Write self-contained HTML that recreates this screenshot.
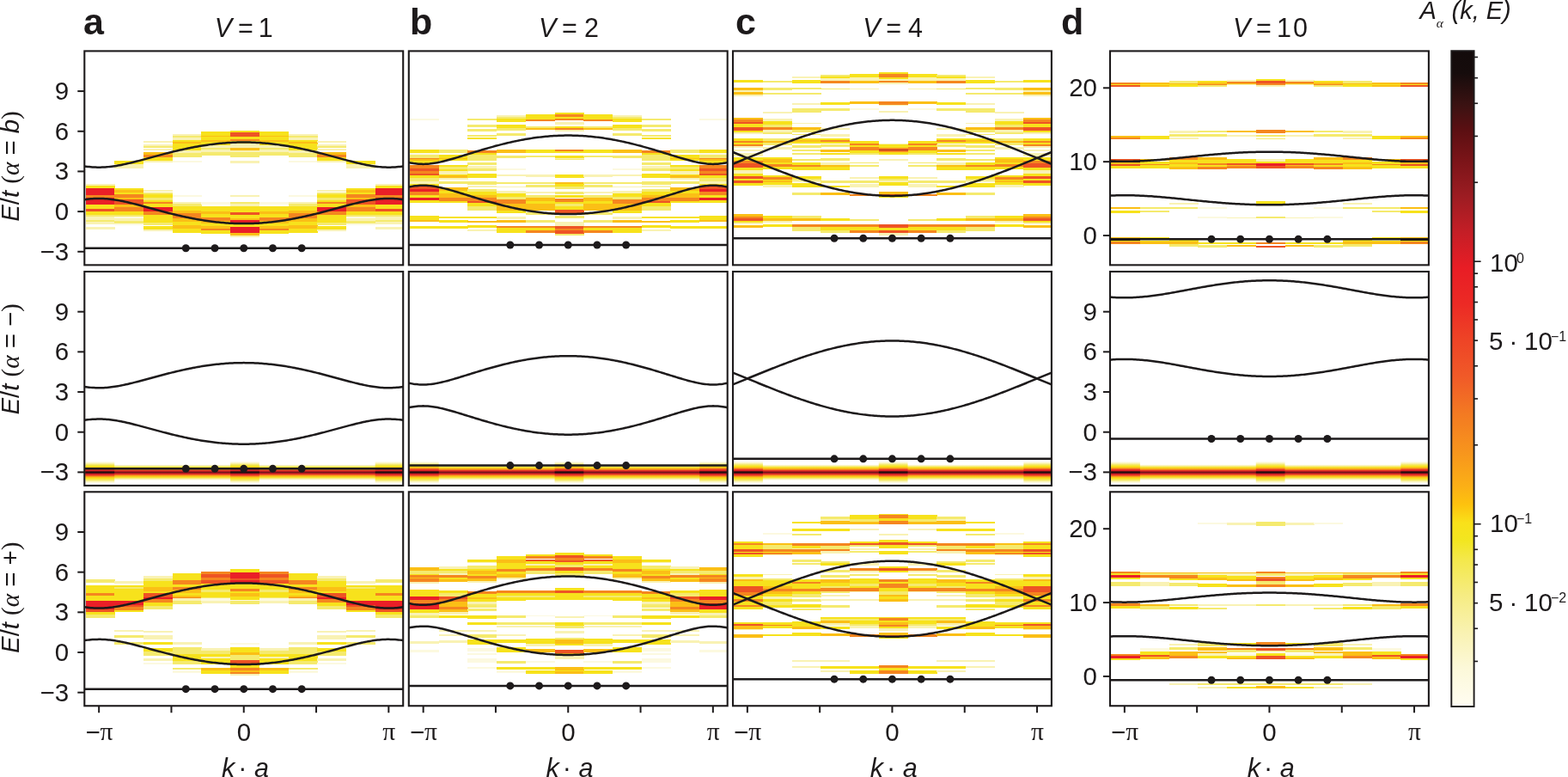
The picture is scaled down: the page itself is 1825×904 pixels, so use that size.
<!DOCTYPE html>
<html><head><meta charset="utf-8"><style>
html,body{margin:0;padding:0;background:#fff;overflow:hidden;}
svg{display:block;}
.tl{font-family:"Liberation Sans", Arial, Helvetica, sans-serif;font-size:30.5px;fill:#1d1a1b;}
.lt{font-family:"Liberation Sans", Arial, Helvetica, sans-serif;font-size:43px;font-weight:bold;fill:#1d1a1b;}
.al{font-family:"Liberation Serif","DejaVu Serif",serif;font-style:italic;}
.sf{font-family:"Liberation Serif","DejaVu Serif",serif;}
.sup{font-size:16px;}
.tk{font-family:"Liberation Sans", Arial, Helvetica, sans-serif;font-size:29.5px;fill:#1d1a1b;}
.pi{font-family:"Liberation Serif","DejaVu Serif",serif;}
</style></head><body>
<svg width="1825" height="904" viewBox="0 0 1825 904">
<defs><clipPath id="clip00"><rect x="98.3" y="59.4" width="370.9" height="248.95"/></clipPath>
<clipPath id="clip01"><rect x="98.3" y="316" width="370.9" height="248.95"/></clipPath>
<clipPath id="clip02"><rect x="98.3" y="572.3" width="370.9" height="248.95"/></clipPath>
<clipPath id="clip10"><rect x="475.8" y="59.4" width="370.9" height="248.95"/></clipPath>
<clipPath id="clip11"><rect x="475.8" y="316" width="370.9" height="248.95"/></clipPath>
<clipPath id="clip12"><rect x="475.8" y="572.3" width="370.9" height="248.95"/></clipPath>
<clipPath id="clip20"><rect x="853" y="59.4" width="370.9" height="248.95"/></clipPath>
<clipPath id="clip21"><rect x="853" y="316" width="370.9" height="248.95"/></clipPath>
<clipPath id="clip22"><rect x="853" y="572.3" width="370.9" height="248.95"/></clipPath>
<clipPath id="clip30"><rect x="1292" y="59.4" width="370.9" height="248.95"/></clipPath>
<clipPath id="clip31"><rect x="1292" y="316" width="370.9" height="248.95"/></clipPath>
<clipPath id="clip32"><rect x="1292" y="572.3" width="370.9" height="248.95"/></clipPath>
<linearGradient id="cbg" x1="0" y1="0" x2="0" y2="1"><stop offset="0.0" stop-color="#130b0b"/><stop offset="0.034" stop-color="#160c0c"/><stop offset="0.084" stop-color="#3c1212"/><stop offset="0.122" stop-color="#5c0f12"/><stop offset="0.166" stop-color="#7a1418"/><stop offset="0.221" stop-color="#9c1c22"/><stop offset="0.276" stop-color="#c41e26"/><stop offset="0.331" stop-color="#e81d25"/><stop offset="0.386" stop-color="#ec2a25"/><stop offset="0.441" stop-color="#ee4426"/><stop offset="0.497" stop-color="#f05a28"/><stop offset="0.554" stop-color="#f37a22"/><stop offset="0.61" stop-color="#f7941d"/><stop offset="0.665" stop-color="#fbb016"/><stop offset="0.692" stop-color="#fdc20e"/><stop offset="0.72" stop-color="#f9e11a"/><stop offset="0.747" stop-color="#f2e620"/><stop offset="0.775" stop-color="#f4e84a"/><stop offset="0.83" stop-color="#f6ec82"/><stop offset="0.885" stop-color="#f9f2b0"/><stop offset="0.94" stop-color="#fcf8d8"/><stop offset="1.0" stop-color="#fffdf2"/></linearGradient>
<linearGradient id="gw" x1="0" y1="0" x2="0" y2="1"><stop offset="0.0" stop-color="#ffffff"/><stop offset="0.0769" stop-color="#fbf6c8"/><stop offset="0.1538" stop-color="#f5ea6a"/><stop offset="0.2308" stop-color="#f6e31d"/><stop offset="0.2885" stop-color="#fbc015"/><stop offset="0.3346" stop-color="#f47a22"/><stop offset="0.3731" stop-color="#eb3b25"/><stop offset="0.4231" stop-color="#d81f26"/><stop offset="0.4538" stop-color="#6a1216"/><stop offset="0.5" stop-color="#1c0d0d"/><stop offset="0.5462" stop-color="#6a1216"/><stop offset="0.5769" stop-color="#d81f26"/><stop offset="0.6269" stop-color="#eb3b25"/><stop offset="0.6654" stop-color="#f47a22"/><stop offset="0.7115" stop-color="#fbc015"/><stop offset="0.7692" stop-color="#f6e31d"/><stop offset="0.8462" stop-color="#f5ea6a"/><stop offset="0.9231" stop-color="#fbf6c8"/><stop offset="1.0" stop-color="#ffffff"/></linearGradient>
<linearGradient id="gn" x1="0" y1="0" x2="0" y2="1"><stop offset="0.0" stop-color="#ffffff"/><stop offset="0.0968" stop-color="#f8f0a4"/><stop offset="0.1774" stop-color="#f5e535"/><stop offset="0.2581" stop-color="#fbc015"/><stop offset="0.3226" stop-color="#f58a20"/><stop offset="0.3763" stop-color="#ec3b25"/><stop offset="0.4301" stop-color="#c81e25"/><stop offset="0.5" stop-color="#6e1418"/><stop offset="0.5699" stop-color="#c81e25"/><stop offset="0.6237" stop-color="#ec3b25"/><stop offset="0.6774" stop-color="#f58a20"/><stop offset="0.7419" stop-color="#fbc015"/><stop offset="0.8226" stop-color="#f5e535"/><stop offset="0.9032" stop-color="#f8f0a4"/><stop offset="1.0" stop-color="#ffffff"/></linearGradient></defs>
<rect width="100%" height="100%" fill="#fff"/>
<g clip-path="url(#clip00)">
<rect x="99.5" y="214.09" width="34.02" height="2.21" fill="#f9f2b4" shape-rendering="crispEdges"/>
<rect x="99.5" y="216.3" width="34.02" height="2.21" fill="#f7e21c" shape-rendering="crispEdges"/>
<rect x="99.5" y="218.51" width="34.02" height="8.3" fill="#ea1f27" shape-rendering="crispEdges"/>
<rect x="99.5" y="226.82" width="34.02" height="2.77" fill="#f5861f" shape-rendering="crispEdges"/>
<rect x="99.5" y="229.58" width="34.02" height="8.3" fill="#ea1f27" shape-rendering="crispEdges"/>
<rect x="99.5" y="237.88" width="34.02" height="5.53" fill="#f7e21c" shape-rendering="crispEdges"/>
<rect x="99.5" y="243.42" width="34.02" height="2.77" fill="#ee5424" shape-rendering="crispEdges"/>
<rect x="99.5" y="246.18" width="34.02" height="3.32" fill="#f7e21c" shape-rendering="crispEdges"/>
<rect x="99.5" y="249.51" width="34.02" height="2.77" fill="#f5ea6e" shape-rendering="crispEdges"/>
<rect x="99.5" y="252.27" width="34.02" height="3.32" fill="#f9f2b4" shape-rendering="crispEdges"/>
<rect x="99.5" y="255.59" width="34.02" height="2.77" fill="#f5ea6e" shape-rendering="crispEdges"/>
<rect x="99.5" y="258.36" width="34.02" height="2.21" fill="#f9f2b4" shape-rendering="crispEdges"/>
<rect x="99.5" y="264.45" width="34.02" height="2.21" fill="#f9f2b4" shape-rendering="crispEdges"/>
<rect x="133.22" y="186.84" width="34.02" height="4.65" fill="#f7e21c" shape-rendering="crispEdges"/>
<rect x="133.22" y="191.49" width="34.02" height="4.98" fill="#f9f2b4" shape-rendering="crispEdges"/>
<rect x="133.22" y="218.51" width="34.02" height="2.21" fill="#f7e21c" shape-rendering="crispEdges"/>
<rect x="133.22" y="220.73" width="34.02" height="2.77" fill="#fbbf16" shape-rendering="crispEdges"/>
<rect x="133.22" y="223.5" width="34.02" height="2.77" fill="#f7e21c" shape-rendering="crispEdges"/>
<rect x="133.22" y="226.26" width="34.02" height="3.87" fill="#f5861f" shape-rendering="crispEdges"/>
<rect x="133.22" y="230.14" width="34.02" height="2.21" fill="#fbbf16" shape-rendering="crispEdges"/>
<rect x="133.22" y="232.35" width="34.02" height="5.53" fill="#ee5424" shape-rendering="crispEdges"/>
<rect x="133.22" y="237.88" width="34.02" height="3.32" fill="#fbbf16" shape-rendering="crispEdges"/>
<rect x="133.22" y="241.2" width="34.02" height="4.98" fill="#f5861f" shape-rendering="crispEdges"/>
<rect x="133.22" y="246.18" width="34.02" height="3.32" fill="#f7e21c" shape-rendering="crispEdges"/>
<rect x="133.22" y="249.51" width="34.02" height="2.21" fill="#f5ea6e" shape-rendering="crispEdges"/>
<rect x="133.22" y="251.72" width="34.02" height="2.77" fill="#fcf9e0" shape-rendering="crispEdges"/>
<rect x="133.22" y="254.49" width="34.02" height="2.77" fill="#f9f2b4" shape-rendering="crispEdges"/>
<rect x="133.22" y="257.25" width="34.02" height="2.77" fill="#f5ea6e" shape-rendering="crispEdges"/>
<rect x="133.22" y="260.02" width="34.02" height="2.21" fill="#fcf9e0" shape-rendering="crispEdges"/>
<rect x="166.94" y="164.37" width="34.02" height="1.66" fill="#f9f2b4" shape-rendering="crispEdges"/>
<rect x="166.94" y="167.69" width="34.02" height="1.88" fill="#f9f2b4" shape-rendering="crispEdges"/>
<rect x="166.94" y="170.46" width="34.02" height="1.99" fill="#f5ea6e" shape-rendering="crispEdges"/>
<rect x="166.94" y="173.22" width="34.02" height="1.88" fill="#f9f2b4" shape-rendering="crispEdges"/>
<rect x="166.94" y="177.1" width="34.02" height="3.32" fill="#fbbf16" shape-rendering="crispEdges"/>
<rect x="166.94" y="180.42" width="34.02" height="2.77" fill="#f5861f" shape-rendering="crispEdges"/>
<rect x="166.94" y="183.18" width="34.02" height="3.65" fill="#f7e21c" shape-rendering="crispEdges"/>
<rect x="166.94" y="186.84" width="34.02" height="2.21" fill="#f9f2b4" shape-rendering="crispEdges"/>
<rect x="166.94" y="221.28" width="34.02" height="2.21" fill="#f9f2b4" shape-rendering="crispEdges"/>
<rect x="166.94" y="223.5" width="34.02" height="2.21" fill="#f5ea6e" shape-rendering="crispEdges"/>
<rect x="166.94" y="225.71" width="34.02" height="4.43" fill="#f7e21c" shape-rendering="crispEdges"/>
<rect x="166.94" y="230.14" width="34.02" height="2.77" fill="#f5ea6e" shape-rendering="crispEdges"/>
<rect x="166.94" y="232.9" width="34.02" height="2.21" fill="#f7e21c" shape-rendering="crispEdges"/>
<rect x="166.94" y="235.12" width="34.02" height="2.21" fill="#f5861f" shape-rendering="crispEdges"/>
<rect x="166.94" y="237.33" width="34.02" height="3.87" fill="#f7e21c" shape-rendering="crispEdges"/>
<rect x="166.94" y="241.2" width="34.02" height="4.43" fill="#ea1f27" shape-rendering="crispEdges"/>
<rect x="166.94" y="245.63" width="34.02" height="4.43" fill="#f5861f" shape-rendering="crispEdges"/>
<rect x="166.94" y="250.06" width="34.02" height="8.85" fill="#f7e21c" shape-rendering="crispEdges"/>
<rect x="166.94" y="258.91" width="34.02" height="3.32" fill="#f5ea6e" shape-rendering="crispEdges"/>
<rect x="166.94" y="263.34" width="34.02" height="3.32" fill="#f7e21c" shape-rendering="crispEdges"/>
<rect x="166.94" y="266.66" width="34.02" height="2.77" fill="#f9f2b4" shape-rendering="crispEdges"/>
<rect x="200.65" y="155.51" width="34.02" height="2.21" fill="#f9f2b4" shape-rendering="crispEdges"/>
<rect x="200.65" y="157.73" width="34.02" height="2.21" fill="#f5ea6e" shape-rendering="crispEdges"/>
<rect x="200.65" y="159.94" width="34.02" height="2.77" fill="#f9f2b4" shape-rendering="crispEdges"/>
<rect x="200.65" y="162.71" width="34.02" height="2.21" fill="#f7e21c" shape-rendering="crispEdges"/>
<rect x="200.65" y="164.92" width="34.02" height="1.66" fill="#fbbf16" shape-rendering="crispEdges"/>
<rect x="200.65" y="166.58" width="34.02" height="8.3" fill="#f7e21c" shape-rendering="crispEdges"/>
<rect x="200.65" y="174.88" width="34.02" height="3.32" fill="#f9f2b4" shape-rendering="crispEdges"/>
<rect x="200.65" y="178.2" width="34.02" height="4.43" fill="#f5ea6e" shape-rendering="crispEdges"/>
<rect x="200.65" y="186.51" width="34.02" height="2.21" fill="#fcf9e0" shape-rendering="crispEdges"/>
<rect x="200.65" y="226.82" width="34.02" height="2.21" fill="#fcf9e0" shape-rendering="crispEdges"/>
<rect x="200.65" y="234.56" width="34.02" height="2.21" fill="#f9f2b4" shape-rendering="crispEdges"/>
<rect x="200.65" y="236.78" width="34.02" height="3.32" fill="#f5ea6e" shape-rendering="crispEdges"/>
<rect x="200.65" y="240.1" width="34.02" height="4.43" fill="#f7e21c" shape-rendering="crispEdges"/>
<rect x="200.65" y="244.52" width="34.02" height="3.32" fill="#fbbf16" shape-rendering="crispEdges"/>
<rect x="200.65" y="247.85" width="34.02" height="6.64" fill="#f5861f" shape-rendering="crispEdges"/>
<rect x="200.65" y="254.49" width="34.02" height="3.32" fill="#fbbf16" shape-rendering="crispEdges"/>
<rect x="200.65" y="257.81" width="34.02" height="4.43" fill="#f7e21c" shape-rendering="crispEdges"/>
<rect x="200.65" y="262.23" width="34.02" height="3.32" fill="#fbbf16" shape-rendering="crispEdges"/>
<rect x="200.65" y="265.55" width="34.02" height="5.53" fill="#f7e21c" shape-rendering="crispEdges"/>
<rect x="234.37" y="153.3" width="34.02" height="4.43" fill="#f7e21c" shape-rendering="crispEdges"/>
<rect x="234.37" y="157.73" width="34.02" height="1.66" fill="#fbbf16" shape-rendering="crispEdges"/>
<rect x="234.37" y="159.39" width="34.02" height="3.32" fill="#f7e21c" shape-rendering="crispEdges"/>
<rect x="234.37" y="162.71" width="34.02" height="2.77" fill="#fbbf16" shape-rendering="crispEdges"/>
<rect x="234.37" y="165.48" width="34.02" height="3.32" fill="#f7e21c" shape-rendering="crispEdges"/>
<rect x="234.37" y="168.8" width="34.02" height="3.32" fill="#f9f2b4" shape-rendering="crispEdges"/>
<rect x="234.37" y="172.12" width="34.02" height="2.21" fill="#f5ea6e" shape-rendering="crispEdges"/>
<rect x="234.37" y="174.33" width="34.02" height="2.77" fill="#f9f2b4" shape-rendering="crispEdges"/>
<rect x="234.37" y="177.1" width="34.02" height="3.87" fill="#f5ea6e" shape-rendering="crispEdges"/>
<rect x="234.37" y="234.56" width="34.02" height="3.32" fill="#fcf9e0" shape-rendering="crispEdges"/>
<rect x="234.37" y="240.1" width="34.02" height="6.09" fill="#f7e21c" shape-rendering="crispEdges"/>
<rect x="234.37" y="246.18" width="34.02" height="2.77" fill="#fbbf16" shape-rendering="crispEdges"/>
<rect x="234.37" y="248.95" width="34.02" height="4.43" fill="#f7e21c" shape-rendering="crispEdges"/>
<rect x="234.37" y="253.38" width="34.02" height="3.87" fill="#f5861f" shape-rendering="crispEdges"/>
<rect x="234.37" y="257.25" width="34.02" height="2.77" fill="#fbbf16" shape-rendering="crispEdges"/>
<rect x="234.37" y="260.02" width="34.02" height="3.32" fill="#f7e21c" shape-rendering="crispEdges"/>
<rect x="234.37" y="263.34" width="34.02" height="2.21" fill="#fbbf16" shape-rendering="crispEdges"/>
<rect x="234.37" y="265.55" width="34.02" height="2.77" fill="#f5861f" shape-rendering="crispEdges"/>
<rect x="234.37" y="268.32" width="34.02" height="3.32" fill="#f7e21c" shape-rendering="crispEdges"/>
<rect x="268.09" y="151.64" width="34.02" height="2.77" fill="#f7e21c" shape-rendering="crispEdges"/>
<rect x="268.09" y="154.41" width="34.02" height="4.98" fill="#ee5424" shape-rendering="crispEdges"/>
<rect x="268.09" y="159.39" width="34.02" height="2.21" fill="#f7e21c" shape-rendering="crispEdges"/>
<rect x="268.09" y="161.6" width="34.02" height="2.77" fill="#f5861f" shape-rendering="crispEdges"/>
<rect x="268.09" y="164.37" width="34.02" height="2.21" fill="#f7e21c" shape-rendering="crispEdges"/>
<rect x="268.09" y="166.58" width="34.02" height="4.98" fill="#f9f2b4" shape-rendering="crispEdges"/>
<rect x="268.09" y="171.56" width="34.02" height="3.87" fill="#fbbf16" shape-rendering="crispEdges"/>
<rect x="268.09" y="175.44" width="34.02" height="1.66" fill="#f9f2b4" shape-rendering="crispEdges"/>
<rect x="268.09" y="177.1" width="34.02" height="5.53" fill="#f5ea6e" shape-rendering="crispEdges"/>
<rect x="268.09" y="186.51" width="34.02" height="3.87" fill="#f9f2b4" shape-rendering="crispEdges"/>
<rect x="268.09" y="226.82" width="34.02" height="2.21" fill="#f9f2b4" shape-rendering="crispEdges"/>
<rect x="268.09" y="234.56" width="34.02" height="2.21" fill="#f5ea6e" shape-rendering="crispEdges"/>
<rect x="268.09" y="236.78" width="34.02" height="3.32" fill="#f9f2b4" shape-rendering="crispEdges"/>
<rect x="268.09" y="240.1" width="34.02" height="7.19" fill="#f7e21c" shape-rendering="crispEdges"/>
<rect x="268.09" y="247.29" width="34.02" height="2.21" fill="#ee5424" shape-rendering="crispEdges"/>
<rect x="268.09" y="249.51" width="34.02" height="4.98" fill="#f7e21c" shape-rendering="crispEdges"/>
<rect x="268.09" y="254.49" width="34.02" height="1.11" fill="#fbbf16" shape-rendering="crispEdges"/>
<rect x="268.09" y="255.59" width="34.02" height="5.53" fill="#ea1f27" shape-rendering="crispEdges"/>
<rect x="268.09" y="261.13" width="34.02" height="3.32" fill="#f7e21c" shape-rendering="crispEdges"/>
<rect x="268.09" y="264.45" width="34.02" height="6.64" fill="#ea1f27" shape-rendering="crispEdges"/>
<rect x="268.09" y="271.09" width="34.02" height="3.32" fill="#fbbf16" shape-rendering="crispEdges"/>
<rect x="268.09" y="274.41" width="34.02" height="1.66" fill="#f9f2b4" shape-rendering="crispEdges"/>
<rect x="301.81" y="153.3" width="34.02" height="4.43" fill="#f7e21c" shape-rendering="crispEdges"/>
<rect x="301.81" y="157.73" width="34.02" height="1.66" fill="#fbbf16" shape-rendering="crispEdges"/>
<rect x="301.81" y="159.39" width="34.02" height="3.32" fill="#f7e21c" shape-rendering="crispEdges"/>
<rect x="301.81" y="162.71" width="34.02" height="2.77" fill="#fbbf16" shape-rendering="crispEdges"/>
<rect x="301.81" y="165.48" width="34.02" height="3.32" fill="#f7e21c" shape-rendering="crispEdges"/>
<rect x="301.81" y="168.8" width="34.02" height="3.32" fill="#f9f2b4" shape-rendering="crispEdges"/>
<rect x="301.81" y="172.12" width="34.02" height="2.21" fill="#f5ea6e" shape-rendering="crispEdges"/>
<rect x="301.81" y="174.33" width="34.02" height="2.77" fill="#f9f2b4" shape-rendering="crispEdges"/>
<rect x="301.81" y="177.1" width="34.02" height="3.87" fill="#f5ea6e" shape-rendering="crispEdges"/>
<rect x="301.81" y="234.56" width="34.02" height="3.32" fill="#fcf9e0" shape-rendering="crispEdges"/>
<rect x="301.81" y="240.1" width="34.02" height="6.09" fill="#f7e21c" shape-rendering="crispEdges"/>
<rect x="301.81" y="246.18" width="34.02" height="2.77" fill="#fbbf16" shape-rendering="crispEdges"/>
<rect x="301.81" y="248.95" width="34.02" height="4.43" fill="#f7e21c" shape-rendering="crispEdges"/>
<rect x="301.81" y="253.38" width="34.02" height="3.87" fill="#f5861f" shape-rendering="crispEdges"/>
<rect x="301.81" y="257.25" width="34.02" height="2.77" fill="#fbbf16" shape-rendering="crispEdges"/>
<rect x="301.81" y="260.02" width="34.02" height="3.32" fill="#f7e21c" shape-rendering="crispEdges"/>
<rect x="301.81" y="263.34" width="34.02" height="2.21" fill="#fbbf16" shape-rendering="crispEdges"/>
<rect x="301.81" y="265.55" width="34.02" height="2.77" fill="#f5861f" shape-rendering="crispEdges"/>
<rect x="301.81" y="268.32" width="34.02" height="3.32" fill="#f7e21c" shape-rendering="crispEdges"/>
<rect x="335.53" y="155.51" width="34.02" height="2.21" fill="#f9f2b4" shape-rendering="crispEdges"/>
<rect x="335.53" y="157.73" width="34.02" height="2.21" fill="#f5ea6e" shape-rendering="crispEdges"/>
<rect x="335.53" y="159.94" width="34.02" height="2.77" fill="#f9f2b4" shape-rendering="crispEdges"/>
<rect x="335.53" y="162.71" width="34.02" height="2.21" fill="#f7e21c" shape-rendering="crispEdges"/>
<rect x="335.53" y="164.92" width="34.02" height="1.66" fill="#fbbf16" shape-rendering="crispEdges"/>
<rect x="335.53" y="166.58" width="34.02" height="8.3" fill="#f7e21c" shape-rendering="crispEdges"/>
<rect x="335.53" y="174.88" width="34.02" height="3.32" fill="#f9f2b4" shape-rendering="crispEdges"/>
<rect x="335.53" y="178.2" width="34.02" height="4.43" fill="#f5ea6e" shape-rendering="crispEdges"/>
<rect x="335.53" y="186.51" width="34.02" height="2.21" fill="#fcf9e0" shape-rendering="crispEdges"/>
<rect x="335.53" y="226.82" width="34.02" height="2.21" fill="#fcf9e0" shape-rendering="crispEdges"/>
<rect x="335.53" y="234.56" width="34.02" height="2.21" fill="#f9f2b4" shape-rendering="crispEdges"/>
<rect x="335.53" y="236.78" width="34.02" height="3.32" fill="#f5ea6e" shape-rendering="crispEdges"/>
<rect x="335.53" y="240.1" width="34.02" height="4.43" fill="#f7e21c" shape-rendering="crispEdges"/>
<rect x="335.53" y="244.52" width="34.02" height="3.32" fill="#fbbf16" shape-rendering="crispEdges"/>
<rect x="335.53" y="247.85" width="34.02" height="6.64" fill="#f5861f" shape-rendering="crispEdges"/>
<rect x="335.53" y="254.49" width="34.02" height="3.32" fill="#fbbf16" shape-rendering="crispEdges"/>
<rect x="335.53" y="257.81" width="34.02" height="4.43" fill="#f7e21c" shape-rendering="crispEdges"/>
<rect x="335.53" y="262.23" width="34.02" height="3.32" fill="#fbbf16" shape-rendering="crispEdges"/>
<rect x="335.53" y="265.55" width="34.02" height="5.53" fill="#f7e21c" shape-rendering="crispEdges"/>
<rect x="369.25" y="164.37" width="34.02" height="1.66" fill="#f9f2b4" shape-rendering="crispEdges"/>
<rect x="369.25" y="167.69" width="34.02" height="1.88" fill="#f9f2b4" shape-rendering="crispEdges"/>
<rect x="369.25" y="170.46" width="34.02" height="1.99" fill="#f5ea6e" shape-rendering="crispEdges"/>
<rect x="369.25" y="173.22" width="34.02" height="1.88" fill="#f9f2b4" shape-rendering="crispEdges"/>
<rect x="369.25" y="177.1" width="34.02" height="3.32" fill="#fbbf16" shape-rendering="crispEdges"/>
<rect x="369.25" y="180.42" width="34.02" height="2.77" fill="#f5861f" shape-rendering="crispEdges"/>
<rect x="369.25" y="183.18" width="34.02" height="3.65" fill="#f7e21c" shape-rendering="crispEdges"/>
<rect x="369.25" y="186.84" width="34.02" height="2.21" fill="#f9f2b4" shape-rendering="crispEdges"/>
<rect x="369.25" y="221.28" width="34.02" height="2.21" fill="#f9f2b4" shape-rendering="crispEdges"/>
<rect x="369.25" y="223.5" width="34.02" height="2.21" fill="#f5ea6e" shape-rendering="crispEdges"/>
<rect x="369.25" y="225.71" width="34.02" height="4.43" fill="#f7e21c" shape-rendering="crispEdges"/>
<rect x="369.25" y="230.14" width="34.02" height="2.77" fill="#f5ea6e" shape-rendering="crispEdges"/>
<rect x="369.25" y="232.9" width="34.02" height="2.21" fill="#f7e21c" shape-rendering="crispEdges"/>
<rect x="369.25" y="235.12" width="34.02" height="2.21" fill="#f5861f" shape-rendering="crispEdges"/>
<rect x="369.25" y="237.33" width="34.02" height="3.87" fill="#f7e21c" shape-rendering="crispEdges"/>
<rect x="369.25" y="241.2" width="34.02" height="4.43" fill="#ea1f27" shape-rendering="crispEdges"/>
<rect x="369.25" y="245.63" width="34.02" height="4.43" fill="#f5861f" shape-rendering="crispEdges"/>
<rect x="369.25" y="250.06" width="34.02" height="8.85" fill="#f7e21c" shape-rendering="crispEdges"/>
<rect x="369.25" y="258.91" width="34.02" height="3.32" fill="#f5ea6e" shape-rendering="crispEdges"/>
<rect x="369.25" y="263.34" width="34.02" height="3.32" fill="#f7e21c" shape-rendering="crispEdges"/>
<rect x="369.25" y="266.66" width="34.02" height="2.77" fill="#f9f2b4" shape-rendering="crispEdges"/>
<rect x="402.96" y="186.84" width="34.02" height="4.65" fill="#f7e21c" shape-rendering="crispEdges"/>
<rect x="402.96" y="191.49" width="34.02" height="4.98" fill="#f9f2b4" shape-rendering="crispEdges"/>
<rect x="402.96" y="218.51" width="34.02" height="2.21" fill="#f7e21c" shape-rendering="crispEdges"/>
<rect x="402.96" y="220.73" width="34.02" height="2.77" fill="#fbbf16" shape-rendering="crispEdges"/>
<rect x="402.96" y="223.5" width="34.02" height="2.77" fill="#f7e21c" shape-rendering="crispEdges"/>
<rect x="402.96" y="226.26" width="34.02" height="3.87" fill="#f5861f" shape-rendering="crispEdges"/>
<rect x="402.96" y="230.14" width="34.02" height="2.21" fill="#fbbf16" shape-rendering="crispEdges"/>
<rect x="402.96" y="232.35" width="34.02" height="5.53" fill="#ee5424" shape-rendering="crispEdges"/>
<rect x="402.96" y="237.88" width="34.02" height="3.32" fill="#fbbf16" shape-rendering="crispEdges"/>
<rect x="402.96" y="241.2" width="34.02" height="4.98" fill="#f5861f" shape-rendering="crispEdges"/>
<rect x="402.96" y="246.18" width="34.02" height="3.32" fill="#f7e21c" shape-rendering="crispEdges"/>
<rect x="402.96" y="249.51" width="34.02" height="2.21" fill="#f5ea6e" shape-rendering="crispEdges"/>
<rect x="402.96" y="251.72" width="34.02" height="2.77" fill="#fcf9e0" shape-rendering="crispEdges"/>
<rect x="402.96" y="254.49" width="34.02" height="2.77" fill="#f9f2b4" shape-rendering="crispEdges"/>
<rect x="402.96" y="257.25" width="34.02" height="2.77" fill="#f5ea6e" shape-rendering="crispEdges"/>
<rect x="402.96" y="260.02" width="34.02" height="2.21" fill="#fcf9e0" shape-rendering="crispEdges"/>
<rect x="436.68" y="214.09" width="34.02" height="2.21" fill="#f9f2b4" shape-rendering="crispEdges"/>
<rect x="436.68" y="216.3" width="34.02" height="2.21" fill="#f7e21c" shape-rendering="crispEdges"/>
<rect x="436.68" y="218.51" width="34.02" height="8.3" fill="#ea1f27" shape-rendering="crispEdges"/>
<rect x="436.68" y="226.82" width="34.02" height="2.77" fill="#f5861f" shape-rendering="crispEdges"/>
<rect x="436.68" y="229.58" width="34.02" height="8.3" fill="#ea1f27" shape-rendering="crispEdges"/>
<rect x="436.68" y="237.88" width="34.02" height="5.53" fill="#f7e21c" shape-rendering="crispEdges"/>
<rect x="436.68" y="243.42" width="34.02" height="2.77" fill="#ee5424" shape-rendering="crispEdges"/>
<rect x="436.68" y="246.18" width="34.02" height="3.32" fill="#f7e21c" shape-rendering="crispEdges"/>
<rect x="436.68" y="249.51" width="34.02" height="2.77" fill="#f5ea6e" shape-rendering="crispEdges"/>
<rect x="436.68" y="252.27" width="34.02" height="3.32" fill="#f9f2b4" shape-rendering="crispEdges"/>
<rect x="436.68" y="255.59" width="34.02" height="2.77" fill="#f5ea6e" shape-rendering="crispEdges"/>
<rect x="436.68" y="258.36" width="34.02" height="2.21" fill="#f9f2b4" shape-rendering="crispEdges"/>
<rect x="436.68" y="264.45" width="34.02" height="2.21" fill="#f9f2b4" shape-rendering="crispEdges"/>
<polyline points="98.3,193.43 100.15,193.68 102.01,193.9 103.86,194.1 105.72,194.27 107.57,194.41 109.43,194.52 111.28,194.6 113.14,194.65 114.99,194.67 116.84,194.66 118.7,194.61 120.55,194.54 122.41,194.43 124.26,194.3 126.12,194.13 127.97,193.94 129.83,193.72 131.68,193.47 133.54,193.2 135.39,192.91 137.24,192.59 139.1,192.26 140.95,191.9 142.81,191.53 144.66,191.14 146.52,190.74 148.37,190.32 150.23,189.89 152.08,189.44 153.94,188.99 155.79,188.53 157.64,188.06 159.5,187.58 161.35,187.1 163.21,186.61 165.06,186.12 166.92,185.62 168.77,185.12 170.63,184.62 172.48,184.12 174.33,183.61 176.19,183.11 178.04,182.61 179.9,182.1 181.75,181.6 183.61,181.11 185.46,180.61 187.32,180.12 189.17,179.63 191.02,179.14 192.88,178.66 194.73,178.18 196.59,177.71 198.44,177.25 200.3,176.79 202.15,176.33 204.01,175.88 205.86,175.44 207.72,175.01 209.57,174.58 211.42,174.16 213.28,173.75 215.13,173.35 216.99,172.95 218.84,172.56 220.7,172.18 222.55,171.81 224.41,171.45 226.26,171.1 228.12,170.76 229.97,170.43 231.82,170.1 233.68,169.79 235.53,169.49 237.39,169.2 239.24,168.91 241.1,168.64 242.95,168.38 244.81,168.13 246.66,167.89 248.51,167.66 250.37,167.45 252.22,167.24 254.08,167.05 255.93,166.86 257.79,166.69 259.64,166.53 261.5,166.38 263.35,166.24 265.2,166.12 267.06,166.01 268.91,165.9 270.77,165.81 272.62,165.74 274.48,165.67 276.33,165.62 278.19,165.57 280.04,165.54 281.9,165.53 283.75,165.52 285.6,165.53 287.46,165.54 289.31,165.57 291.17,165.62 293.02,165.67 294.88,165.74 296.73,165.81 298.59,165.9 300.44,166.01 302.3,166.12 304.15,166.24 306,166.38 307.86,166.53 309.71,166.69 311.57,166.86 313.42,167.05 315.28,167.24 317.13,167.45 318.99,167.66 320.84,167.89 322.69,168.13 324.55,168.38 326.4,168.64 328.26,168.91 330.11,169.2 331.97,169.49 333.82,169.79 335.68,170.1 337.53,170.43 339.38,170.76 341.24,171.1 343.09,171.45 344.95,171.81 346.8,172.18 348.66,172.56 350.51,172.95 352.37,173.35 354.22,173.75 356.08,174.16 357.93,174.58 359.78,175.01 361.64,175.44 363.49,175.88 365.35,176.33 367.2,176.79 369.06,177.25 370.91,177.71 372.77,178.18 374.62,178.66 376.47,179.14 378.33,179.63 380.18,180.12 382.04,180.61 383.89,181.11 385.75,181.6 387.6,182.1 389.46,182.61 391.31,183.11 393.17,183.61 395.02,184.12 396.87,184.62 398.73,185.12 400.58,185.62 402.44,186.12 404.29,186.61 406.15,187.1 408,187.58 409.86,188.06 411.71,188.53 413.56,188.99 415.42,189.44 417.27,189.89 419.13,190.32 420.98,190.74 422.84,191.14 424.69,191.53 426.55,191.9 428.4,192.26 430.26,192.59 432.11,192.91 433.96,193.2 435.82,193.47 437.67,193.72 439.53,193.94 441.38,194.13 443.24,194.3 445.09,194.43 446.95,194.54 448.8,194.61 450.66,194.66 452.51,194.67 454.36,194.65 456.22,194.6 458.07,194.52 459.93,194.41 461.78,194.27 463.64,194.1 465.49,193.9 467.35,193.68 469.2,193.43" fill="none" stroke="#1d1a1b" stroke-width="2.5"/>
<polyline points="98.3,232.2 100.15,231.95 102.01,231.73 103.86,231.53 105.72,231.36 107.57,231.22 109.43,231.11 111.28,231.03 113.14,230.98 114.99,230.96 116.84,230.97 118.7,231.02 120.55,231.09 122.41,231.2 124.26,231.33 126.12,231.5 127.97,231.69 129.83,231.91 131.68,232.16 133.54,232.43 135.39,232.72 137.24,233.04 139.1,233.37 140.95,233.73 142.81,234.1 144.66,234.49 146.52,234.9 148.37,235.31 150.23,235.74 152.08,236.19 153.94,236.64 155.79,237.1 157.64,237.57 159.5,238.05 161.35,238.53 163.21,239.02 165.06,239.51 166.92,240.01 168.77,240.51 170.63,241.01 172.48,241.51 174.33,242.02 176.19,242.52 178.04,243.02 179.9,243.53 181.75,244.03 183.61,244.52 185.46,245.02 187.32,245.51 189.17,246 191.02,246.49 192.88,246.97 194.73,247.45 196.59,247.92 198.44,248.38 200.3,248.84 202.15,249.3 204.01,249.75 205.86,250.19 207.72,250.62 209.57,251.05 211.42,251.47 213.28,251.88 215.13,252.28 216.99,252.68 218.84,253.07 220.7,253.45 222.55,253.82 224.41,254.18 226.26,254.53 228.12,254.87 229.97,255.2 231.82,255.53 233.68,255.84 235.53,256.14 237.39,256.43 239.24,256.72 241.1,256.99 242.95,257.25 244.81,257.5 246.66,257.74 248.51,257.97 250.37,258.18 252.22,258.39 254.08,258.58 255.93,258.77 257.79,258.94 259.64,259.1 261.5,259.25 263.35,259.39 265.2,259.51 267.06,259.63 268.91,259.73 270.77,259.82 272.62,259.9 274.48,259.96 276.33,260.02 278.19,260.06 280.04,260.09 281.9,260.11 283.75,260.11 285.6,260.11 287.46,260.09 289.31,260.06 291.17,260.02 293.02,259.96 294.88,259.9 296.73,259.82 298.59,259.73 300.44,259.63 302.3,259.51 304.15,259.39 306,259.25 307.86,259.1 309.71,258.94 311.57,258.77 313.42,258.58 315.28,258.39 317.13,258.18 318.99,257.97 320.84,257.74 322.69,257.5 324.55,257.25 326.4,256.99 328.26,256.72 330.11,256.43 331.97,256.14 333.82,255.84 335.68,255.53 337.53,255.2 339.38,254.87 341.24,254.53 343.09,254.18 344.95,253.82 346.8,253.45 348.66,253.07 350.51,252.68 352.37,252.28 354.22,251.88 356.08,251.47 357.93,251.05 359.78,250.62 361.64,250.19 363.49,249.75 365.35,249.3 367.2,248.84 369.06,248.38 370.91,247.92 372.77,247.45 374.62,246.97 376.47,246.49 378.33,246 380.18,245.51 382.04,245.02 383.89,244.52 385.75,244.03 387.6,243.53 389.46,243.02 391.31,242.52 393.17,242.02 395.02,241.51 396.87,241.01 398.73,240.51 400.58,240.01 402.44,239.51 404.29,239.02 406.15,238.53 408,238.05 409.86,237.57 411.71,237.1 413.56,236.64 415.42,236.19 417.27,235.74 419.13,235.31 420.98,234.9 422.84,234.49 424.69,234.1 426.55,233.73 428.4,233.37 430.26,233.04 432.11,232.72 433.96,232.43 435.82,232.16 437.67,231.91 439.53,231.69 441.38,231.5 443.24,231.33 445.09,231.2 446.95,231.09 448.8,231.02 450.66,230.97 452.51,230.96 454.36,230.98 456.22,231.03 458.07,231.11 459.93,231.22 461.78,231.36 463.64,231.53 465.49,231.73 467.35,231.95 469.2,232.2" fill="none" stroke="#1d1a1b" stroke-width="2.5"/>
<line x1="98.3" y1="288.75" x2="469.2" y2="288.75" stroke="#1d1a1b" stroke-width="2.5"/>
<circle cx="216.31" cy="288.75" r="4.5" fill="#1d1a1b"/>
<circle cx="250.03" cy="288.75" r="4.5" fill="#1d1a1b"/>
<circle cx="283.75" cy="288.75" r="4.5" fill="#1d1a1b"/>
<circle cx="317.47" cy="288.75" r="4.5" fill="#1d1a1b"/>
<circle cx="351.19" cy="288.75" r="4.5" fill="#1d1a1b"/>
</g>
<rect x="98.3" y="59.4" width="370.9" height="248.95" fill="none" stroke="#1d1a1b" stroke-width="2.1"/>
<line x1="90.3" y1="292.79" x2="98.3" y2="292.79" stroke="#1d1a1b" stroke-width="2.0"/>
<text x="80.2" y="302.79" text-anchor="end" class="tk">−3</text>
<line x1="90.3" y1="246.11" x2="98.3" y2="246.11" stroke="#1d1a1b" stroke-width="2.0"/>
<text x="80.2" y="256.11" text-anchor="end" class="tk">0</text>
<line x1="90.3" y1="199.43" x2="98.3" y2="199.43" stroke="#1d1a1b" stroke-width="2.0"/>
<text x="80.2" y="209.43" text-anchor="end" class="tk">3</text>
<line x1="90.3" y1="152.76" x2="98.3" y2="152.76" stroke="#1d1a1b" stroke-width="2.0"/>
<text x="80.2" y="162.76" text-anchor="end" class="tk">6</text>
<line x1="90.3" y1="106.08" x2="98.3" y2="106.08" stroke="#1d1a1b" stroke-width="2.0"/>
<text x="80.2" y="116.08" text-anchor="end" class="tk">9</text>
<g clip-path="url(#clip01)">
<rect x="98.3" y="540.3" width="370.9" height="18.6" fill="url(#gn)"/>
<rect x="99.5" y="536.6" width="33.72" height="26" fill="url(#gw)"/>
<rect x="268.09" y="536.6" width="33.72" height="26" fill="url(#gw)"/>
<rect x="436.68" y="536.6" width="33.72" height="26" fill="url(#gw)"/>
<polyline points="98.3,450.03 100.15,450.28 102.01,450.5 103.86,450.7 105.72,450.87 107.57,451.01 109.43,451.12 111.28,451.2 113.14,451.25 114.99,451.27 116.84,451.26 118.7,451.21 120.55,451.14 122.41,451.03 124.26,450.9 126.12,450.73 127.97,450.54 129.83,450.32 131.68,450.07 133.54,449.8 135.39,449.51 137.24,449.19 139.1,448.86 140.95,448.5 142.81,448.13 144.66,447.74 146.52,447.34 148.37,446.92 150.23,446.49 152.08,446.04 153.94,445.59 155.79,445.13 157.64,444.66 159.5,444.18 161.35,443.7 163.21,443.21 165.06,442.72 166.92,442.22 168.77,441.72 170.63,441.22 172.48,440.72 174.33,440.21 176.19,439.71 178.04,439.21 179.9,438.7 181.75,438.2 183.61,437.71 185.46,437.21 187.32,436.72 189.17,436.23 191.02,435.74 192.88,435.26 194.73,434.78 196.59,434.31 198.44,433.85 200.3,433.39 202.15,432.93 204.01,432.48 205.86,432.04 207.72,431.61 209.57,431.18 211.42,430.76 213.28,430.35 215.13,429.95 216.99,429.55 218.84,429.16 220.7,428.78 222.55,428.41 224.41,428.05 226.26,427.7 228.12,427.36 229.97,427.03 231.82,426.7 233.68,426.39 235.53,426.09 237.39,425.8 239.24,425.51 241.1,425.24 242.95,424.98 244.81,424.73 246.66,424.49 248.51,424.26 250.37,424.05 252.22,423.84 254.08,423.65 255.93,423.46 257.79,423.29 259.64,423.13 261.5,422.98 263.35,422.84 265.2,422.72 267.06,422.61 268.91,422.5 270.77,422.41 272.62,422.34 274.48,422.27 276.33,422.22 278.19,422.17 280.04,422.14 281.9,422.13 283.75,422.12 285.6,422.13 287.46,422.14 289.31,422.17 291.17,422.22 293.02,422.27 294.88,422.34 296.73,422.41 298.59,422.5 300.44,422.61 302.3,422.72 304.15,422.84 306,422.98 307.86,423.13 309.71,423.29 311.57,423.46 313.42,423.65 315.28,423.84 317.13,424.05 318.99,424.26 320.84,424.49 322.69,424.73 324.55,424.98 326.4,425.24 328.26,425.51 330.11,425.8 331.97,426.09 333.82,426.39 335.68,426.7 337.53,427.03 339.38,427.36 341.24,427.7 343.09,428.05 344.95,428.41 346.8,428.78 348.66,429.16 350.51,429.55 352.37,429.95 354.22,430.35 356.08,430.76 357.93,431.18 359.78,431.61 361.64,432.04 363.49,432.48 365.35,432.93 367.2,433.39 369.06,433.85 370.91,434.31 372.77,434.78 374.62,435.26 376.47,435.74 378.33,436.23 380.18,436.72 382.04,437.21 383.89,437.71 385.75,438.2 387.6,438.7 389.46,439.21 391.31,439.71 393.17,440.21 395.02,440.72 396.87,441.22 398.73,441.72 400.58,442.22 402.44,442.72 404.29,443.21 406.15,443.7 408,444.18 409.86,444.66 411.71,445.13 413.56,445.59 415.42,446.04 417.27,446.49 419.13,446.92 420.98,447.34 422.84,447.74 424.69,448.13 426.55,448.5 428.4,448.86 430.26,449.19 432.11,449.51 433.96,449.8 435.82,450.07 437.67,450.32 439.53,450.54 441.38,450.73 443.24,450.9 445.09,451.03 446.95,451.14 448.8,451.21 450.66,451.26 452.51,451.27 454.36,451.25 456.22,451.2 458.07,451.12 459.93,451.01 461.78,450.87 463.64,450.7 465.49,450.5 467.35,450.28 469.2,450.03" fill="none" stroke="#1d1a1b" stroke-width="2.5"/>
<polyline points="98.3,488.8 100.15,488.55 102.01,488.33 103.86,488.13 105.72,487.96 107.57,487.82 109.43,487.71 111.28,487.63 113.14,487.58 114.99,487.56 116.84,487.57 118.7,487.62 120.55,487.69 122.41,487.8 124.26,487.93 126.12,488.1 127.97,488.29 129.83,488.51 131.68,488.76 133.54,489.03 135.39,489.32 137.24,489.64 139.1,489.97 140.95,490.33 142.81,490.7 144.66,491.09 146.52,491.5 148.37,491.91 150.23,492.34 152.08,492.79 153.94,493.24 155.79,493.7 157.64,494.17 159.5,494.65 161.35,495.13 163.21,495.62 165.06,496.11 166.92,496.61 168.77,497.11 170.63,497.61 172.48,498.11 174.33,498.62 176.19,499.12 178.04,499.62 179.9,500.13 181.75,500.63 183.61,501.12 185.46,501.62 187.32,502.11 189.17,502.6 191.02,503.09 192.88,503.57 194.73,504.05 196.59,504.52 198.44,504.98 200.3,505.44 202.15,505.9 204.01,506.35 205.86,506.79 207.72,507.22 209.57,507.65 211.42,508.07 213.28,508.48 215.13,508.88 216.99,509.28 218.84,509.67 220.7,510.05 222.55,510.42 224.41,510.78 226.26,511.13 228.12,511.47 229.97,511.8 231.82,512.13 233.68,512.44 235.53,512.74 237.39,513.03 239.24,513.32 241.1,513.59 242.95,513.85 244.81,514.1 246.66,514.34 248.51,514.57 250.37,514.78 252.22,514.99 254.08,515.18 255.93,515.37 257.79,515.54 259.64,515.7 261.5,515.85 263.35,515.99 265.2,516.11 267.06,516.23 268.91,516.33 270.77,516.42 272.62,516.5 274.48,516.56 276.33,516.62 278.19,516.66 280.04,516.69 281.9,516.71 283.75,516.71 285.6,516.71 287.46,516.69 289.31,516.66 291.17,516.62 293.02,516.56 294.88,516.5 296.73,516.42 298.59,516.33 300.44,516.23 302.3,516.11 304.15,515.99 306,515.85 307.86,515.7 309.71,515.54 311.57,515.37 313.42,515.18 315.28,514.99 317.13,514.78 318.99,514.57 320.84,514.34 322.69,514.1 324.55,513.85 326.4,513.59 328.26,513.32 330.11,513.03 331.97,512.74 333.82,512.44 335.68,512.13 337.53,511.8 339.38,511.47 341.24,511.13 343.09,510.78 344.95,510.42 346.8,510.05 348.66,509.67 350.51,509.28 352.37,508.88 354.22,508.48 356.08,508.07 357.93,507.65 359.78,507.22 361.64,506.79 363.49,506.35 365.35,505.9 367.2,505.44 369.06,504.98 370.91,504.52 372.77,504.05 374.62,503.57 376.47,503.09 378.33,502.6 380.18,502.11 382.04,501.62 383.89,501.12 385.75,500.63 387.6,500.13 389.46,499.62 391.31,499.12 393.17,498.62 395.02,498.11 396.87,497.61 398.73,497.11 400.58,496.61 402.44,496.11 404.29,495.62 406.15,495.13 408,494.65 409.86,494.17 411.71,493.7 413.56,493.24 415.42,492.79 417.27,492.34 419.13,491.91 420.98,491.5 422.84,491.09 424.69,490.7 426.55,490.33 428.4,489.97 430.26,489.64 432.11,489.32 433.96,489.03 435.82,488.76 437.67,488.51 439.53,488.29 441.38,488.1 443.24,487.93 445.09,487.8 446.95,487.69 448.8,487.62 450.66,487.57 452.51,487.56 454.36,487.58 456.22,487.63 458.07,487.71 459.93,487.82 461.78,487.96 463.64,488.13 465.49,488.33 467.35,488.55 469.2,488.8" fill="none" stroke="#1d1a1b" stroke-width="2.5"/>
<line x1="98.3" y1="545.35" x2="469.2" y2="545.35" stroke="#1d1a1b" stroke-width="2.5"/>
<circle cx="216.31" cy="545.35" r="4.5" fill="#1d1a1b"/>
<circle cx="250.03" cy="545.35" r="4.5" fill="#1d1a1b"/>
<circle cx="283.75" cy="545.35" r="4.5" fill="#1d1a1b"/>
<circle cx="317.47" cy="545.35" r="4.5" fill="#1d1a1b"/>
<circle cx="351.19" cy="545.35" r="4.5" fill="#1d1a1b"/>
</g>
<rect x="98.3" y="316" width="370.9" height="248.95" fill="none" stroke="#1d1a1b" stroke-width="2.1"/>
<line x1="90.3" y1="549.39" x2="98.3" y2="549.39" stroke="#1d1a1b" stroke-width="2.0"/>
<text x="80.2" y="559.39" text-anchor="end" class="tk">−3</text>
<line x1="90.3" y1="502.71" x2="98.3" y2="502.71" stroke="#1d1a1b" stroke-width="2.0"/>
<text x="80.2" y="512.71" text-anchor="end" class="tk">0</text>
<line x1="90.3" y1="456.03" x2="98.3" y2="456.03" stroke="#1d1a1b" stroke-width="2.0"/>
<text x="80.2" y="466.03" text-anchor="end" class="tk">3</text>
<line x1="90.3" y1="409.36" x2="98.3" y2="409.36" stroke="#1d1a1b" stroke-width="2.0"/>
<text x="80.2" y="419.36" text-anchor="end" class="tk">6</text>
<line x1="90.3" y1="362.68" x2="98.3" y2="362.68" stroke="#1d1a1b" stroke-width="2.0"/>
<text x="80.2" y="372.68" text-anchor="end" class="tk">9</text>
<g clip-path="url(#clip02)">
<rect x="99.5" y="674.27" width="34.02" height="3.87" fill="#f5ea6e" shape-rendering="crispEdges"/>
<rect x="99.5" y="681.47" width="34.02" height="8.85" fill="#f7e21c" shape-rendering="crispEdges"/>
<rect x="99.5" y="690.32" width="34.02" height="2.21" fill="#f5861f" shape-rendering="crispEdges"/>
<rect x="99.5" y="692.53" width="34.02" height="5.53" fill="#f7e21c" shape-rendering="crispEdges"/>
<rect x="99.5" y="698.07" width="34.02" height="1.88" fill="#ee5424" shape-rendering="crispEdges"/>
<rect x="99.5" y="695" width="34.02" height="3.87" fill="#f7e21c" shape-rendering="crispEdges"/>
<rect x="99.5" y="698.87" width="34.02" height="8.3" fill="#ea1f27" shape-rendering="crispEdges"/>
<rect x="99.5" y="707.17" width="34.02" height="2.21" fill="#ea1f27" shape-rendering="crispEdges"/>
<rect x="99.5" y="709.39" width="34.02" height="2.77" fill="#ee5424" shape-rendering="crispEdges"/>
<rect x="99.5" y="712.16" width="34.02" height="3.32" fill="#f7e21c" shape-rendering="crispEdges"/>
<rect x="99.5" y="715.48" width="34.02" height="3.32" fill="#f5ea6e" shape-rendering="crispEdges"/>
<rect x="133.22" y="675.93" width="34.02" height="2.77" fill="#f9f2b4" shape-rendering="crispEdges"/>
<rect x="133.22" y="681.47" width="34.02" height="1.66" fill="#f7e21c" shape-rendering="crispEdges"/>
<rect x="133.22" y="683.13" width="34.02" height="2.21" fill="#f5ea6e" shape-rendering="crispEdges"/>
<rect x="133.22" y="685.34" width="34.02" height="11.07" fill="#f7e21c" shape-rendering="crispEdges"/>
<rect x="133.22" y="696.41" width="34.02" height="3.54" fill="#f5861f" shape-rendering="crispEdges"/>
<rect x="133.22" y="695" width="34.02" height="3.87" fill="#f7e21c" shape-rendering="crispEdges"/>
<rect x="133.22" y="698.87" width="34.02" height="4.98" fill="#ea1f27" shape-rendering="crispEdges"/>
<rect x="133.22" y="703.85" width="34.02" height="2.21" fill="#ee5424" shape-rendering="crispEdges"/>
<rect x="133.22" y="706.07" width="34.02" height="3.87" fill="#f5861f" shape-rendering="crispEdges"/>
<rect x="133.22" y="709.94" width="34.02" height="1.66" fill="#f7e21c" shape-rendering="crispEdges"/>
<rect x="133.22" y="733.18" width="34.02" height="2.21" fill="#f9f2b4" shape-rendering="crispEdges"/>
<rect x="133.22" y="739.27" width="34.02" height="2.77" fill="#f5ea6e" shape-rendering="crispEdges"/>
<rect x="133.22" y="747.02" width="34.02" height="3.32" fill="#f5ea6e" shape-rendering="crispEdges"/>
<rect x="166.94" y="670.4" width="34.02" height="2.21" fill="#f9f2b4" shape-rendering="crispEdges"/>
<rect x="166.94" y="672.61" width="34.02" height="3.87" fill="#f5ea6e" shape-rendering="crispEdges"/>
<rect x="166.94" y="676.49" width="34.02" height="6.64" fill="#f7e21c" shape-rendering="crispEdges"/>
<rect x="166.94" y="683.13" width="34.02" height="4.43" fill="#fbbf16" shape-rendering="crispEdges"/>
<rect x="166.94" y="687.55" width="34.02" height="2.77" fill="#f7e21c" shape-rendering="crispEdges"/>
<rect x="166.94" y="690.32" width="34.02" height="6.09" fill="#ee5424" shape-rendering="crispEdges"/>
<rect x="166.94" y="696.41" width="34.02" height="3.54" fill="#f5861f" shape-rendering="crispEdges"/>
<rect x="166.94" y="695" width="34.02" height="1.66" fill="#ea1f27" shape-rendering="crispEdges"/>
<rect x="166.94" y="696.66" width="34.02" height="3.87" fill="#f5861f" shape-rendering="crispEdges"/>
<rect x="166.94" y="700.53" width="34.02" height="4.43" fill="#f7e21c" shape-rendering="crispEdges"/>
<rect x="166.94" y="704.96" width="34.02" height="4.43" fill="#f5ea6e" shape-rendering="crispEdges"/>
<rect x="166.94" y="734.29" width="34.02" height="1.66" fill="#f9f2b4" shape-rendering="crispEdges"/>
<rect x="166.94" y="738.72" width="34.02" height="4.98" fill="#f9f2b4" shape-rendering="crispEdges"/>
<rect x="166.94" y="747.02" width="34.02" height="3.32" fill="#f7e21c" shape-rendering="crispEdges"/>
<rect x="166.94" y="753.66" width="34.02" height="4.43" fill="#f7e21c" shape-rendering="crispEdges"/>
<rect x="166.94" y="758.09" width="34.02" height="4.43" fill="#f5ea6e" shape-rendering="crispEdges"/>
<rect x="166.94" y="755" width="34.02" height="2.21" fill="#f7e21c" shape-rendering="crispEdges"/>
<rect x="166.94" y="758.32" width="34.02" height="4.43" fill="#f5ea6e" shape-rendering="crispEdges"/>
<rect x="166.94" y="766.07" width="34.02" height="2.77" fill="#f9f2b4" shape-rendering="crispEdges"/>
<rect x="166.94" y="771.05" width="34.02" height="2.21" fill="#fcf9e0" shape-rendering="crispEdges"/>
<rect x="200.65" y="667.08" width="34.02" height="8.3" fill="#f7e21c" shape-rendering="crispEdges"/>
<rect x="200.65" y="675.38" width="34.02" height="4.43" fill="#f5861f" shape-rendering="crispEdges"/>
<rect x="200.65" y="679.81" width="34.02" height="2.77" fill="#f7e21c" shape-rendering="crispEdges"/>
<rect x="200.65" y="682.57" width="34.02" height="3.32" fill="#f5861f" shape-rendering="crispEdges"/>
<rect x="200.65" y="685.89" width="34.02" height="4.43" fill="#fbbf16" shape-rendering="crispEdges"/>
<rect x="200.65" y="690.32" width="34.02" height="2.77" fill="#f7e21c" shape-rendering="crispEdges"/>
<rect x="200.65" y="693.09" width="34.02" height="2.77" fill="#fbbf16" shape-rendering="crispEdges"/>
<rect x="200.65" y="695.86" width="34.02" height="4.1" fill="#f9f2b4" shape-rendering="crispEdges"/>
<rect x="200.65" y="695" width="34.02" height="1.11" fill="#f5861f" shape-rendering="crispEdges"/>
<rect x="200.65" y="696.66" width="34.02" height="2.77" fill="#f9f2b4" shape-rendering="crispEdges"/>
<rect x="200.65" y="699.43" width="34.02" height="3.32" fill="#f5ea6e" shape-rendering="crispEdges"/>
<rect x="200.65" y="747.02" width="34.02" height="3.32" fill="#f9f2b4" shape-rendering="crispEdges"/>
<rect x="200.65" y="753.11" width="34.02" height="3.87" fill="#f5ea6e" shape-rendering="crispEdges"/>
<rect x="200.65" y="756.98" width="34.02" height="7.97" fill="#f7e21c" shape-rendering="crispEdges"/>
<rect x="200.65" y="755" width="34.02" height="5.53" fill="#f5ea6e" shape-rendering="crispEdges"/>
<rect x="200.65" y="760.53" width="34.02" height="8.85" fill="#f7e21c" shape-rendering="crispEdges"/>
<rect x="200.65" y="769.39" width="34.02" height="3.87" fill="#f5ea6e" shape-rendering="crispEdges"/>
<rect x="200.65" y="776.58" width="34.02" height="2.77" fill="#f5ea6e" shape-rendering="crispEdges"/>
<rect x="200.65" y="780.46" width="34.02" height="2.21" fill="#fcf9e0" shape-rendering="crispEdges"/>
<rect x="234.37" y="664.86" width="34.02" height="2.77" fill="#f5861f" shape-rendering="crispEdges"/>
<rect x="234.37" y="667.63" width="34.02" height="4.43" fill="#ee5424" shape-rendering="crispEdges"/>
<rect x="234.37" y="672.06" width="34.02" height="3.32" fill="#f5861f" shape-rendering="crispEdges"/>
<rect x="234.37" y="675.38" width="34.02" height="3.32" fill="#ee5424" shape-rendering="crispEdges"/>
<rect x="234.37" y="678.7" width="34.02" height="7.75" fill="#f7e21c" shape-rendering="crispEdges"/>
<rect x="234.37" y="686.45" width="34.02" height="2.21" fill="#f5ea6e" shape-rendering="crispEdges"/>
<rect x="234.37" y="688.66" width="34.02" height="6.64" fill="#f7e21c" shape-rendering="crispEdges"/>
<rect x="234.37" y="695.3" width="34.02" height="4.65" fill="#fcf9e0" shape-rendering="crispEdges"/>
<rect x="234.37" y="695" width="34.02" height="1.11" fill="#f5ea6e" shape-rendering="crispEdges"/>
<rect x="234.37" y="699.43" width="34.02" height="2.21" fill="#f9f2b4" shape-rendering="crispEdges"/>
<rect x="234.37" y="753.66" width="34.02" height="3.32" fill="#f9f2b4" shape-rendering="crispEdges"/>
<rect x="234.37" y="756.98" width="34.02" height="7.97" fill="#f5ea6e" shape-rendering="crispEdges"/>
<rect x="234.37" y="755" width="34.02" height="2.21" fill="#f9f2b4" shape-rendering="crispEdges"/>
<rect x="234.37" y="757.21" width="34.02" height="3.32" fill="#f5ea6e" shape-rendering="crispEdges"/>
<rect x="234.37" y="760.53" width="34.02" height="3.32" fill="#f7e21c" shape-rendering="crispEdges"/>
<rect x="234.37" y="763.85" width="34.02" height="2.21" fill="#f9f2b4" shape-rendering="crispEdges"/>
<rect x="234.37" y="766.07" width="34.02" height="7.19" fill="#f7e21c" shape-rendering="crispEdges"/>
<rect x="234.37" y="776.58" width="34.02" height="3.87" fill="#fbbf16" shape-rendering="crispEdges"/>
<rect x="234.37" y="780.46" width="34.02" height="3.32" fill="#f7e21c" shape-rendering="crispEdges"/>
<rect x="268.09" y="661.54" width="34.02" height="4.43" fill="#f7e21c" shape-rendering="crispEdges"/>
<rect x="268.09" y="665.97" width="34.02" height="7.19" fill="#ea1f27" shape-rendering="crispEdges"/>
<rect x="268.09" y="673.17" width="34.02" height="2.21" fill="#ee5424" shape-rendering="crispEdges"/>
<rect x="268.09" y="675.38" width="34.02" height="3.32" fill="#ea1f27" shape-rendering="crispEdges"/>
<rect x="268.09" y="678.7" width="34.02" height="6.64" fill="#f7e21c" shape-rendering="crispEdges"/>
<rect x="268.09" y="685.34" width="34.02" height="2.77" fill="#f5861f" shape-rendering="crispEdges"/>
<rect x="268.09" y="688.11" width="34.02" height="1.66" fill="#f7e21c" shape-rendering="crispEdges"/>
<rect x="268.09" y="689.77" width="34.02" height="4.43" fill="#fbbf16" shape-rendering="crispEdges"/>
<rect x="268.09" y="694.19" width="34.02" height="3.32" fill="#f7e21c" shape-rendering="crispEdges"/>
<rect x="268.09" y="697.52" width="34.02" height="2.43" fill="#fcf9e0" shape-rendering="crispEdges"/>
<rect x="268.09" y="695" width="34.02" height="1.66" fill="#f7e21c" shape-rendering="crispEdges"/>
<rect x="268.09" y="699.43" width="34.02" height="3.87" fill="#f5ea6e" shape-rendering="crispEdges"/>
<rect x="268.09" y="747.57" width="34.02" height="2.21" fill="#fcf9e0" shape-rendering="crispEdges"/>
<rect x="268.09" y="753.11" width="34.02" height="6.09" fill="#f7e21c" shape-rendering="crispEdges"/>
<rect x="268.09" y="759.19" width="34.02" height="3.32" fill="#fbbf16" shape-rendering="crispEdges"/>
<rect x="268.09" y="762.52" width="34.02" height="2.43" fill="#f7e21c" shape-rendering="crispEdges"/>
<rect x="268.09" y="755" width="34.02" height="4.43" fill="#f7e21c" shape-rendering="crispEdges"/>
<rect x="268.09" y="759.43" width="34.02" height="2.77" fill="#fbbf16" shape-rendering="crispEdges"/>
<rect x="268.09" y="762.19" width="34.02" height="6.09" fill="#f5ea6e" shape-rendering="crispEdges"/>
<rect x="268.09" y="768.28" width="34.02" height="3.32" fill="#ee5424" shape-rendering="crispEdges"/>
<rect x="268.09" y="771.6" width="34.02" height="2.77" fill="#f5861f" shape-rendering="crispEdges"/>
<rect x="268.09" y="774.37" width="34.02" height="2.77" fill="#f7e21c" shape-rendering="crispEdges"/>
<rect x="268.09" y="777.14" width="34.02" height="2.77" fill="#f5861f" shape-rendering="crispEdges"/>
<rect x="268.09" y="779.9" width="34.02" height="1.66" fill="#fbbf16" shape-rendering="crispEdges"/>
<rect x="268.09" y="781.56" width="34.02" height="2.77" fill="#f5861f" shape-rendering="crispEdges"/>
<rect x="268.09" y="784.33" width="34.02" height="1.66" fill="#f9f2b4" shape-rendering="crispEdges"/>
<rect x="301.81" y="664.86" width="34.02" height="2.77" fill="#f5861f" shape-rendering="crispEdges"/>
<rect x="301.81" y="667.63" width="34.02" height="4.43" fill="#ee5424" shape-rendering="crispEdges"/>
<rect x="301.81" y="672.06" width="34.02" height="3.32" fill="#f5861f" shape-rendering="crispEdges"/>
<rect x="301.81" y="675.38" width="34.02" height="3.32" fill="#ee5424" shape-rendering="crispEdges"/>
<rect x="301.81" y="678.7" width="34.02" height="7.75" fill="#f7e21c" shape-rendering="crispEdges"/>
<rect x="301.81" y="686.45" width="34.02" height="2.21" fill="#f5ea6e" shape-rendering="crispEdges"/>
<rect x="301.81" y="688.66" width="34.02" height="6.64" fill="#f7e21c" shape-rendering="crispEdges"/>
<rect x="301.81" y="695.3" width="34.02" height="4.65" fill="#fcf9e0" shape-rendering="crispEdges"/>
<rect x="301.81" y="695" width="34.02" height="1.11" fill="#f5ea6e" shape-rendering="crispEdges"/>
<rect x="301.81" y="699.43" width="34.02" height="2.21" fill="#f9f2b4" shape-rendering="crispEdges"/>
<rect x="301.81" y="753.66" width="34.02" height="3.32" fill="#f9f2b4" shape-rendering="crispEdges"/>
<rect x="301.81" y="756.98" width="34.02" height="7.97" fill="#f5ea6e" shape-rendering="crispEdges"/>
<rect x="301.81" y="755" width="34.02" height="2.21" fill="#f9f2b4" shape-rendering="crispEdges"/>
<rect x="301.81" y="757.21" width="34.02" height="3.32" fill="#f5ea6e" shape-rendering="crispEdges"/>
<rect x="301.81" y="760.53" width="34.02" height="3.32" fill="#f7e21c" shape-rendering="crispEdges"/>
<rect x="301.81" y="763.85" width="34.02" height="2.21" fill="#f9f2b4" shape-rendering="crispEdges"/>
<rect x="301.81" y="766.07" width="34.02" height="7.19" fill="#f7e21c" shape-rendering="crispEdges"/>
<rect x="301.81" y="776.58" width="34.02" height="3.87" fill="#fbbf16" shape-rendering="crispEdges"/>
<rect x="301.81" y="780.46" width="34.02" height="3.32" fill="#f7e21c" shape-rendering="crispEdges"/>
<rect x="335.53" y="667.08" width="34.02" height="8.3" fill="#f7e21c" shape-rendering="crispEdges"/>
<rect x="335.53" y="675.38" width="34.02" height="4.43" fill="#f5861f" shape-rendering="crispEdges"/>
<rect x="335.53" y="679.81" width="34.02" height="2.77" fill="#f7e21c" shape-rendering="crispEdges"/>
<rect x="335.53" y="682.57" width="34.02" height="3.32" fill="#f5861f" shape-rendering="crispEdges"/>
<rect x="335.53" y="685.89" width="34.02" height="4.43" fill="#fbbf16" shape-rendering="crispEdges"/>
<rect x="335.53" y="690.32" width="34.02" height="2.77" fill="#f7e21c" shape-rendering="crispEdges"/>
<rect x="335.53" y="693.09" width="34.02" height="2.77" fill="#fbbf16" shape-rendering="crispEdges"/>
<rect x="335.53" y="695.86" width="34.02" height="4.1" fill="#f9f2b4" shape-rendering="crispEdges"/>
<rect x="335.53" y="695" width="34.02" height="1.11" fill="#f5861f" shape-rendering="crispEdges"/>
<rect x="335.53" y="696.66" width="34.02" height="2.77" fill="#f9f2b4" shape-rendering="crispEdges"/>
<rect x="335.53" y="699.43" width="34.02" height="3.32" fill="#f5ea6e" shape-rendering="crispEdges"/>
<rect x="335.53" y="747.02" width="34.02" height="3.32" fill="#f9f2b4" shape-rendering="crispEdges"/>
<rect x="335.53" y="753.11" width="34.02" height="3.87" fill="#f5ea6e" shape-rendering="crispEdges"/>
<rect x="335.53" y="756.98" width="34.02" height="7.97" fill="#f7e21c" shape-rendering="crispEdges"/>
<rect x="335.53" y="755" width="34.02" height="5.53" fill="#f5ea6e" shape-rendering="crispEdges"/>
<rect x="335.53" y="760.53" width="34.02" height="8.85" fill="#f7e21c" shape-rendering="crispEdges"/>
<rect x="335.53" y="769.39" width="34.02" height="3.87" fill="#f5ea6e" shape-rendering="crispEdges"/>
<rect x="335.53" y="776.58" width="34.02" height="2.77" fill="#f5ea6e" shape-rendering="crispEdges"/>
<rect x="335.53" y="780.46" width="34.02" height="2.21" fill="#fcf9e0" shape-rendering="crispEdges"/>
<rect x="369.25" y="670.4" width="34.02" height="2.21" fill="#f9f2b4" shape-rendering="crispEdges"/>
<rect x="369.25" y="672.61" width="34.02" height="3.87" fill="#f5ea6e" shape-rendering="crispEdges"/>
<rect x="369.25" y="676.49" width="34.02" height="6.64" fill="#f7e21c" shape-rendering="crispEdges"/>
<rect x="369.25" y="683.13" width="34.02" height="4.43" fill="#fbbf16" shape-rendering="crispEdges"/>
<rect x="369.25" y="687.55" width="34.02" height="2.77" fill="#f7e21c" shape-rendering="crispEdges"/>
<rect x="369.25" y="690.32" width="34.02" height="6.09" fill="#ee5424" shape-rendering="crispEdges"/>
<rect x="369.25" y="696.41" width="34.02" height="3.54" fill="#f5861f" shape-rendering="crispEdges"/>
<rect x="369.25" y="695" width="34.02" height="1.66" fill="#ea1f27" shape-rendering="crispEdges"/>
<rect x="369.25" y="696.66" width="34.02" height="3.87" fill="#f5861f" shape-rendering="crispEdges"/>
<rect x="369.25" y="700.53" width="34.02" height="4.43" fill="#f7e21c" shape-rendering="crispEdges"/>
<rect x="369.25" y="704.96" width="34.02" height="4.43" fill="#f5ea6e" shape-rendering="crispEdges"/>
<rect x="369.25" y="734.29" width="34.02" height="1.66" fill="#f9f2b4" shape-rendering="crispEdges"/>
<rect x="369.25" y="738.72" width="34.02" height="4.98" fill="#f9f2b4" shape-rendering="crispEdges"/>
<rect x="369.25" y="747.02" width="34.02" height="3.32" fill="#f7e21c" shape-rendering="crispEdges"/>
<rect x="369.25" y="753.66" width="34.02" height="4.43" fill="#f7e21c" shape-rendering="crispEdges"/>
<rect x="369.25" y="758.09" width="34.02" height="4.43" fill="#f5ea6e" shape-rendering="crispEdges"/>
<rect x="369.25" y="755" width="34.02" height="2.21" fill="#f7e21c" shape-rendering="crispEdges"/>
<rect x="369.25" y="758.32" width="34.02" height="4.43" fill="#f5ea6e" shape-rendering="crispEdges"/>
<rect x="369.25" y="766.07" width="34.02" height="2.77" fill="#f9f2b4" shape-rendering="crispEdges"/>
<rect x="369.25" y="771.05" width="34.02" height="2.21" fill="#fcf9e0" shape-rendering="crispEdges"/>
<rect x="402.96" y="675.93" width="34.02" height="2.77" fill="#f9f2b4" shape-rendering="crispEdges"/>
<rect x="402.96" y="681.47" width="34.02" height="1.66" fill="#f7e21c" shape-rendering="crispEdges"/>
<rect x="402.96" y="683.13" width="34.02" height="2.21" fill="#f5ea6e" shape-rendering="crispEdges"/>
<rect x="402.96" y="685.34" width="34.02" height="11.07" fill="#f7e21c" shape-rendering="crispEdges"/>
<rect x="402.96" y="696.41" width="34.02" height="3.54" fill="#f5861f" shape-rendering="crispEdges"/>
<rect x="402.96" y="695" width="34.02" height="3.87" fill="#f7e21c" shape-rendering="crispEdges"/>
<rect x="402.96" y="698.87" width="34.02" height="4.98" fill="#ea1f27" shape-rendering="crispEdges"/>
<rect x="402.96" y="703.85" width="34.02" height="2.21" fill="#ee5424" shape-rendering="crispEdges"/>
<rect x="402.96" y="706.07" width="34.02" height="3.87" fill="#f5861f" shape-rendering="crispEdges"/>
<rect x="402.96" y="709.94" width="34.02" height="1.66" fill="#f7e21c" shape-rendering="crispEdges"/>
<rect x="402.96" y="733.18" width="34.02" height="2.21" fill="#f9f2b4" shape-rendering="crispEdges"/>
<rect x="402.96" y="739.27" width="34.02" height="2.77" fill="#f5ea6e" shape-rendering="crispEdges"/>
<rect x="402.96" y="747.02" width="34.02" height="3.32" fill="#f5ea6e" shape-rendering="crispEdges"/>
<rect x="436.68" y="674.27" width="34.02" height="3.87" fill="#f5ea6e" shape-rendering="crispEdges"/>
<rect x="436.68" y="681.47" width="34.02" height="8.85" fill="#f7e21c" shape-rendering="crispEdges"/>
<rect x="436.68" y="690.32" width="34.02" height="2.21" fill="#f5861f" shape-rendering="crispEdges"/>
<rect x="436.68" y="692.53" width="34.02" height="5.53" fill="#f7e21c" shape-rendering="crispEdges"/>
<rect x="436.68" y="698.07" width="34.02" height="1.88" fill="#ee5424" shape-rendering="crispEdges"/>
<rect x="436.68" y="695" width="34.02" height="3.87" fill="#f7e21c" shape-rendering="crispEdges"/>
<rect x="436.68" y="698.87" width="34.02" height="8.3" fill="#ea1f27" shape-rendering="crispEdges"/>
<rect x="436.68" y="707.17" width="34.02" height="2.21" fill="#ea1f27" shape-rendering="crispEdges"/>
<rect x="436.68" y="709.39" width="34.02" height="2.77" fill="#ee5424" shape-rendering="crispEdges"/>
<rect x="436.68" y="712.16" width="34.02" height="3.32" fill="#f7e21c" shape-rendering="crispEdges"/>
<rect x="436.68" y="715.48" width="34.02" height="3.32" fill="#f5ea6e" shape-rendering="crispEdges"/>
<polyline points="98.3,706.33 100.15,706.58 102.01,706.8 103.86,707 105.72,707.17 107.57,707.31 109.43,707.42 111.28,707.5 113.14,707.55 114.99,707.57 116.84,707.56 118.7,707.51 120.55,707.44 122.41,707.33 124.26,707.2 126.12,707.03 127.97,706.84 129.83,706.62 131.68,706.37 133.54,706.1 135.39,705.81 137.24,705.49 139.1,705.16 140.95,704.8 142.81,704.43 144.66,704.04 146.52,703.64 148.37,703.22 150.23,702.79 152.08,702.34 153.94,701.89 155.79,701.43 157.64,700.96 159.5,700.48 161.35,700 163.21,699.51 165.06,699.02 166.92,698.52 168.77,698.02 170.63,697.52 172.48,697.02 174.33,696.51 176.19,696.01 178.04,695.51 179.9,695 181.75,694.5 183.61,694.01 185.46,693.51 187.32,693.02 189.17,692.53 191.02,692.04 192.88,691.56 194.73,691.08 196.59,690.61 198.44,690.15 200.3,689.69 202.15,689.23 204.01,688.78 205.86,688.34 207.72,687.91 209.57,687.48 211.42,687.06 213.28,686.65 215.13,686.25 216.99,685.85 218.84,685.46 220.7,685.08 222.55,684.71 224.41,684.35 226.26,684 228.12,683.66 229.97,683.33 231.82,683 233.68,682.69 235.53,682.39 237.39,682.1 239.24,681.81 241.1,681.54 242.95,681.28 244.81,681.03 246.66,680.79 248.51,680.56 250.37,680.35 252.22,680.14 254.08,679.95 255.93,679.76 257.79,679.59 259.64,679.43 261.5,679.28 263.35,679.14 265.2,679.02 267.06,678.91 268.91,678.8 270.77,678.71 272.62,678.64 274.48,678.57 276.33,678.52 278.19,678.47 280.04,678.44 281.9,678.43 283.75,678.42 285.6,678.43 287.46,678.44 289.31,678.47 291.17,678.52 293.02,678.57 294.88,678.64 296.73,678.71 298.59,678.8 300.44,678.91 302.3,679.02 304.15,679.14 306,679.28 307.86,679.43 309.71,679.59 311.57,679.76 313.42,679.95 315.28,680.14 317.13,680.35 318.99,680.56 320.84,680.79 322.69,681.03 324.55,681.28 326.4,681.54 328.26,681.81 330.11,682.1 331.97,682.39 333.82,682.69 335.68,683 337.53,683.33 339.38,683.66 341.24,684 343.09,684.35 344.95,684.71 346.8,685.08 348.66,685.46 350.51,685.85 352.37,686.25 354.22,686.65 356.08,687.06 357.93,687.48 359.78,687.91 361.64,688.34 363.49,688.78 365.35,689.23 367.2,689.69 369.06,690.15 370.91,690.61 372.77,691.08 374.62,691.56 376.47,692.04 378.33,692.53 380.18,693.02 382.04,693.51 383.89,694.01 385.75,694.5 387.6,695 389.46,695.51 391.31,696.01 393.17,696.51 395.02,697.02 396.87,697.52 398.73,698.02 400.58,698.52 402.44,699.02 404.29,699.51 406.15,700 408,700.48 409.86,700.96 411.71,701.43 413.56,701.89 415.42,702.34 417.27,702.79 419.13,703.22 420.98,703.64 422.84,704.04 424.69,704.43 426.55,704.8 428.4,705.16 430.26,705.49 432.11,705.81 433.96,706.1 435.82,706.37 437.67,706.62 439.53,706.84 441.38,707.03 443.24,707.2 445.09,707.33 446.95,707.44 448.8,707.51 450.66,707.56 452.51,707.57 454.36,707.55 456.22,707.5 458.07,707.42 459.93,707.31 461.78,707.17 463.64,707 465.49,706.8 467.35,706.58 469.2,706.33" fill="none" stroke="#1d1a1b" stroke-width="2.5"/>
<polyline points="98.3,745.1 100.15,744.85 102.01,744.63 103.86,744.43 105.72,744.26 107.57,744.12 109.43,744.01 111.28,743.93 113.14,743.88 114.99,743.86 116.84,743.87 118.7,743.92 120.55,743.99 122.41,744.1 124.26,744.23 126.12,744.4 127.97,744.59 129.83,744.81 131.68,745.06 133.54,745.33 135.39,745.62 137.24,745.94 139.1,746.27 140.95,746.63 142.81,747 144.66,747.39 146.52,747.8 148.37,748.21 150.23,748.64 152.08,749.09 153.94,749.54 155.79,750 157.64,750.47 159.5,750.95 161.35,751.43 163.21,751.92 165.06,752.41 166.92,752.91 168.77,753.41 170.63,753.91 172.48,754.41 174.33,754.92 176.19,755.42 178.04,755.92 179.9,756.43 181.75,756.93 183.61,757.42 185.46,757.92 187.32,758.41 189.17,758.9 191.02,759.39 192.88,759.87 194.73,760.35 196.59,760.82 198.44,761.28 200.3,761.74 202.15,762.2 204.01,762.65 205.86,763.09 207.72,763.52 209.57,763.95 211.42,764.37 213.28,764.78 215.13,765.18 216.99,765.58 218.84,765.97 220.7,766.35 222.55,766.72 224.41,767.08 226.26,767.43 228.12,767.77 229.97,768.1 231.82,768.43 233.68,768.74 235.53,769.04 237.39,769.33 239.24,769.62 241.1,769.89 242.95,770.15 244.81,770.4 246.66,770.64 248.51,770.87 250.37,771.08 252.22,771.29 254.08,771.48 255.93,771.67 257.79,771.84 259.64,772 261.5,772.15 263.35,772.29 265.2,772.41 267.06,772.53 268.91,772.63 270.77,772.72 272.62,772.8 274.48,772.86 276.33,772.92 278.19,772.96 280.04,772.99 281.9,773.01 283.75,773.01 285.6,773.01 287.46,772.99 289.31,772.96 291.17,772.92 293.02,772.86 294.88,772.8 296.73,772.72 298.59,772.63 300.44,772.53 302.3,772.41 304.15,772.29 306,772.15 307.86,772 309.71,771.84 311.57,771.67 313.42,771.48 315.28,771.29 317.13,771.08 318.99,770.87 320.84,770.64 322.69,770.4 324.55,770.15 326.4,769.89 328.26,769.62 330.11,769.33 331.97,769.04 333.82,768.74 335.68,768.43 337.53,768.1 339.38,767.77 341.24,767.43 343.09,767.08 344.95,766.72 346.8,766.35 348.66,765.97 350.51,765.58 352.37,765.18 354.22,764.78 356.08,764.37 357.93,763.95 359.78,763.52 361.64,763.09 363.49,762.65 365.35,762.2 367.2,761.74 369.06,761.28 370.91,760.82 372.77,760.35 374.62,759.87 376.47,759.39 378.33,758.9 380.18,758.41 382.04,757.92 383.89,757.42 385.75,756.93 387.6,756.43 389.46,755.92 391.31,755.42 393.17,754.92 395.02,754.41 396.87,753.91 398.73,753.41 400.58,752.91 402.44,752.41 404.29,751.92 406.15,751.43 408,750.95 409.86,750.47 411.71,750 413.56,749.54 415.42,749.09 417.27,748.64 419.13,748.21 420.98,747.8 422.84,747.39 424.69,747 426.55,746.63 428.4,746.27 430.26,745.94 432.11,745.62 433.96,745.33 435.82,745.06 437.67,744.81 439.53,744.59 441.38,744.4 443.24,744.23 445.09,744.1 446.95,743.99 448.8,743.92 450.66,743.87 452.51,743.86 454.36,743.88 456.22,743.93 458.07,744.01 459.93,744.12 461.78,744.26 463.64,744.43 465.49,744.63 467.35,744.85 469.2,745.1" fill="none" stroke="#1d1a1b" stroke-width="2.5"/>
<line x1="98.3" y1="801.65" x2="469.2" y2="801.65" stroke="#1d1a1b" stroke-width="2.5"/>
<circle cx="216.31" cy="801.65" r="4.5" fill="#1d1a1b"/>
<circle cx="250.03" cy="801.65" r="4.5" fill="#1d1a1b"/>
<circle cx="283.75" cy="801.65" r="4.5" fill="#1d1a1b"/>
<circle cx="317.47" cy="801.65" r="4.5" fill="#1d1a1b"/>
<circle cx="351.19" cy="801.65" r="4.5" fill="#1d1a1b"/>
</g>
<rect x="98.3" y="572.3" width="370.9" height="248.95" fill="none" stroke="#1d1a1b" stroke-width="2.1"/>
<line x1="90.3" y1="805.69" x2="98.3" y2="805.69" stroke="#1d1a1b" stroke-width="2.0"/>
<text x="80.2" y="815.69" text-anchor="end" class="tk">−3</text>
<line x1="90.3" y1="759.01" x2="98.3" y2="759.01" stroke="#1d1a1b" stroke-width="2.0"/>
<text x="80.2" y="769.01" text-anchor="end" class="tk">0</text>
<line x1="90.3" y1="712.33" x2="98.3" y2="712.33" stroke="#1d1a1b" stroke-width="2.0"/>
<text x="80.2" y="722.33" text-anchor="end" class="tk">3</text>
<line x1="90.3" y1="665.66" x2="98.3" y2="665.66" stroke="#1d1a1b" stroke-width="2.0"/>
<text x="80.2" y="675.66" text-anchor="end" class="tk">6</text>
<line x1="90.3" y1="618.98" x2="98.3" y2="618.98" stroke="#1d1a1b" stroke-width="2.0"/>
<text x="80.2" y="628.98" text-anchor="end" class="tk">9</text>
<line x1="115.16" y1="821.25" x2="115.16" y2="829.25" stroke="#1d1a1b" stroke-width="2.0"/>
<line x1="199.45" y1="821.25" x2="199.45" y2="829.25" stroke="#1d1a1b" stroke-width="2.0"/>
<line x1="283.75" y1="821.25" x2="283.75" y2="829.25" stroke="#1d1a1b" stroke-width="2.0"/>
<line x1="368.05" y1="821.25" x2="368.05" y2="829.25" stroke="#1d1a1b" stroke-width="2.0"/>
<line x1="452.34" y1="821.25" x2="452.34" y2="829.25" stroke="#1d1a1b" stroke-width="2.0"/>
<text x="115.46" y="862.3" text-anchor="middle" class="tk">−<tspan class="pi" dy="-1.5">π</tspan></text>
<text x="283.85" y="862.3" text-anchor="middle" class="tk">0</text>
<text x="452.64" y="862.3" text-anchor="middle" class="tk"><tspan class="pi" dy="-1.5">π</tspan></text>
<text y="904" class="tl"><tspan x="258" font-style="italic">k</tspan><tspan x="277.2">·</tspan><tspan x="296.1" font-style="italic">a</tspan></text>
<g clip-path="url(#clip10)">
<rect x="477" y="138.26" width="34.02" height="2.21" fill="#fcf9e0" shape-rendering="crispEdges"/>
<rect x="477" y="174.23" width="34.02" height="3.32" fill="#f7e21c" shape-rendering="crispEdges"/>
<rect x="477" y="177.55" width="34.02" height="2.77" fill="#fcf9e0" shape-rendering="crispEdges"/>
<rect x="477" y="180.32" width="34.02" height="3.32" fill="#f5ea6e" shape-rendering="crispEdges"/>
<rect x="477" y="183.64" width="34.02" height="2.77" fill="#f5861f" shape-rendering="crispEdges"/>
<rect x="477" y="186.41" width="34.02" height="3.54" fill="#f7e21c" shape-rendering="crispEdges"/>
<rect x="477" y="185" width="34.02" height="2.21" fill="#fbbf16" shape-rendering="crispEdges"/>
<rect x="477" y="187.21" width="34.02" height="2.77" fill="#f7e21c" shape-rendering="crispEdges"/>
<rect x="477" y="192.19" width="34.02" height="3.32" fill="#f5861f" shape-rendering="crispEdges"/>
<rect x="477" y="195.51" width="34.02" height="3.87" fill="#ee5424" shape-rendering="crispEdges"/>
<rect x="477" y="199.39" width="34.02" height="2.21" fill="#f5861f" shape-rendering="crispEdges"/>
<rect x="477" y="201.6" width="34.02" height="2.77" fill="#ee5424" shape-rendering="crispEdges"/>
<rect x="477" y="204.37" width="34.02" height="2.77" fill="#f7e21c" shape-rendering="crispEdges"/>
<rect x="477" y="207.14" width="34.02" height="3.87" fill="#f5ea6e" shape-rendering="crispEdges"/>
<rect x="477" y="211.01" width="34.02" height="3.32" fill="#f9f2b4" shape-rendering="crispEdges"/>
<rect x="477" y="214.33" width="34.02" height="2.77" fill="#f7e21c" shape-rendering="crispEdges"/>
<rect x="477" y="217.1" width="34.02" height="3.32" fill="#ee5424" shape-rendering="crispEdges"/>
<rect x="477" y="220.42" width="34.02" height="2.77" fill="#ea1f27" shape-rendering="crispEdges"/>
<rect x="477" y="223.18" width="34.02" height="3.32" fill="#f5861f" shape-rendering="crispEdges"/>
<rect x="477" y="226.51" width="34.02" height="3.87" fill="#f7e21c" shape-rendering="crispEdges"/>
<rect x="477" y="230.38" width="34.02" height="2.77" fill="#ea1f27" shape-rendering="crispEdges"/>
<rect x="477" y="233.15" width="34.02" height="3.32" fill="#f7e21c" shape-rendering="crispEdges"/>
<rect x="477" y="250.53" width="34.02" height="4.98" fill="#f7e21c" shape-rendering="crispEdges"/>
<rect x="477" y="255.51" width="34.02" height="2.77" fill="#fbbf16" shape-rendering="crispEdges"/>
<rect x="477" y="263.26" width="34.02" height="2.77" fill="#f7e21c" shape-rendering="crispEdges"/>
<rect x="510.72" y="174.23" width="34.02" height="3.32" fill="#f5ea6e" shape-rendering="crispEdges"/>
<rect x="510.72" y="180.32" width="34.02" height="3.87" fill="#f7e21c" shape-rendering="crispEdges"/>
<rect x="510.72" y="184.19" width="34.02" height="2.21" fill="#fbbf16" shape-rendering="crispEdges"/>
<rect x="510.72" y="185" width="34.02" height="2.21" fill="#f7e21c" shape-rendering="crispEdges"/>
<rect x="510.72" y="192.19" width="34.02" height="2.21" fill="#f7e21c" shape-rendering="crispEdges"/>
<rect x="510.72" y="194.41" width="34.02" height="2.77" fill="#f5ea6e" shape-rendering="crispEdges"/>
<rect x="510.72" y="197.17" width="34.02" height="2.21" fill="#f7e21c" shape-rendering="crispEdges"/>
<rect x="510.72" y="199.39" width="34.02" height="3.32" fill="#f9f2b4" shape-rendering="crispEdges"/>
<rect x="510.72" y="202.71" width="34.02" height="1.66" fill="#f7e21c" shape-rendering="crispEdges"/>
<rect x="510.72" y="204.37" width="34.02" height="2.21" fill="#fbbf16" shape-rendering="crispEdges"/>
<rect x="510.72" y="206.58" width="34.02" height="2.21" fill="#f9f2b4" shape-rendering="crispEdges"/>
<rect x="510.72" y="211.01" width="34.02" height="3.32" fill="#f5ea6e" shape-rendering="crispEdges"/>
<rect x="510.72" y="218.2" width="34.02" height="3.32" fill="#fbbf16" shape-rendering="crispEdges"/>
<rect x="510.72" y="221.52" width="34.02" height="3.32" fill="#f7e21c" shape-rendering="crispEdges"/>
<rect x="510.72" y="224.85" width="34.02" height="5.53" fill="#fbbf16" shape-rendering="crispEdges"/>
<rect x="510.72" y="230.38" width="34.02" height="3.87" fill="#f5861f" shape-rendering="crispEdges"/>
<rect x="510.72" y="234.25" width="34.02" height="2.21" fill="#f7e21c" shape-rendering="crispEdges"/>
<rect x="510.72" y="251.64" width="34.02" height="2.77" fill="#f7e21c" shape-rendering="crispEdges"/>
<rect x="510.72" y="256.07" width="34.02" height="2.77" fill="#f7e21c" shape-rendering="crispEdges"/>
<rect x="510.72" y="263.26" width="34.02" height="2.77" fill="#f7e21c" shape-rendering="crispEdges"/>
<rect x="544.44" y="138.26" width="34.02" height="2.21" fill="#f5ea6e" shape-rendering="crispEdges"/>
<rect x="544.44" y="145.46" width="34.02" height="2.21" fill="#f5ea6e" shape-rendering="crispEdges"/>
<rect x="544.44" y="149.88" width="34.02" height="2.77" fill="#f5ea6e" shape-rendering="crispEdges"/>
<rect x="544.44" y="156.52" width="34.02" height="2.21" fill="#f5ea6e" shape-rendering="crispEdges"/>
<rect x="544.44" y="159.85" width="34.02" height="2.21" fill="#f7e21c" shape-rendering="crispEdges"/>
<rect x="544.44" y="174.79" width="34.02" height="2.77" fill="#f5861f" shape-rendering="crispEdges"/>
<rect x="544.44" y="177.55" width="34.02" height="2.77" fill="#f7e21c" shape-rendering="crispEdges"/>
<rect x="544.44" y="180.32" width="34.02" height="6.64" fill="#f5ea6e" shape-rendering="crispEdges"/>
<rect x="544.44" y="185" width="34.02" height="2.21" fill="#f5ea6e" shape-rendering="crispEdges"/>
<rect x="544.44" y="189.43" width="34.02" height="2.21" fill="#f5ea6e" shape-rendering="crispEdges"/>
<rect x="544.44" y="192.75" width="34.02" height="2.77" fill="#f9f2b4" shape-rendering="crispEdges"/>
<rect x="544.44" y="196.07" width="34.02" height="3.32" fill="#f5ea6e" shape-rendering="crispEdges"/>
<rect x="544.44" y="202.16" width="34.02" height="4.43" fill="#f7e21c" shape-rendering="crispEdges"/>
<rect x="544.44" y="211.01" width="34.02" height="3.87" fill="#f5ea6e" shape-rendering="crispEdges"/>
<rect x="544.44" y="215.99" width="34.02" height="2.21" fill="#f9f2b4" shape-rendering="crispEdges"/>
<rect x="544.44" y="220.42" width="34.02" height="2.77" fill="#f5ea6e" shape-rendering="crispEdges"/>
<rect x="544.44" y="223.18" width="34.02" height="3.32" fill="#f7e21c" shape-rendering="crispEdges"/>
<rect x="544.44" y="226.51" width="34.02" height="3.87" fill="#fbbf16" shape-rendering="crispEdges"/>
<rect x="544.44" y="230.38" width="34.02" height="3.32" fill="#f5861f" shape-rendering="crispEdges"/>
<rect x="544.44" y="233.7" width="34.02" height="2.77" fill="#ee5424" shape-rendering="crispEdges"/>
<rect x="544.44" y="236.47" width="34.02" height="3.87" fill="#f7e21c" shape-rendering="crispEdges"/>
<rect x="544.44" y="240.34" width="34.02" height="4.98" fill="#f5ea6e" shape-rendering="crispEdges"/>
<rect x="544.44" y="251.64" width="34.02" height="2.77" fill="#f7e21c" shape-rendering="crispEdges"/>
<rect x="544.44" y="256.62" width="34.02" height="2.77" fill="#fbbf16" shape-rendering="crispEdges"/>
<rect x="544.44" y="262.16" width="34.02" height="3.32" fill="#f7e21c" shape-rendering="crispEdges"/>
<rect x="544.44" y="266.58" width="34.02" height="2.77" fill="#f9f2b4" shape-rendering="crispEdges"/>
<rect x="578.15" y="133.84" width="34.02" height="1.66" fill="#f9f2b4" shape-rendering="crispEdges"/>
<rect x="578.15" y="135.5" width="34.02" height="2.21" fill="#f5ea6e" shape-rendering="crispEdges"/>
<rect x="578.15" y="137.71" width="34.02" height="3.87" fill="#f7e21c" shape-rendering="crispEdges"/>
<rect x="578.15" y="145.46" width="34.02" height="3.32" fill="#f7e21c" shape-rendering="crispEdges"/>
<rect x="578.15" y="148.78" width="34.02" height="3.32" fill="#f5ea6e" shape-rendering="crispEdges"/>
<rect x="578.15" y="155.42" width="34.02" height="2.77" fill="#f5ea6e" shape-rendering="crispEdges"/>
<rect x="578.15" y="174.23" width="34.02" height="3.32" fill="#fbbf16" shape-rendering="crispEdges"/>
<rect x="578.15" y="180.87" width="34.02" height="3.32" fill="#f5ea6e" shape-rendering="crispEdges"/>
<rect x="578.15" y="196.07" width="34.02" height="2.21" fill="#fcf9e0" shape-rendering="crispEdges"/>
<rect x="578.15" y="202.71" width="34.02" height="2.21" fill="#f9f2b4" shape-rendering="crispEdges"/>
<rect x="578.15" y="211.56" width="34.02" height="2.21" fill="#f5ea6e" shape-rendering="crispEdges"/>
<rect x="578.15" y="216.54" width="34.02" height="1.66" fill="#f9f2b4" shape-rendering="crispEdges"/>
<rect x="578.15" y="221.52" width="34.02" height="3.32" fill="#f9f2b4" shape-rendering="crispEdges"/>
<rect x="578.15" y="224.85" width="34.02" height="4.43" fill="#f7e21c" shape-rendering="crispEdges"/>
<rect x="578.15" y="229.27" width="34.02" height="2.77" fill="#f5ea6e" shape-rendering="crispEdges"/>
<rect x="578.15" y="232.04" width="34.02" height="4.98" fill="#f5861f" shape-rendering="crispEdges"/>
<rect x="578.15" y="237.02" width="34.02" height="2.21" fill="#fbbf16" shape-rendering="crispEdges"/>
<rect x="578.15" y="239.23" width="34.02" height="6.09" fill="#fbbf16" shape-rendering="crispEdges"/>
<rect x="578.15" y="245.32" width="34.02" height="2.21" fill="#f7e21c" shape-rendering="crispEdges"/>
<rect x="578.15" y="252.19" width="34.02" height="2.77" fill="#f9f2b4" shape-rendering="crispEdges"/>
<rect x="578.15" y="256.07" width="34.02" height="2.77" fill="#fbbf16" shape-rendering="crispEdges"/>
<rect x="578.15" y="262.71" width="34.02" height="2.77" fill="#f5861f" shape-rendering="crispEdges"/>
<rect x="578.15" y="265.48" width="34.02" height="5.53" fill="#f7e21c" shape-rendering="crispEdges"/>
<rect x="611.87" y="132.73" width="34.02" height="6.09" fill="#f7e21c" shape-rendering="crispEdges"/>
<rect x="611.87" y="138.82" width="34.02" height="2.21" fill="#f5861f" shape-rendering="crispEdges"/>
<rect x="611.87" y="146.56" width="34.02" height="2.21" fill="#f5ea6e" shape-rendering="crispEdges"/>
<rect x="611.87" y="148.78" width="34.02" height="2.21" fill="#fbbf16" shape-rendering="crispEdges"/>
<rect x="611.87" y="174.23" width="34.02" height="3.32" fill="#f7e21c" shape-rendering="crispEdges"/>
<rect x="611.87" y="180.87" width="34.02" height="2.21" fill="#f5ea6e" shape-rendering="crispEdges"/>
<rect x="611.87" y="203.26" width="34.02" height="2.77" fill="#f9f2b4" shape-rendering="crispEdges"/>
<rect x="611.87" y="211.56" width="34.02" height="2.21" fill="#f5ea6e" shape-rendering="crispEdges"/>
<rect x="611.87" y="215.44" width="34.02" height="2.77" fill="#f5ea6e" shape-rendering="crispEdges"/>
<rect x="611.87" y="222.63" width="34.02" height="2.21" fill="#f9f2b4" shape-rendering="crispEdges"/>
<rect x="611.87" y="227.06" width="34.02" height="3.32" fill="#f5ea6e" shape-rendering="crispEdges"/>
<rect x="611.87" y="230.38" width="34.02" height="3.32" fill="#fbbf16" shape-rendering="crispEdges"/>
<rect x="611.87" y="233.7" width="34.02" height="3.32" fill="#f7e21c" shape-rendering="crispEdges"/>
<rect x="611.87" y="237.02" width="34.02" height="7.75" fill="#fbbf16" shape-rendering="crispEdges"/>
<rect x="611.87" y="246.98" width="34.02" height="2.77" fill="#f5ea6e" shape-rendering="crispEdges"/>
<rect x="611.87" y="256.07" width="34.02" height="2.77" fill="#f5ea6e" shape-rendering="crispEdges"/>
<rect x="611.87" y="262.71" width="34.02" height="2.77" fill="#f5861f" shape-rendering="crispEdges"/>
<rect x="611.87" y="265.48" width="34.02" height="2.21" fill="#f7e21c" shape-rendering="crispEdges"/>
<rect x="611.87" y="267.69" width="34.02" height="3.32" fill="#f5861f" shape-rendering="crispEdges"/>
<rect x="645.59" y="131.07" width="34.02" height="1.66" fill="#f7e21c" shape-rendering="crispEdges"/>
<rect x="645.59" y="132.73" width="34.02" height="3.32" fill="#f5861f" shape-rendering="crispEdges"/>
<rect x="645.59" y="136.05" width="34.02" height="1.66" fill="#f7e21c" shape-rendering="crispEdges"/>
<rect x="645.59" y="137.71" width="34.02" height="2.77" fill="#f5861f" shape-rendering="crispEdges"/>
<rect x="645.59" y="142.14" width="34.02" height="3.32" fill="#f9f2b4" shape-rendering="crispEdges"/>
<rect x="645.59" y="147.12" width="34.02" height="1.66" fill="#f7e21c" shape-rendering="crispEdges"/>
<rect x="645.59" y="148.78" width="34.02" height="2.21" fill="#f5861f" shape-rendering="crispEdges"/>
<rect x="645.59" y="150.99" width="34.02" height="1.66" fill="#f9f2b4" shape-rendering="crispEdges"/>
<rect x="645.59" y="174.23" width="34.02" height="2.21" fill="#f5861f" shape-rendering="crispEdges"/>
<rect x="645.59" y="176.45" width="34.02" height="1.66" fill="#f7e21c" shape-rendering="crispEdges"/>
<rect x="645.59" y="180.87" width="34.02" height="2.77" fill="#f7e21c" shape-rendering="crispEdges"/>
<rect x="645.59" y="183.64" width="34.02" height="1.66" fill="#f9f2b4" shape-rendering="crispEdges"/>
<rect x="645.59" y="185" width="34.02" height="1.11" fill="#f5ea6e" shape-rendering="crispEdges"/>
<rect x="645.59" y="203.26" width="34.02" height="3.32" fill="#f7e21c" shape-rendering="crispEdges"/>
<rect x="645.59" y="211.56" width="34.02" height="2.21" fill="#fbbf16" shape-rendering="crispEdges"/>
<rect x="645.59" y="213.78" width="34.02" height="3.32" fill="#f7e21c" shape-rendering="crispEdges"/>
<rect x="645.59" y="217.1" width="34.02" height="3.32" fill="#f5ea6e" shape-rendering="crispEdges"/>
<rect x="645.59" y="222.63" width="34.02" height="3.32" fill="#f5ea6e" shape-rendering="crispEdges"/>
<rect x="645.59" y="227.06" width="34.02" height="3.32" fill="#f7e21c" shape-rendering="crispEdges"/>
<rect x="645.59" y="231.49" width="34.02" height="3.32" fill="#f5861f" shape-rendering="crispEdges"/>
<rect x="645.59" y="234.81" width="34.02" height="2.21" fill="#f7e21c" shape-rendering="crispEdges"/>
<rect x="645.59" y="237.02" width="34.02" height="3.32" fill="#f5ea6e" shape-rendering="crispEdges"/>
<rect x="645.59" y="240.34" width="34.02" height="3.32" fill="#f7e21c" shape-rendering="crispEdges"/>
<rect x="645.59" y="243.66" width="34.02" height="3.87" fill="#ee5424" shape-rendering="crispEdges"/>
<rect x="645.59" y="247.53" width="34.02" height="2.21" fill="#fbbf16" shape-rendering="crispEdges"/>
<rect x="645.59" y="245" width="34.02" height="3.87" fill="#ee5424" shape-rendering="crispEdges"/>
<rect x="645.59" y="250.53" width="34.02" height="3.32" fill="#f5ea6e" shape-rendering="crispEdges"/>
<rect x="645.59" y="258.28" width="34.02" height="4.43" fill="#f9f2b4" shape-rendering="crispEdges"/>
<rect x="645.59" y="262.71" width="34.02" height="3.32" fill="#ee5424" shape-rendering="crispEdges"/>
<rect x="645.59" y="266.03" width="34.02" height="1.66" fill="#f5861f" shape-rendering="crispEdges"/>
<rect x="645.59" y="267.69" width="34.02" height="3.87" fill="#ee5424" shape-rendering="crispEdges"/>
<rect x="645.59" y="271.56" width="34.02" height="2.77" fill="#f5ea6e" shape-rendering="crispEdges"/>
<rect x="679.31" y="132.73" width="34.02" height="6.09" fill="#f7e21c" shape-rendering="crispEdges"/>
<rect x="679.31" y="138.82" width="34.02" height="2.21" fill="#f5861f" shape-rendering="crispEdges"/>
<rect x="679.31" y="146.56" width="34.02" height="2.21" fill="#f5ea6e" shape-rendering="crispEdges"/>
<rect x="679.31" y="148.78" width="34.02" height="2.21" fill="#fbbf16" shape-rendering="crispEdges"/>
<rect x="679.31" y="174.23" width="34.02" height="3.32" fill="#f7e21c" shape-rendering="crispEdges"/>
<rect x="679.31" y="180.87" width="34.02" height="2.21" fill="#f5ea6e" shape-rendering="crispEdges"/>
<rect x="679.31" y="203.26" width="34.02" height="2.77" fill="#f9f2b4" shape-rendering="crispEdges"/>
<rect x="679.31" y="211.56" width="34.02" height="2.21" fill="#f5ea6e" shape-rendering="crispEdges"/>
<rect x="679.31" y="215.44" width="34.02" height="2.77" fill="#f5ea6e" shape-rendering="crispEdges"/>
<rect x="679.31" y="222.63" width="34.02" height="2.21" fill="#f9f2b4" shape-rendering="crispEdges"/>
<rect x="679.31" y="227.06" width="34.02" height="3.32" fill="#f5ea6e" shape-rendering="crispEdges"/>
<rect x="679.31" y="230.38" width="34.02" height="3.32" fill="#fbbf16" shape-rendering="crispEdges"/>
<rect x="679.31" y="233.7" width="34.02" height="3.32" fill="#f7e21c" shape-rendering="crispEdges"/>
<rect x="679.31" y="237.02" width="34.02" height="7.75" fill="#fbbf16" shape-rendering="crispEdges"/>
<rect x="679.31" y="246.98" width="34.02" height="2.77" fill="#f5ea6e" shape-rendering="crispEdges"/>
<rect x="679.31" y="256.07" width="34.02" height="2.77" fill="#f5ea6e" shape-rendering="crispEdges"/>
<rect x="679.31" y="262.71" width="34.02" height="2.77" fill="#f5861f" shape-rendering="crispEdges"/>
<rect x="679.31" y="265.48" width="34.02" height="2.21" fill="#f7e21c" shape-rendering="crispEdges"/>
<rect x="679.31" y="267.69" width="34.02" height="3.32" fill="#f5861f" shape-rendering="crispEdges"/>
<rect x="713.03" y="133.84" width="34.02" height="1.66" fill="#f9f2b4" shape-rendering="crispEdges"/>
<rect x="713.03" y="135.5" width="34.02" height="2.21" fill="#f5ea6e" shape-rendering="crispEdges"/>
<rect x="713.03" y="137.71" width="34.02" height="3.87" fill="#f7e21c" shape-rendering="crispEdges"/>
<rect x="713.03" y="145.46" width="34.02" height="3.32" fill="#f7e21c" shape-rendering="crispEdges"/>
<rect x="713.03" y="148.78" width="34.02" height="3.32" fill="#f5ea6e" shape-rendering="crispEdges"/>
<rect x="713.03" y="155.42" width="34.02" height="2.77" fill="#f5ea6e" shape-rendering="crispEdges"/>
<rect x="713.03" y="174.23" width="34.02" height="3.32" fill="#fbbf16" shape-rendering="crispEdges"/>
<rect x="713.03" y="180.87" width="34.02" height="3.32" fill="#f5ea6e" shape-rendering="crispEdges"/>
<rect x="713.03" y="196.07" width="34.02" height="2.21" fill="#fcf9e0" shape-rendering="crispEdges"/>
<rect x="713.03" y="202.71" width="34.02" height="2.21" fill="#f9f2b4" shape-rendering="crispEdges"/>
<rect x="713.03" y="211.56" width="34.02" height="2.21" fill="#f5ea6e" shape-rendering="crispEdges"/>
<rect x="713.03" y="216.54" width="34.02" height="1.66" fill="#f9f2b4" shape-rendering="crispEdges"/>
<rect x="713.03" y="221.52" width="34.02" height="3.32" fill="#f9f2b4" shape-rendering="crispEdges"/>
<rect x="713.03" y="224.85" width="34.02" height="4.43" fill="#f7e21c" shape-rendering="crispEdges"/>
<rect x="713.03" y="229.27" width="34.02" height="2.77" fill="#f5ea6e" shape-rendering="crispEdges"/>
<rect x="713.03" y="232.04" width="34.02" height="4.98" fill="#f5861f" shape-rendering="crispEdges"/>
<rect x="713.03" y="237.02" width="34.02" height="2.21" fill="#fbbf16" shape-rendering="crispEdges"/>
<rect x="713.03" y="239.23" width="34.02" height="6.09" fill="#fbbf16" shape-rendering="crispEdges"/>
<rect x="713.03" y="245.32" width="34.02" height="2.21" fill="#f7e21c" shape-rendering="crispEdges"/>
<rect x="713.03" y="252.19" width="34.02" height="2.77" fill="#f9f2b4" shape-rendering="crispEdges"/>
<rect x="713.03" y="256.07" width="34.02" height="2.77" fill="#fbbf16" shape-rendering="crispEdges"/>
<rect x="713.03" y="262.71" width="34.02" height="2.77" fill="#f5861f" shape-rendering="crispEdges"/>
<rect x="713.03" y="265.48" width="34.02" height="5.53" fill="#f7e21c" shape-rendering="crispEdges"/>
<rect x="746.75" y="138.26" width="34.02" height="2.21" fill="#f5ea6e" shape-rendering="crispEdges"/>
<rect x="746.75" y="145.46" width="34.02" height="2.21" fill="#f5ea6e" shape-rendering="crispEdges"/>
<rect x="746.75" y="149.88" width="34.02" height="2.77" fill="#f5ea6e" shape-rendering="crispEdges"/>
<rect x="746.75" y="156.52" width="34.02" height="2.21" fill="#f5ea6e" shape-rendering="crispEdges"/>
<rect x="746.75" y="159.85" width="34.02" height="2.21" fill="#f7e21c" shape-rendering="crispEdges"/>
<rect x="746.75" y="174.79" width="34.02" height="2.77" fill="#f5861f" shape-rendering="crispEdges"/>
<rect x="746.75" y="177.55" width="34.02" height="2.77" fill="#f7e21c" shape-rendering="crispEdges"/>
<rect x="746.75" y="180.32" width="34.02" height="6.64" fill="#f5ea6e" shape-rendering="crispEdges"/>
<rect x="746.75" y="185" width="34.02" height="2.21" fill="#f5ea6e" shape-rendering="crispEdges"/>
<rect x="746.75" y="189.43" width="34.02" height="2.21" fill="#f5ea6e" shape-rendering="crispEdges"/>
<rect x="746.75" y="192.75" width="34.02" height="2.77" fill="#f9f2b4" shape-rendering="crispEdges"/>
<rect x="746.75" y="196.07" width="34.02" height="3.32" fill="#f5ea6e" shape-rendering="crispEdges"/>
<rect x="746.75" y="202.16" width="34.02" height="4.43" fill="#f7e21c" shape-rendering="crispEdges"/>
<rect x="746.75" y="211.01" width="34.02" height="3.87" fill="#f5ea6e" shape-rendering="crispEdges"/>
<rect x="746.75" y="215.99" width="34.02" height="2.21" fill="#f9f2b4" shape-rendering="crispEdges"/>
<rect x="746.75" y="220.42" width="34.02" height="2.77" fill="#f5ea6e" shape-rendering="crispEdges"/>
<rect x="746.75" y="223.18" width="34.02" height="3.32" fill="#f7e21c" shape-rendering="crispEdges"/>
<rect x="746.75" y="226.51" width="34.02" height="3.87" fill="#fbbf16" shape-rendering="crispEdges"/>
<rect x="746.75" y="230.38" width="34.02" height="3.32" fill="#f5861f" shape-rendering="crispEdges"/>
<rect x="746.75" y="233.7" width="34.02" height="2.77" fill="#ee5424" shape-rendering="crispEdges"/>
<rect x="746.75" y="236.47" width="34.02" height="3.87" fill="#f7e21c" shape-rendering="crispEdges"/>
<rect x="746.75" y="240.34" width="34.02" height="4.98" fill="#f5ea6e" shape-rendering="crispEdges"/>
<rect x="746.75" y="251.64" width="34.02" height="2.77" fill="#f7e21c" shape-rendering="crispEdges"/>
<rect x="746.75" y="256.62" width="34.02" height="2.77" fill="#fbbf16" shape-rendering="crispEdges"/>
<rect x="746.75" y="262.16" width="34.02" height="3.32" fill="#f7e21c" shape-rendering="crispEdges"/>
<rect x="746.75" y="266.58" width="34.02" height="2.77" fill="#f9f2b4" shape-rendering="crispEdges"/>
<rect x="780.46" y="174.23" width="34.02" height="3.32" fill="#f5ea6e" shape-rendering="crispEdges"/>
<rect x="780.46" y="180.32" width="34.02" height="3.87" fill="#f7e21c" shape-rendering="crispEdges"/>
<rect x="780.46" y="184.19" width="34.02" height="2.21" fill="#fbbf16" shape-rendering="crispEdges"/>
<rect x="780.46" y="185" width="34.02" height="2.21" fill="#f7e21c" shape-rendering="crispEdges"/>
<rect x="780.46" y="192.19" width="34.02" height="2.21" fill="#f7e21c" shape-rendering="crispEdges"/>
<rect x="780.46" y="194.41" width="34.02" height="2.77" fill="#f5ea6e" shape-rendering="crispEdges"/>
<rect x="780.46" y="197.17" width="34.02" height="2.21" fill="#f7e21c" shape-rendering="crispEdges"/>
<rect x="780.46" y="199.39" width="34.02" height="3.32" fill="#f9f2b4" shape-rendering="crispEdges"/>
<rect x="780.46" y="202.71" width="34.02" height="1.66" fill="#f7e21c" shape-rendering="crispEdges"/>
<rect x="780.46" y="204.37" width="34.02" height="2.21" fill="#fbbf16" shape-rendering="crispEdges"/>
<rect x="780.46" y="206.58" width="34.02" height="2.21" fill="#f9f2b4" shape-rendering="crispEdges"/>
<rect x="780.46" y="211.01" width="34.02" height="3.32" fill="#f5ea6e" shape-rendering="crispEdges"/>
<rect x="780.46" y="218.2" width="34.02" height="3.32" fill="#fbbf16" shape-rendering="crispEdges"/>
<rect x="780.46" y="221.52" width="34.02" height="3.32" fill="#f7e21c" shape-rendering="crispEdges"/>
<rect x="780.46" y="224.85" width="34.02" height="5.53" fill="#fbbf16" shape-rendering="crispEdges"/>
<rect x="780.46" y="230.38" width="34.02" height="3.87" fill="#f5861f" shape-rendering="crispEdges"/>
<rect x="780.46" y="234.25" width="34.02" height="2.21" fill="#f7e21c" shape-rendering="crispEdges"/>
<rect x="780.46" y="251.64" width="34.02" height="2.77" fill="#f7e21c" shape-rendering="crispEdges"/>
<rect x="780.46" y="256.07" width="34.02" height="2.77" fill="#f7e21c" shape-rendering="crispEdges"/>
<rect x="780.46" y="263.26" width="34.02" height="2.77" fill="#f7e21c" shape-rendering="crispEdges"/>
<rect x="814.18" y="138.26" width="34.02" height="2.21" fill="#fcf9e0" shape-rendering="crispEdges"/>
<rect x="814.18" y="174.23" width="34.02" height="3.32" fill="#f7e21c" shape-rendering="crispEdges"/>
<rect x="814.18" y="177.55" width="34.02" height="2.77" fill="#fcf9e0" shape-rendering="crispEdges"/>
<rect x="814.18" y="180.32" width="34.02" height="3.32" fill="#f5ea6e" shape-rendering="crispEdges"/>
<rect x="814.18" y="183.64" width="34.02" height="2.77" fill="#f5861f" shape-rendering="crispEdges"/>
<rect x="814.18" y="186.41" width="34.02" height="3.54" fill="#f7e21c" shape-rendering="crispEdges"/>
<rect x="814.18" y="185" width="34.02" height="2.21" fill="#fbbf16" shape-rendering="crispEdges"/>
<rect x="814.18" y="187.21" width="34.02" height="2.77" fill="#f7e21c" shape-rendering="crispEdges"/>
<rect x="814.18" y="192.19" width="34.02" height="3.32" fill="#f5861f" shape-rendering="crispEdges"/>
<rect x="814.18" y="195.51" width="34.02" height="3.87" fill="#ee5424" shape-rendering="crispEdges"/>
<rect x="814.18" y="199.39" width="34.02" height="2.21" fill="#f5861f" shape-rendering="crispEdges"/>
<rect x="814.18" y="201.6" width="34.02" height="2.77" fill="#ee5424" shape-rendering="crispEdges"/>
<rect x="814.18" y="204.37" width="34.02" height="2.77" fill="#f7e21c" shape-rendering="crispEdges"/>
<rect x="814.18" y="207.14" width="34.02" height="3.87" fill="#f5ea6e" shape-rendering="crispEdges"/>
<rect x="814.18" y="211.01" width="34.02" height="3.32" fill="#f9f2b4" shape-rendering="crispEdges"/>
<rect x="814.18" y="214.33" width="34.02" height="2.77" fill="#f7e21c" shape-rendering="crispEdges"/>
<rect x="814.18" y="217.1" width="34.02" height="3.32" fill="#ee5424" shape-rendering="crispEdges"/>
<rect x="814.18" y="220.42" width="34.02" height="2.77" fill="#ea1f27" shape-rendering="crispEdges"/>
<rect x="814.18" y="223.18" width="34.02" height="3.32" fill="#f5861f" shape-rendering="crispEdges"/>
<rect x="814.18" y="226.51" width="34.02" height="3.87" fill="#f7e21c" shape-rendering="crispEdges"/>
<rect x="814.18" y="230.38" width="34.02" height="2.77" fill="#ea1f27" shape-rendering="crispEdges"/>
<rect x="814.18" y="233.15" width="34.02" height="3.32" fill="#f7e21c" shape-rendering="crispEdges"/>
<rect x="814.18" y="250.53" width="34.02" height="4.98" fill="#f7e21c" shape-rendering="crispEdges"/>
<rect x="814.18" y="255.51" width="34.02" height="2.77" fill="#fbbf16" shape-rendering="crispEdges"/>
<rect x="814.18" y="263.26" width="34.02" height="2.77" fill="#f7e21c" shape-rendering="crispEdges"/>
<polyline points="475.8,189.1 477.65,189.45 479.51,189.76 481.36,190.05 483.22,190.29 485.07,190.49 486.93,190.66 488.78,190.78 490.64,190.85 492.49,190.88 494.35,190.86 496.2,190.79 498.05,190.68 499.91,190.53 501.76,190.33 503.62,190.09 505.47,189.82 507.33,189.51 509.18,189.17 511.04,188.79 512.89,188.39 514.74,187.97 516.6,187.52 518.45,187.06 520.31,186.57 522.16,186.07 524.02,185.56 525.87,185.03 527.73,184.5 529.58,183.95 531.44,183.4 533.29,182.84 535.14,182.28 537,181.71 538.85,181.14 540.71,180.57 542.56,179.99 544.42,179.42 546.27,178.84 548.13,178.27 549.98,177.7 551.83,177.13 553.69,176.56 555.54,175.99 557.4,175.43 559.25,174.87 561.11,174.32 562.96,173.77 564.82,173.22 566.67,172.68 568.52,172.15 570.38,171.62 572.23,171.1 574.09,170.59 575.94,170.08 577.8,169.58 579.65,169.09 581.51,168.61 583.36,168.13 585.22,167.66 587.07,167.2 588.92,166.75 590.78,166.31 592.63,165.88 594.49,165.45 596.34,165.04 598.2,164.64 600.05,164.24 601.91,163.86 603.76,163.48 605.62,163.12 607.47,162.77 609.32,162.43 611.18,162.09 613.03,161.77 614.89,161.46 616.74,161.17 618.6,160.88 620.45,160.6 622.31,160.34 624.16,160.09 626.01,159.85 627.87,159.62 629.72,159.4 631.58,159.19 633.43,159 635.29,158.82 637.14,158.65 639,158.5 640.85,158.35 642.71,158.22 644.56,158.1 646.41,157.99 648.27,157.9 650.12,157.82 651.98,157.75 653.83,157.69 655.69,157.65 657.54,157.61 659.4,157.6 661.25,157.59 663.1,157.6 664.96,157.61 666.81,157.65 668.67,157.69 670.52,157.75 672.38,157.82 674.23,157.9 676.09,157.99 677.94,158.1 679.8,158.22 681.65,158.35 683.5,158.5 685.36,158.65 687.21,158.82 689.07,159 690.92,159.19 692.78,159.4 694.63,159.62 696.49,159.85 698.34,160.09 700.19,160.34 702.05,160.6 703.9,160.88 705.76,161.17 707.61,161.46 709.47,161.77 711.32,162.09 713.18,162.43 715.03,162.77 716.88,163.12 718.74,163.48 720.59,163.86 722.45,164.24 724.3,164.64 726.16,165.04 728.01,165.45 729.87,165.88 731.72,166.31 733.58,166.75 735.43,167.2 737.28,167.66 739.14,168.13 740.99,168.61 742.85,169.09 744.7,169.58 746.56,170.08 748.41,170.59 750.27,171.1 752.12,171.62 753.97,172.15 755.83,172.68 757.68,173.22 759.54,173.77 761.39,174.32 763.25,174.87 765.1,175.43 766.96,175.99 768.81,176.56 770.67,177.13 772.52,177.7 774.37,178.27 776.23,178.84 778.08,179.42 779.94,179.99 781.79,180.57 783.65,181.14 785.5,181.71 787.36,182.28 789.21,182.84 791.07,183.4 792.92,183.95 794.77,184.5 796.63,185.03 798.48,185.56 800.34,186.07 802.19,186.57 804.05,187.06 805.9,187.52 807.76,187.97 809.61,188.39 811.46,188.79 813.32,189.17 815.17,189.51 817.03,189.82 818.88,190.09 820.74,190.33 822.59,190.53 824.45,190.68 826.3,190.79 828.15,190.86 830.01,190.88 831.86,190.85 833.72,190.78 835.57,190.66 837.43,190.49 839.28,190.29 841.14,190.05 842.99,189.76 844.85,189.45 846.7,189.1" fill="none" stroke="#1d1a1b" stroke-width="2.5"/>
<polyline points="475.8,217.55 477.65,217.2 479.51,216.88 481.36,216.6 483.22,216.36 485.07,216.15 486.93,215.99 488.78,215.87 490.64,215.8 492.49,215.77 494.35,215.79 496.2,215.86 498.05,215.97 499.91,216.12 501.76,216.32 503.62,216.56 505.47,216.83 507.33,217.14 509.18,217.48 511.04,217.86 512.89,218.26 514.74,218.68 516.6,219.13 518.45,219.59 520.31,220.08 522.16,220.58 524.02,221.09 525.87,221.62 527.73,222.15 529.58,222.7 531.44,223.25 533.29,223.81 535.14,224.37 537,224.94 538.85,225.51 540.71,226.08 542.56,226.65 544.42,227.23 546.27,227.8 548.13,228.38 549.98,228.95 551.83,229.52 553.69,230.09 555.54,230.66 557.4,231.22 559.25,231.78 561.11,232.33 562.96,232.88 564.82,233.43 566.67,233.97 568.52,234.5 570.38,235.03 572.23,235.55 574.09,236.06 575.94,236.57 577.8,237.07 579.65,237.56 581.51,238.04 583.36,238.52 585.22,238.99 587.07,239.45 588.92,239.9 590.78,240.34 592.63,240.77 594.49,241.19 596.34,241.61 598.2,242.01 600.05,242.41 601.91,242.79 603.76,243.16 605.62,243.53 607.47,243.88 609.32,244.22 611.18,244.55 613.03,244.87 614.89,245.18 616.74,245.48 618.6,245.77 620.45,246.04 622.31,246.31 624.16,246.56 626.01,246.8 627.87,247.03 629.72,247.25 631.58,247.45 633.43,247.65 635.29,247.83 637.14,248 639,248.15 640.85,248.3 642.71,248.43 644.56,248.55 646.41,248.66 648.27,248.75 650.12,248.83 651.98,248.9 653.83,248.96 655.69,249 657.54,249.03 659.4,249.05 661.25,249.06 663.1,249.05 664.96,249.03 666.81,249 668.67,248.96 670.52,248.9 672.38,248.83 674.23,248.75 676.09,248.66 677.94,248.55 679.8,248.43 681.65,248.3 683.5,248.15 685.36,248 687.21,247.83 689.07,247.65 690.92,247.45 692.78,247.25 694.63,247.03 696.49,246.8 698.34,246.56 700.19,246.31 702.05,246.04 703.9,245.77 705.76,245.48 707.61,245.18 709.47,244.87 711.32,244.55 713.18,244.22 715.03,243.88 716.88,243.53 718.74,243.16 720.59,242.79 722.45,242.41 724.3,242.01 726.16,241.61 728.01,241.19 729.87,240.77 731.72,240.34 733.58,239.9 735.43,239.45 737.28,238.99 739.14,238.52 740.99,238.04 742.85,237.56 744.7,237.07 746.56,236.57 748.41,236.06 750.27,235.55 752.12,235.03 753.97,234.5 755.83,233.97 757.68,233.43 759.54,232.88 761.39,232.33 763.25,231.78 765.1,231.22 766.96,230.66 768.81,230.09 770.67,229.52 772.52,228.95 774.37,228.38 776.23,227.8 778.08,227.23 779.94,226.65 781.79,226.08 783.65,225.51 785.5,224.94 787.36,224.37 789.21,223.81 791.07,223.25 792.92,222.7 794.77,222.15 796.63,221.62 798.48,221.09 800.34,220.58 802.19,220.08 804.05,219.59 805.9,219.13 807.76,218.68 809.61,218.26 811.46,217.86 813.32,217.48 815.17,217.14 817.03,216.83 818.88,216.56 820.74,216.32 822.59,216.12 824.45,215.97 826.3,215.86 828.15,215.79 830.01,215.77 831.86,215.8 833.72,215.87 835.57,215.99 837.43,216.15 839.28,216.36 841.14,216.6 842.99,216.88 844.85,217.2 846.7,217.55" fill="none" stroke="#1d1a1b" stroke-width="2.5"/>
<line x1="475.8" y1="285.01" x2="846.7" y2="285.01" stroke="#1d1a1b" stroke-width="2.5"/>
<circle cx="593.81" cy="285.01" r="4.5" fill="#1d1a1b"/>
<circle cx="627.53" cy="285.01" r="4.5" fill="#1d1a1b"/>
<circle cx="661.25" cy="285.01" r="4.5" fill="#1d1a1b"/>
<circle cx="694.97" cy="285.01" r="4.5" fill="#1d1a1b"/>
<circle cx="728.69" cy="285.01" r="4.5" fill="#1d1a1b"/>
</g>
<rect x="475.8" y="59.4" width="370.9" height="248.95" fill="none" stroke="#1d1a1b" stroke-width="2.1"/>
<g clip-path="url(#clip11)">
<rect x="475.8" y="540.3" width="370.9" height="18.6" fill="url(#gn)"/>
<rect x="477" y="536.6" width="33.72" height="26" fill="url(#gw)"/>
<rect x="645.59" y="536.6" width="33.72" height="26" fill="url(#gw)"/>
<rect x="814.18" y="536.6" width="33.72" height="26" fill="url(#gw)"/>
<polyline points="475.8,445.7 477.65,446.05 479.51,446.36 481.36,446.65 483.22,446.89 485.07,447.09 486.93,447.26 488.78,447.38 490.64,447.45 492.49,447.48 494.35,447.46 496.2,447.39 498.05,447.28 499.91,447.13 501.76,446.93 503.62,446.69 505.47,446.42 507.33,446.11 509.18,445.77 511.04,445.39 512.89,444.99 514.74,444.57 516.6,444.12 518.45,443.66 520.31,443.17 522.16,442.67 524.02,442.16 525.87,441.63 527.73,441.1 529.58,440.55 531.44,440 533.29,439.44 535.14,438.88 537,438.31 538.85,437.74 540.71,437.17 542.56,436.59 544.42,436.02 546.27,435.44 548.13,434.87 549.98,434.3 551.83,433.73 553.69,433.16 555.54,432.59 557.4,432.03 559.25,431.47 561.11,430.92 562.96,430.37 564.82,429.82 566.67,429.28 568.52,428.75 570.38,428.22 572.23,427.7 574.09,427.19 575.94,426.68 577.8,426.18 579.65,425.69 581.51,425.21 583.36,424.73 585.22,424.26 587.07,423.8 588.92,423.35 590.78,422.91 592.63,422.48 594.49,422.05 596.34,421.64 598.2,421.24 600.05,420.84 601.91,420.46 603.76,420.08 605.62,419.72 607.47,419.37 609.32,419.03 611.18,418.69 613.03,418.37 614.89,418.06 616.74,417.77 618.6,417.48 620.45,417.2 622.31,416.94 624.16,416.69 626.01,416.45 627.87,416.22 629.72,416 631.58,415.79 633.43,415.6 635.29,415.42 637.14,415.25 639,415.1 640.85,414.95 642.71,414.82 644.56,414.7 646.41,414.59 648.27,414.5 650.12,414.42 651.98,414.35 653.83,414.29 655.69,414.25 657.54,414.21 659.4,414.2 661.25,414.19 663.1,414.2 664.96,414.21 666.81,414.25 668.67,414.29 670.52,414.35 672.38,414.42 674.23,414.5 676.09,414.59 677.94,414.7 679.8,414.82 681.65,414.95 683.5,415.1 685.36,415.25 687.21,415.42 689.07,415.6 690.92,415.79 692.78,416 694.63,416.22 696.49,416.45 698.34,416.69 700.19,416.94 702.05,417.2 703.9,417.48 705.76,417.77 707.61,418.06 709.47,418.37 711.32,418.69 713.18,419.03 715.03,419.37 716.88,419.72 718.74,420.08 720.59,420.46 722.45,420.84 724.3,421.24 726.16,421.64 728.01,422.05 729.87,422.48 731.72,422.91 733.58,423.35 735.43,423.8 737.28,424.26 739.14,424.73 740.99,425.21 742.85,425.69 744.7,426.18 746.56,426.68 748.41,427.19 750.27,427.7 752.12,428.22 753.97,428.75 755.83,429.28 757.68,429.82 759.54,430.37 761.39,430.92 763.25,431.47 765.1,432.03 766.96,432.59 768.81,433.16 770.67,433.73 772.52,434.3 774.37,434.87 776.23,435.44 778.08,436.02 779.94,436.59 781.79,437.17 783.65,437.74 785.5,438.31 787.36,438.88 789.21,439.44 791.07,440 792.92,440.55 794.77,441.1 796.63,441.63 798.48,442.16 800.34,442.67 802.19,443.17 804.05,443.66 805.9,444.12 807.76,444.57 809.61,444.99 811.46,445.39 813.32,445.77 815.17,446.11 817.03,446.42 818.88,446.69 820.74,446.93 822.59,447.13 824.45,447.28 826.3,447.39 828.15,447.46 830.01,447.48 831.86,447.45 833.72,447.38 835.57,447.26 837.43,447.09 839.28,446.89 841.14,446.65 842.99,446.36 844.85,446.05 846.7,445.7" fill="none" stroke="#1d1a1b" stroke-width="2.5"/>
<polyline points="475.8,474.15 477.65,473.8 479.51,473.48 481.36,473.2 483.22,472.96 485.07,472.75 486.93,472.59 488.78,472.47 490.64,472.4 492.49,472.37 494.35,472.39 496.2,472.46 498.05,472.57 499.91,472.72 501.76,472.92 503.62,473.16 505.47,473.43 507.33,473.74 509.18,474.08 511.04,474.46 512.89,474.86 514.74,475.28 516.6,475.73 518.45,476.19 520.31,476.68 522.16,477.18 524.02,477.69 525.87,478.22 527.73,478.75 529.58,479.3 531.44,479.85 533.29,480.41 535.14,480.97 537,481.54 538.85,482.11 540.71,482.68 542.56,483.25 544.42,483.83 546.27,484.4 548.13,484.98 549.98,485.55 551.83,486.12 553.69,486.69 555.54,487.26 557.4,487.82 559.25,488.38 561.11,488.93 562.96,489.48 564.82,490.03 566.67,490.57 568.52,491.1 570.38,491.63 572.23,492.15 574.09,492.66 575.94,493.17 577.8,493.67 579.65,494.16 581.51,494.64 583.36,495.12 585.22,495.59 587.07,496.05 588.92,496.5 590.78,496.94 592.63,497.37 594.49,497.79 596.34,498.21 598.2,498.61 600.05,499.01 601.91,499.39 603.76,499.76 605.62,500.13 607.47,500.48 609.32,500.82 611.18,501.15 613.03,501.47 614.89,501.78 616.74,502.08 618.6,502.37 620.45,502.64 622.31,502.91 624.16,503.16 626.01,503.4 627.87,503.63 629.72,503.85 631.58,504.05 633.43,504.25 635.29,504.43 637.14,504.6 639,504.75 640.85,504.9 642.71,505.03 644.56,505.15 646.41,505.26 648.27,505.35 650.12,505.43 651.98,505.5 653.83,505.56 655.69,505.6 657.54,505.63 659.4,505.65 661.25,505.66 663.1,505.65 664.96,505.63 666.81,505.6 668.67,505.56 670.52,505.5 672.38,505.43 674.23,505.35 676.09,505.26 677.94,505.15 679.8,505.03 681.65,504.9 683.5,504.75 685.36,504.6 687.21,504.43 689.07,504.25 690.92,504.05 692.78,503.85 694.63,503.63 696.49,503.4 698.34,503.16 700.19,502.91 702.05,502.64 703.9,502.37 705.76,502.08 707.61,501.78 709.47,501.47 711.32,501.15 713.18,500.82 715.03,500.48 716.88,500.13 718.74,499.76 720.59,499.39 722.45,499.01 724.3,498.61 726.16,498.21 728.01,497.79 729.87,497.37 731.72,496.94 733.58,496.5 735.43,496.05 737.28,495.59 739.14,495.12 740.99,494.64 742.85,494.16 744.7,493.67 746.56,493.17 748.41,492.66 750.27,492.15 752.12,491.63 753.97,491.1 755.83,490.57 757.68,490.03 759.54,489.48 761.39,488.93 763.25,488.38 765.1,487.82 766.96,487.26 768.81,486.69 770.67,486.12 772.52,485.55 774.37,484.98 776.23,484.4 778.08,483.83 779.94,483.25 781.79,482.68 783.65,482.11 785.5,481.54 787.36,480.97 789.21,480.41 791.07,479.85 792.92,479.3 794.77,478.75 796.63,478.22 798.48,477.69 800.34,477.18 802.19,476.68 804.05,476.19 805.9,475.73 807.76,475.28 809.61,474.86 811.46,474.46 813.32,474.08 815.17,473.74 817.03,473.43 818.88,473.16 820.74,472.92 822.59,472.72 824.45,472.57 826.3,472.46 828.15,472.39 830.01,472.37 831.86,472.4 833.72,472.47 835.57,472.59 837.43,472.75 839.28,472.96 841.14,473.2 842.99,473.48 844.85,473.8 846.7,474.15" fill="none" stroke="#1d1a1b" stroke-width="2.5"/>
<line x1="475.8" y1="541.61" x2="846.7" y2="541.61" stroke="#1d1a1b" stroke-width="2.5"/>
<circle cx="593.81" cy="541.61" r="4.5" fill="#1d1a1b"/>
<circle cx="627.53" cy="541.61" r="4.5" fill="#1d1a1b"/>
<circle cx="661.25" cy="541.61" r="4.5" fill="#1d1a1b"/>
<circle cx="694.97" cy="541.61" r="4.5" fill="#1d1a1b"/>
<circle cx="728.69" cy="541.61" r="4.5" fill="#1d1a1b"/>
</g>
<rect x="475.8" y="316" width="370.9" height="248.95" fill="none" stroke="#1d1a1b" stroke-width="2.1"/>
<g clip-path="url(#clip12)">
<rect x="477" y="660.46" width="34.02" height="3.32" fill="#fbbf16" shape-rendering="crispEdges"/>
<rect x="477" y="663.78" width="34.02" height="3.87" fill="#f5ea6e" shape-rendering="crispEdges"/>
<rect x="477" y="667.65" width="34.02" height="1.66" fill="#f7e21c" shape-rendering="crispEdges"/>
<rect x="477" y="669.31" width="34.02" height="2.21" fill="#f5861f" shape-rendering="crispEdges"/>
<rect x="477" y="671.52" width="34.02" height="1.66" fill="#fbbf16" shape-rendering="crispEdges"/>
<rect x="477" y="673.18" width="34.02" height="3.87" fill="#f5861f" shape-rendering="crispEdges"/>
<rect x="477" y="677.06" width="34.02" height="2.21" fill="#f9f2b4" shape-rendering="crispEdges"/>
<rect x="477" y="685.91" width="34.02" height="7.75" fill="#f7e21c" shape-rendering="crispEdges"/>
<rect x="477" y="693.66" width="34.02" height="4.43" fill="#ea1f27" shape-rendering="crispEdges"/>
<rect x="477" y="698.09" width="34.02" height="3.32" fill="#f5861f" shape-rendering="crispEdges"/>
<rect x="477" y="701.41" width="34.02" height="3.54" fill="#ea1f27" shape-rendering="crispEdges"/>
<rect x="477" y="700" width="34.02" height="2.21" fill="#f5861f" shape-rendering="crispEdges"/>
<rect x="477" y="702.21" width="34.02" height="2.77" fill="#ea1f27" shape-rendering="crispEdges"/>
<rect x="477" y="704.98" width="34.02" height="3.87" fill="#ea1f27" shape-rendering="crispEdges"/>
<rect x="477" y="708.85" width="34.02" height="4.43" fill="#f7e21c" shape-rendering="crispEdges"/>
<rect x="477" y="713.28" width="34.02" height="2.77" fill="#f9f2b4" shape-rendering="crispEdges"/>
<rect x="477" y="716.05" width="34.02" height="3.32" fill="#f5ea6e" shape-rendering="crispEdges"/>
<rect x="477" y="745.93" width="34.02" height="2.77" fill="#f9f2b4" shape-rendering="crispEdges"/>
<rect x="477" y="756.45" width="34.02" height="2.21" fill="#fcf9e0" shape-rendering="crispEdges"/>
<rect x="510.72" y="659.35" width="34.02" height="2.77" fill="#f9f2b4" shape-rendering="crispEdges"/>
<rect x="510.72" y="662.12" width="34.02" height="2.21" fill="#f7e21c" shape-rendering="crispEdges"/>
<rect x="510.72" y="664.33" width="34.02" height="2.21" fill="#f5ea6e" shape-rendering="crispEdges"/>
<rect x="510.72" y="666.54" width="34.02" height="2.77" fill="#f9f2b4" shape-rendering="crispEdges"/>
<rect x="510.72" y="669.31" width="34.02" height="2.21" fill="#f5861f" shape-rendering="crispEdges"/>
<rect x="510.72" y="671.52" width="34.02" height="2.21" fill="#f7e21c" shape-rendering="crispEdges"/>
<rect x="510.72" y="673.74" width="34.02" height="3.32" fill="#fbbf16" shape-rendering="crispEdges"/>
<rect x="510.72" y="687.02" width="34.02" height="3.32" fill="#f7e21c" shape-rendering="crispEdges"/>
<rect x="510.72" y="690.34" width="34.02" height="3.32" fill="#f5ea6e" shape-rendering="crispEdges"/>
<rect x="510.72" y="693.66" width="34.02" height="3.32" fill="#ee5424" shape-rendering="crispEdges"/>
<rect x="510.72" y="696.98" width="34.02" height="4.43" fill="#f5861f" shape-rendering="crispEdges"/>
<rect x="510.72" y="701.41" width="34.02" height="3.54" fill="#fbbf16" shape-rendering="crispEdges"/>
<rect x="510.72" y="700" width="34.02" height="1.11" fill="#fbbf16" shape-rendering="crispEdges"/>
<rect x="510.72" y="703.32" width="34.02" height="2.77" fill="#fbbf16" shape-rendering="crispEdges"/>
<rect x="510.72" y="706.09" width="34.02" height="2.77" fill="#f5861f" shape-rendering="crispEdges"/>
<rect x="510.72" y="708.85" width="34.02" height="3.32" fill="#fbbf16" shape-rendering="crispEdges"/>
<rect x="510.72" y="712.17" width="34.02" height="3.32" fill="#f9f2b4" shape-rendering="crispEdges"/>
<rect x="510.72" y="715.5" width="34.02" height="3.87" fill="#f7e21c" shape-rendering="crispEdges"/>
<rect x="510.72" y="733.2" width="34.02" height="2.21" fill="#f9f2b4" shape-rendering="crispEdges"/>
<rect x="510.72" y="738.18" width="34.02" height="1.66" fill="#f9f2b4" shape-rendering="crispEdges"/>
<rect x="510.72" y="745.38" width="34.02" height="2.21" fill="#f9f2b4" shape-rendering="crispEdges"/>
<rect x="544.44" y="651.05" width="34.02" height="2.77" fill="#f7e21c" shape-rendering="crispEdges"/>
<rect x="544.44" y="653.82" width="34.02" height="1.11" fill="#f9f2b4" shape-rendering="crispEdges"/>
<rect x="544.44" y="658.24" width="34.02" height="3.32" fill="#f5ea6e" shape-rendering="crispEdges"/>
<rect x="544.44" y="661.56" width="34.02" height="2.21" fill="#f7e21c" shape-rendering="crispEdges"/>
<rect x="544.44" y="663.78" width="34.02" height="4.43" fill="#fbbf16" shape-rendering="crispEdges"/>
<rect x="544.44" y="668.2" width="34.02" height="2.21" fill="#f7e21c" shape-rendering="crispEdges"/>
<rect x="544.44" y="670.42" width="34.02" height="2.21" fill="#f5861f" shape-rendering="crispEdges"/>
<rect x="544.44" y="672.63" width="34.02" height="3.32" fill="#fbbf16" shape-rendering="crispEdges"/>
<rect x="544.44" y="675.95" width="34.02" height="1.66" fill="#f9f2b4" shape-rendering="crispEdges"/>
<rect x="544.44" y="688.13" width="34.02" height="2.77" fill="#f5861f" shape-rendering="crispEdges"/>
<rect x="544.44" y="690.89" width="34.02" height="3.87" fill="#f7e21c" shape-rendering="crispEdges"/>
<rect x="544.44" y="694.77" width="34.02" height="2.21" fill="#fbbf16" shape-rendering="crispEdges"/>
<rect x="544.44" y="696.98" width="34.02" height="3.32" fill="#f7e21c" shape-rendering="crispEdges"/>
<rect x="544.44" y="700.3" width="34.02" height="4.65" fill="#f9f2b4" shape-rendering="crispEdges"/>
<rect x="544.44" y="700" width="34.02" height="3.32" fill="#f9f2b4" shape-rendering="crispEdges"/>
<rect x="544.44" y="703.32" width="34.02" height="3.32" fill="#f5ea6e" shape-rendering="crispEdges"/>
<rect x="544.44" y="707.75" width="34.02" height="3.32" fill="#f5ea6e" shape-rendering="crispEdges"/>
<rect x="544.44" y="715.5" width="34.02" height="4.43" fill="#f7e21c" shape-rendering="crispEdges"/>
<rect x="544.44" y="723.8" width="34.02" height="2.77" fill="#f7e21c" shape-rendering="crispEdges"/>
<rect x="544.44" y="733.2" width="34.02" height="2.21" fill="#f9f2b4" shape-rendering="crispEdges"/>
<rect x="544.44" y="737.63" width="34.02" height="3.87" fill="#f5ea6e" shape-rendering="crispEdges"/>
<rect x="544.44" y="743.72" width="34.02" height="6.09" fill="#f7e21c" shape-rendering="crispEdges"/>
<rect x="544.44" y="754.23" width="34.02" height="3.32" fill="#fcf9e0" shape-rendering="crispEdges"/>
<rect x="544.44" y="760.32" width="34.02" height="1.66" fill="#fcf9e0" shape-rendering="crispEdges"/>
<rect x="544.44" y="766.41" width="34.02" height="3.54" fill="#fcf9e0" shape-rendering="crispEdges"/>
<rect x="544.44" y="769.41" width="34.02" height="1.66" fill="#fcf9e0" shape-rendering="crispEdges"/>
<rect x="544.44" y="776.05" width="34.02" height="1.66" fill="#fcf9e0" shape-rendering="crispEdges"/>
<rect x="578.15" y="647.17" width="34.02" height="3.87" fill="#f7e21c" shape-rendering="crispEdges"/>
<rect x="578.15" y="651.05" width="34.02" height="4.43" fill="#fbbf16" shape-rendering="crispEdges"/>
<rect x="578.15" y="655.48" width="34.02" height="6.64" fill="#f7e21c" shape-rendering="crispEdges"/>
<rect x="578.15" y="662.12" width="34.02" height="3.32" fill="#f5861f" shape-rendering="crispEdges"/>
<rect x="578.15" y="665.44" width="34.02" height="2.77" fill="#f7e21c" shape-rendering="crispEdges"/>
<rect x="578.15" y="668.2" width="34.02" height="3.32" fill="#fbbf16" shape-rendering="crispEdges"/>
<rect x="578.15" y="671.52" width="34.02" height="2.21" fill="#f9f2b4" shape-rendering="crispEdges"/>
<rect x="578.15" y="687.02" width="34.02" height="3.32" fill="#f5861f" shape-rendering="crispEdges"/>
<rect x="578.15" y="690.34" width="34.02" height="2.21" fill="#f7e21c" shape-rendering="crispEdges"/>
<rect x="578.15" y="692.55" width="34.02" height="2.21" fill="#f5ea6e" shape-rendering="crispEdges"/>
<rect x="578.15" y="694.77" width="34.02" height="4.43" fill="#f7e21c" shape-rendering="crispEdges"/>
<rect x="578.15" y="715.5" width="34.02" height="3.87" fill="#f5ea6e" shape-rendering="crispEdges"/>
<rect x="578.15" y="724.35" width="34.02" height="2.21" fill="#f5ea6e" shape-rendering="crispEdges"/>
<rect x="578.15" y="728.22" width="34.02" height="2.21" fill="#f9f2b4" shape-rendering="crispEdges"/>
<rect x="578.15" y="737.63" width="34.02" height="2.77" fill="#f9f2b4" shape-rendering="crispEdges"/>
<rect x="578.15" y="743.72" width="34.02" height="4.43" fill="#f7e21c" shape-rendering="crispEdges"/>
<rect x="578.15" y="753.13" width="34.02" height="5.53" fill="#f7e21c" shape-rendering="crispEdges"/>
<rect x="578.15" y="769.41" width="34.02" height="2.21" fill="#f5ea6e" shape-rendering="crispEdges"/>
<rect x="578.15" y="776.05" width="34.02" height="2.77" fill="#f7e21c" shape-rendering="crispEdges"/>
<rect x="578.15" y="780.48" width="34.02" height="2.21" fill="#fcf9e0" shape-rendering="crispEdges"/>
<rect x="611.87" y="644.96" width="34.02" height="2.21" fill="#f7e21c" shape-rendering="crispEdges"/>
<rect x="611.87" y="647.17" width="34.02" height="3.32" fill="#f5861f" shape-rendering="crispEdges"/>
<rect x="611.87" y="650.5" width="34.02" height="2.77" fill="#ee5424" shape-rendering="crispEdges"/>
<rect x="611.87" y="653.26" width="34.02" height="2.77" fill="#f7e21c" shape-rendering="crispEdges"/>
<rect x="611.87" y="656.03" width="34.02" height="2.21" fill="#f9f2b4" shape-rendering="crispEdges"/>
<rect x="611.87" y="658.24" width="34.02" height="2.77" fill="#f7e21c" shape-rendering="crispEdges"/>
<rect x="611.87" y="661.01" width="34.02" height="2.77" fill="#f5861f" shape-rendering="crispEdges"/>
<rect x="611.87" y="663.78" width="34.02" height="4.43" fill="#f5ea6e" shape-rendering="crispEdges"/>
<rect x="611.87" y="687.02" width="34.02" height="3.32" fill="#f5861f" shape-rendering="crispEdges"/>
<rect x="611.87" y="690.34" width="34.02" height="2.21" fill="#f7e21c" shape-rendering="crispEdges"/>
<rect x="611.87" y="692.55" width="34.02" height="2.77" fill="#f5ea6e" shape-rendering="crispEdges"/>
<rect x="611.87" y="695.32" width="34.02" height="2.21" fill="#f7e21c" shape-rendering="crispEdges"/>
<rect x="611.87" y="715.5" width="34.02" height="1.66" fill="#fcf9e0" shape-rendering="crispEdges"/>
<rect x="611.87" y="724.35" width="34.02" height="2.21" fill="#f5ea6e" shape-rendering="crispEdges"/>
<rect x="611.87" y="728.22" width="34.02" height="2.21" fill="#f9f2b4" shape-rendering="crispEdges"/>
<rect x="611.87" y="742.61" width="34.02" height="6.64" fill="#f7e21c" shape-rendering="crispEdges"/>
<rect x="611.87" y="749.25" width="34.02" height="2.77" fill="#f9f2b4" shape-rendering="crispEdges"/>
<rect x="611.87" y="755.34" width="34.02" height="3.32" fill="#fbbf16" shape-rendering="crispEdges"/>
<rect x="611.87" y="769.41" width="34.02" height="1.66" fill="#fcf9e0" shape-rendering="crispEdges"/>
<rect x="611.87" y="776.05" width="34.02" height="3.32" fill="#f7e21c" shape-rendering="crispEdges"/>
<rect x="611.87" y="780.48" width="34.02" height="3.32" fill="#f7e21c" shape-rendering="crispEdges"/>
<rect x="645.59" y="643.3" width="34.02" height="2.77" fill="#f7e21c" shape-rendering="crispEdges"/>
<rect x="645.59" y="646.07" width="34.02" height="3.32" fill="#ee5424" shape-rendering="crispEdges"/>
<rect x="645.59" y="649.39" width="34.02" height="2.21" fill="#f5861f" shape-rendering="crispEdges"/>
<rect x="645.59" y="651.6" width="34.02" height="2.21" fill="#ee5424" shape-rendering="crispEdges"/>
<rect x="645.59" y="653.82" width="34.02" height="3.32" fill="#f7e21c" shape-rendering="crispEdges"/>
<rect x="645.59" y="657.14" width="34.02" height="3.32" fill="#f5ea6e" shape-rendering="crispEdges"/>
<rect x="645.59" y="660.46" width="34.02" height="3.87" fill="#ee5424" shape-rendering="crispEdges"/>
<rect x="645.59" y="664.33" width="34.02" height="2.77" fill="#f7e21c" shape-rendering="crispEdges"/>
<rect x="645.59" y="667.1" width="34.02" height="3.32" fill="#f5ea6e" shape-rendering="crispEdges"/>
<rect x="645.59" y="683.7" width="34.02" height="3.32" fill="#f7e21c" shape-rendering="crispEdges"/>
<rect x="645.59" y="687.02" width="34.02" height="3.32" fill="#ee5424" shape-rendering="crispEdges"/>
<rect x="645.59" y="690.34" width="34.02" height="7.19" fill="#f7e21c" shape-rendering="crispEdges"/>
<rect x="645.59" y="716.6" width="34.02" height="2.21" fill="#f9f2b4" shape-rendering="crispEdges"/>
<rect x="645.59" y="723.8" width="34.02" height="3.87" fill="#f7e21c" shape-rendering="crispEdges"/>
<rect x="645.59" y="727.67" width="34.02" height="3.32" fill="#f5ea6e" shape-rendering="crispEdges"/>
<rect x="645.59" y="734.31" width="34.02" height="2.21" fill="#f9f2b4" shape-rendering="crispEdges"/>
<rect x="645.59" y="742.06" width="34.02" height="2.21" fill="#f5ea6e" shape-rendering="crispEdges"/>
<rect x="645.59" y="744.27" width="34.02" height="4.43" fill="#fbbf16" shape-rendering="crispEdges"/>
<rect x="645.59" y="748.7" width="34.02" height="2.21" fill="#f7e21c" shape-rendering="crispEdges"/>
<rect x="645.59" y="756.45" width="34.02" height="3.32" fill="#ee5424" shape-rendering="crispEdges"/>
<rect x="645.59" y="759.77" width="34.02" height="3.32" fill="#fbbf16" shape-rendering="crispEdges"/>
<rect x="645.59" y="763.09" width="34.02" height="3.32" fill="#f9f2b4" shape-rendering="crispEdges"/>
<rect x="645.59" y="764.43" width="34.02" height="2.77" fill="#f9f2b4" shape-rendering="crispEdges"/>
<rect x="645.59" y="775.5" width="34.02" height="4.43" fill="#fbbf16" shape-rendering="crispEdges"/>
<rect x="645.59" y="779.92" width="34.02" height="1.11" fill="#f7e21c" shape-rendering="crispEdges"/>
<rect x="645.59" y="781.03" width="34.02" height="3.32" fill="#fbbf16" shape-rendering="crispEdges"/>
<rect x="679.31" y="644.96" width="34.02" height="2.21" fill="#f7e21c" shape-rendering="crispEdges"/>
<rect x="679.31" y="647.17" width="34.02" height="3.32" fill="#f5861f" shape-rendering="crispEdges"/>
<rect x="679.31" y="650.5" width="34.02" height="2.77" fill="#ee5424" shape-rendering="crispEdges"/>
<rect x="679.31" y="653.26" width="34.02" height="2.77" fill="#f7e21c" shape-rendering="crispEdges"/>
<rect x="679.31" y="656.03" width="34.02" height="2.21" fill="#f9f2b4" shape-rendering="crispEdges"/>
<rect x="679.31" y="658.24" width="34.02" height="2.77" fill="#f7e21c" shape-rendering="crispEdges"/>
<rect x="679.31" y="661.01" width="34.02" height="2.77" fill="#f5861f" shape-rendering="crispEdges"/>
<rect x="679.31" y="663.78" width="34.02" height="4.43" fill="#f5ea6e" shape-rendering="crispEdges"/>
<rect x="679.31" y="687.02" width="34.02" height="3.32" fill="#f5861f" shape-rendering="crispEdges"/>
<rect x="679.31" y="690.34" width="34.02" height="2.21" fill="#f7e21c" shape-rendering="crispEdges"/>
<rect x="679.31" y="692.55" width="34.02" height="2.77" fill="#f5ea6e" shape-rendering="crispEdges"/>
<rect x="679.31" y="695.32" width="34.02" height="2.21" fill="#f7e21c" shape-rendering="crispEdges"/>
<rect x="679.31" y="715.5" width="34.02" height="1.66" fill="#fcf9e0" shape-rendering="crispEdges"/>
<rect x="679.31" y="724.35" width="34.02" height="2.21" fill="#f5ea6e" shape-rendering="crispEdges"/>
<rect x="679.31" y="728.22" width="34.02" height="2.21" fill="#f9f2b4" shape-rendering="crispEdges"/>
<rect x="679.31" y="742.61" width="34.02" height="6.64" fill="#f7e21c" shape-rendering="crispEdges"/>
<rect x="679.31" y="749.25" width="34.02" height="2.77" fill="#f9f2b4" shape-rendering="crispEdges"/>
<rect x="679.31" y="755.34" width="34.02" height="3.32" fill="#fbbf16" shape-rendering="crispEdges"/>
<rect x="679.31" y="769.41" width="34.02" height="1.66" fill="#fcf9e0" shape-rendering="crispEdges"/>
<rect x="679.31" y="776.05" width="34.02" height="3.32" fill="#f7e21c" shape-rendering="crispEdges"/>
<rect x="679.31" y="780.48" width="34.02" height="3.32" fill="#f7e21c" shape-rendering="crispEdges"/>
<rect x="713.03" y="647.17" width="34.02" height="3.87" fill="#f7e21c" shape-rendering="crispEdges"/>
<rect x="713.03" y="651.05" width="34.02" height="4.43" fill="#fbbf16" shape-rendering="crispEdges"/>
<rect x="713.03" y="655.48" width="34.02" height="6.64" fill="#f7e21c" shape-rendering="crispEdges"/>
<rect x="713.03" y="662.12" width="34.02" height="3.32" fill="#f5861f" shape-rendering="crispEdges"/>
<rect x="713.03" y="665.44" width="34.02" height="2.77" fill="#f7e21c" shape-rendering="crispEdges"/>
<rect x="713.03" y="668.2" width="34.02" height="3.32" fill="#fbbf16" shape-rendering="crispEdges"/>
<rect x="713.03" y="671.52" width="34.02" height="2.21" fill="#f9f2b4" shape-rendering="crispEdges"/>
<rect x="713.03" y="687.02" width="34.02" height="3.32" fill="#f5861f" shape-rendering="crispEdges"/>
<rect x="713.03" y="690.34" width="34.02" height="2.21" fill="#f7e21c" shape-rendering="crispEdges"/>
<rect x="713.03" y="692.55" width="34.02" height="2.21" fill="#f5ea6e" shape-rendering="crispEdges"/>
<rect x="713.03" y="694.77" width="34.02" height="4.43" fill="#f7e21c" shape-rendering="crispEdges"/>
<rect x="713.03" y="715.5" width="34.02" height="3.87" fill="#f5ea6e" shape-rendering="crispEdges"/>
<rect x="713.03" y="724.35" width="34.02" height="2.21" fill="#f5ea6e" shape-rendering="crispEdges"/>
<rect x="713.03" y="728.22" width="34.02" height="2.21" fill="#f9f2b4" shape-rendering="crispEdges"/>
<rect x="713.03" y="737.63" width="34.02" height="2.77" fill="#f9f2b4" shape-rendering="crispEdges"/>
<rect x="713.03" y="743.72" width="34.02" height="4.43" fill="#f7e21c" shape-rendering="crispEdges"/>
<rect x="713.03" y="753.13" width="34.02" height="5.53" fill="#f7e21c" shape-rendering="crispEdges"/>
<rect x="713.03" y="769.41" width="34.02" height="2.21" fill="#f5ea6e" shape-rendering="crispEdges"/>
<rect x="713.03" y="776.05" width="34.02" height="2.77" fill="#f7e21c" shape-rendering="crispEdges"/>
<rect x="713.03" y="780.48" width="34.02" height="2.21" fill="#fcf9e0" shape-rendering="crispEdges"/>
<rect x="746.75" y="651.05" width="34.02" height="2.77" fill="#f7e21c" shape-rendering="crispEdges"/>
<rect x="746.75" y="653.82" width="34.02" height="1.11" fill="#f9f2b4" shape-rendering="crispEdges"/>
<rect x="746.75" y="658.24" width="34.02" height="3.32" fill="#f5ea6e" shape-rendering="crispEdges"/>
<rect x="746.75" y="661.56" width="34.02" height="2.21" fill="#f7e21c" shape-rendering="crispEdges"/>
<rect x="746.75" y="663.78" width="34.02" height="4.43" fill="#fbbf16" shape-rendering="crispEdges"/>
<rect x="746.75" y="668.2" width="34.02" height="2.21" fill="#f7e21c" shape-rendering="crispEdges"/>
<rect x="746.75" y="670.42" width="34.02" height="2.21" fill="#f5861f" shape-rendering="crispEdges"/>
<rect x="746.75" y="672.63" width="34.02" height="3.32" fill="#fbbf16" shape-rendering="crispEdges"/>
<rect x="746.75" y="675.95" width="34.02" height="1.66" fill="#f9f2b4" shape-rendering="crispEdges"/>
<rect x="746.75" y="688.13" width="34.02" height="2.77" fill="#f5861f" shape-rendering="crispEdges"/>
<rect x="746.75" y="690.89" width="34.02" height="3.87" fill="#f7e21c" shape-rendering="crispEdges"/>
<rect x="746.75" y="694.77" width="34.02" height="2.21" fill="#fbbf16" shape-rendering="crispEdges"/>
<rect x="746.75" y="696.98" width="34.02" height="3.32" fill="#f7e21c" shape-rendering="crispEdges"/>
<rect x="746.75" y="700.3" width="34.02" height="4.65" fill="#f9f2b4" shape-rendering="crispEdges"/>
<rect x="746.75" y="700" width="34.02" height="3.32" fill="#f9f2b4" shape-rendering="crispEdges"/>
<rect x="746.75" y="703.32" width="34.02" height="3.32" fill="#f5ea6e" shape-rendering="crispEdges"/>
<rect x="746.75" y="707.75" width="34.02" height="3.32" fill="#f5ea6e" shape-rendering="crispEdges"/>
<rect x="746.75" y="715.5" width="34.02" height="4.43" fill="#f7e21c" shape-rendering="crispEdges"/>
<rect x="746.75" y="723.8" width="34.02" height="2.77" fill="#f7e21c" shape-rendering="crispEdges"/>
<rect x="746.75" y="733.2" width="34.02" height="2.21" fill="#f9f2b4" shape-rendering="crispEdges"/>
<rect x="746.75" y="737.63" width="34.02" height="3.87" fill="#f5ea6e" shape-rendering="crispEdges"/>
<rect x="746.75" y="743.72" width="34.02" height="6.09" fill="#f7e21c" shape-rendering="crispEdges"/>
<rect x="746.75" y="754.23" width="34.02" height="3.32" fill="#fcf9e0" shape-rendering="crispEdges"/>
<rect x="746.75" y="760.32" width="34.02" height="1.66" fill="#fcf9e0" shape-rendering="crispEdges"/>
<rect x="746.75" y="766.41" width="34.02" height="3.54" fill="#fcf9e0" shape-rendering="crispEdges"/>
<rect x="746.75" y="769.41" width="34.02" height="1.66" fill="#fcf9e0" shape-rendering="crispEdges"/>
<rect x="746.75" y="776.05" width="34.02" height="1.66" fill="#fcf9e0" shape-rendering="crispEdges"/>
<rect x="780.46" y="659.35" width="34.02" height="2.77" fill="#f9f2b4" shape-rendering="crispEdges"/>
<rect x="780.46" y="662.12" width="34.02" height="2.21" fill="#f7e21c" shape-rendering="crispEdges"/>
<rect x="780.46" y="664.33" width="34.02" height="2.21" fill="#f5ea6e" shape-rendering="crispEdges"/>
<rect x="780.46" y="666.54" width="34.02" height="2.77" fill="#f9f2b4" shape-rendering="crispEdges"/>
<rect x="780.46" y="669.31" width="34.02" height="2.21" fill="#f5861f" shape-rendering="crispEdges"/>
<rect x="780.46" y="671.52" width="34.02" height="2.21" fill="#f7e21c" shape-rendering="crispEdges"/>
<rect x="780.46" y="673.74" width="34.02" height="3.32" fill="#fbbf16" shape-rendering="crispEdges"/>
<rect x="780.46" y="687.02" width="34.02" height="3.32" fill="#f7e21c" shape-rendering="crispEdges"/>
<rect x="780.46" y="690.34" width="34.02" height="3.32" fill="#f5ea6e" shape-rendering="crispEdges"/>
<rect x="780.46" y="693.66" width="34.02" height="3.32" fill="#ee5424" shape-rendering="crispEdges"/>
<rect x="780.46" y="696.98" width="34.02" height="4.43" fill="#f5861f" shape-rendering="crispEdges"/>
<rect x="780.46" y="701.41" width="34.02" height="3.54" fill="#fbbf16" shape-rendering="crispEdges"/>
<rect x="780.46" y="700" width="34.02" height="1.11" fill="#fbbf16" shape-rendering="crispEdges"/>
<rect x="780.46" y="703.32" width="34.02" height="2.77" fill="#fbbf16" shape-rendering="crispEdges"/>
<rect x="780.46" y="706.09" width="34.02" height="2.77" fill="#f5861f" shape-rendering="crispEdges"/>
<rect x="780.46" y="708.85" width="34.02" height="3.32" fill="#fbbf16" shape-rendering="crispEdges"/>
<rect x="780.46" y="712.17" width="34.02" height="3.32" fill="#f9f2b4" shape-rendering="crispEdges"/>
<rect x="780.46" y="715.5" width="34.02" height="3.87" fill="#f7e21c" shape-rendering="crispEdges"/>
<rect x="780.46" y="733.2" width="34.02" height="2.21" fill="#f9f2b4" shape-rendering="crispEdges"/>
<rect x="780.46" y="738.18" width="34.02" height="1.66" fill="#f9f2b4" shape-rendering="crispEdges"/>
<rect x="780.46" y="745.38" width="34.02" height="2.21" fill="#f9f2b4" shape-rendering="crispEdges"/>
<rect x="814.18" y="660.46" width="34.02" height="3.32" fill="#fbbf16" shape-rendering="crispEdges"/>
<rect x="814.18" y="663.78" width="34.02" height="3.87" fill="#f5ea6e" shape-rendering="crispEdges"/>
<rect x="814.18" y="667.65" width="34.02" height="1.66" fill="#f7e21c" shape-rendering="crispEdges"/>
<rect x="814.18" y="669.31" width="34.02" height="2.21" fill="#f5861f" shape-rendering="crispEdges"/>
<rect x="814.18" y="671.52" width="34.02" height="1.66" fill="#fbbf16" shape-rendering="crispEdges"/>
<rect x="814.18" y="673.18" width="34.02" height="3.87" fill="#f5861f" shape-rendering="crispEdges"/>
<rect x="814.18" y="677.06" width="34.02" height="2.21" fill="#f9f2b4" shape-rendering="crispEdges"/>
<rect x="814.18" y="685.91" width="34.02" height="7.75" fill="#f7e21c" shape-rendering="crispEdges"/>
<rect x="814.18" y="693.66" width="34.02" height="4.43" fill="#ea1f27" shape-rendering="crispEdges"/>
<rect x="814.18" y="698.09" width="34.02" height="3.32" fill="#f5861f" shape-rendering="crispEdges"/>
<rect x="814.18" y="701.41" width="34.02" height="3.54" fill="#ea1f27" shape-rendering="crispEdges"/>
<rect x="814.18" y="700" width="34.02" height="2.21" fill="#f5861f" shape-rendering="crispEdges"/>
<rect x="814.18" y="702.21" width="34.02" height="2.77" fill="#ea1f27" shape-rendering="crispEdges"/>
<rect x="814.18" y="704.98" width="34.02" height="3.87" fill="#ea1f27" shape-rendering="crispEdges"/>
<rect x="814.18" y="708.85" width="34.02" height="4.43" fill="#f7e21c" shape-rendering="crispEdges"/>
<rect x="814.18" y="713.28" width="34.02" height="2.77" fill="#f9f2b4" shape-rendering="crispEdges"/>
<rect x="814.18" y="716.05" width="34.02" height="3.32" fill="#f5ea6e" shape-rendering="crispEdges"/>
<rect x="814.18" y="745.93" width="34.02" height="2.77" fill="#f9f2b4" shape-rendering="crispEdges"/>
<rect x="814.18" y="756.45" width="34.02" height="2.21" fill="#fcf9e0" shape-rendering="crispEdges"/>
<polyline points="475.8,702 477.65,702.35 479.51,702.66 481.36,702.95 483.22,703.19 485.07,703.39 486.93,703.56 488.78,703.68 490.64,703.75 492.49,703.78 494.35,703.76 496.2,703.69 498.05,703.58 499.91,703.43 501.76,703.23 503.62,702.99 505.47,702.72 507.33,702.41 509.18,702.07 511.04,701.69 512.89,701.29 514.74,700.87 516.6,700.42 518.45,699.96 520.31,699.47 522.16,698.97 524.02,698.46 525.87,697.93 527.73,697.4 529.58,696.85 531.44,696.3 533.29,695.74 535.14,695.18 537,694.61 538.85,694.04 540.71,693.47 542.56,692.89 544.42,692.32 546.27,691.74 548.13,691.17 549.98,690.6 551.83,690.03 553.69,689.46 555.54,688.89 557.4,688.33 559.25,687.77 561.11,687.22 562.96,686.67 564.82,686.12 566.67,685.58 568.52,685.05 570.38,684.52 572.23,684 574.09,683.49 575.94,682.98 577.8,682.48 579.65,681.99 581.51,681.51 583.36,681.03 585.22,680.56 587.07,680.1 588.92,679.65 590.78,679.21 592.63,678.78 594.49,678.35 596.34,677.94 598.2,677.54 600.05,677.14 601.91,676.76 603.76,676.38 605.62,676.02 607.47,675.67 609.32,675.33 611.18,674.99 613.03,674.67 614.89,674.36 616.74,674.07 618.6,673.78 620.45,673.5 622.31,673.24 624.16,672.99 626.01,672.75 627.87,672.52 629.72,672.3 631.58,672.09 633.43,671.9 635.29,671.72 637.14,671.55 639,671.4 640.85,671.25 642.71,671.12 644.56,671 646.41,670.89 648.27,670.8 650.12,670.72 651.98,670.65 653.83,670.59 655.69,670.55 657.54,670.51 659.4,670.5 661.25,670.49 663.1,670.5 664.96,670.51 666.81,670.55 668.67,670.59 670.52,670.65 672.38,670.72 674.23,670.8 676.09,670.89 677.94,671 679.8,671.12 681.65,671.25 683.5,671.4 685.36,671.55 687.21,671.72 689.07,671.9 690.92,672.09 692.78,672.3 694.63,672.52 696.49,672.75 698.34,672.99 700.19,673.24 702.05,673.5 703.9,673.78 705.76,674.07 707.61,674.36 709.47,674.67 711.32,674.99 713.18,675.33 715.03,675.67 716.88,676.02 718.74,676.38 720.59,676.76 722.45,677.14 724.3,677.54 726.16,677.94 728.01,678.35 729.87,678.78 731.72,679.21 733.58,679.65 735.43,680.1 737.28,680.56 739.14,681.03 740.99,681.51 742.85,681.99 744.7,682.48 746.56,682.98 748.41,683.49 750.27,684 752.12,684.52 753.97,685.05 755.83,685.58 757.68,686.12 759.54,686.67 761.39,687.22 763.25,687.77 765.1,688.33 766.96,688.89 768.81,689.46 770.67,690.03 772.52,690.6 774.37,691.17 776.23,691.74 778.08,692.32 779.94,692.89 781.79,693.47 783.65,694.04 785.5,694.61 787.36,695.18 789.21,695.74 791.07,696.3 792.92,696.85 794.77,697.4 796.63,697.93 798.48,698.46 800.34,698.97 802.19,699.47 804.05,699.96 805.9,700.42 807.76,700.87 809.61,701.29 811.46,701.69 813.32,702.07 815.17,702.41 817.03,702.72 818.88,702.99 820.74,703.23 822.59,703.43 824.45,703.58 826.3,703.69 828.15,703.76 830.01,703.78 831.86,703.75 833.72,703.68 835.57,703.56 837.43,703.39 839.28,703.19 841.14,702.95 842.99,702.66 844.85,702.35 846.7,702" fill="none" stroke="#1d1a1b" stroke-width="2.5"/>
<polyline points="475.8,730.45 477.65,730.1 479.51,729.78 481.36,729.5 483.22,729.26 485.07,729.05 486.93,728.89 488.78,728.77 490.64,728.7 492.49,728.67 494.35,728.69 496.2,728.76 498.05,728.87 499.91,729.02 501.76,729.22 503.62,729.46 505.47,729.73 507.33,730.04 509.18,730.38 511.04,730.76 512.89,731.16 514.74,731.58 516.6,732.03 518.45,732.49 520.31,732.98 522.16,733.48 524.02,733.99 525.87,734.52 527.73,735.05 529.58,735.6 531.44,736.15 533.29,736.71 535.14,737.27 537,737.84 538.85,738.41 540.71,738.98 542.56,739.55 544.42,740.13 546.27,740.7 548.13,741.28 549.98,741.85 551.83,742.42 553.69,742.99 555.54,743.56 557.4,744.12 559.25,744.68 561.11,745.23 562.96,745.78 564.82,746.33 566.67,746.87 568.52,747.4 570.38,747.93 572.23,748.45 574.09,748.96 575.94,749.47 577.8,749.97 579.65,750.46 581.51,750.94 583.36,751.42 585.22,751.89 587.07,752.35 588.92,752.8 590.78,753.24 592.63,753.67 594.49,754.09 596.34,754.51 598.2,754.91 600.05,755.31 601.91,755.69 603.76,756.06 605.62,756.43 607.47,756.78 609.32,757.12 611.18,757.45 613.03,757.77 614.89,758.08 616.74,758.38 618.6,758.67 620.45,758.94 622.31,759.21 624.16,759.46 626.01,759.7 627.87,759.93 629.72,760.15 631.58,760.35 633.43,760.55 635.29,760.73 637.14,760.9 639,761.05 640.85,761.2 642.71,761.33 644.56,761.45 646.41,761.56 648.27,761.65 650.12,761.73 651.98,761.8 653.83,761.86 655.69,761.9 657.54,761.93 659.4,761.95 661.25,761.96 663.1,761.95 664.96,761.93 666.81,761.9 668.67,761.86 670.52,761.8 672.38,761.73 674.23,761.65 676.09,761.56 677.94,761.45 679.8,761.33 681.65,761.2 683.5,761.05 685.36,760.9 687.21,760.73 689.07,760.55 690.92,760.35 692.78,760.15 694.63,759.93 696.49,759.7 698.34,759.46 700.19,759.21 702.05,758.94 703.9,758.67 705.76,758.38 707.61,758.08 709.47,757.77 711.32,757.45 713.18,757.12 715.03,756.78 716.88,756.43 718.74,756.06 720.59,755.69 722.45,755.31 724.3,754.91 726.16,754.51 728.01,754.09 729.87,753.67 731.72,753.24 733.58,752.8 735.43,752.35 737.28,751.89 739.14,751.42 740.99,750.94 742.85,750.46 744.7,749.97 746.56,749.47 748.41,748.96 750.27,748.45 752.12,747.93 753.97,747.4 755.83,746.87 757.68,746.33 759.54,745.78 761.39,745.23 763.25,744.68 765.1,744.12 766.96,743.56 768.81,742.99 770.67,742.42 772.52,741.85 774.37,741.28 776.23,740.7 778.08,740.13 779.94,739.55 781.79,738.98 783.65,738.41 785.5,737.84 787.36,737.27 789.21,736.71 791.07,736.15 792.92,735.6 794.77,735.05 796.63,734.52 798.48,733.99 800.34,733.48 802.19,732.98 804.05,732.49 805.9,732.03 807.76,731.58 809.61,731.16 811.46,730.76 813.32,730.38 815.17,730.04 817.03,729.73 818.88,729.46 820.74,729.22 822.59,729.02 824.45,728.87 826.3,728.76 828.15,728.69 830.01,728.67 831.86,728.7 833.72,728.77 835.57,728.89 837.43,729.05 839.28,729.26 841.14,729.5 842.99,729.78 844.85,730.1 846.7,730.45" fill="none" stroke="#1d1a1b" stroke-width="2.5"/>
<line x1="475.8" y1="797.91" x2="846.7" y2="797.91" stroke="#1d1a1b" stroke-width="2.5"/>
<circle cx="593.81" cy="797.91" r="4.5" fill="#1d1a1b"/>
<circle cx="627.53" cy="797.91" r="4.5" fill="#1d1a1b"/>
<circle cx="661.25" cy="797.91" r="4.5" fill="#1d1a1b"/>
<circle cx="694.97" cy="797.91" r="4.5" fill="#1d1a1b"/>
<circle cx="728.69" cy="797.91" r="4.5" fill="#1d1a1b"/>
</g>
<rect x="475.8" y="572.3" width="370.9" height="248.95" fill="none" stroke="#1d1a1b" stroke-width="2.1"/>
<line x1="492.66" y1="821.25" x2="492.66" y2="829.25" stroke="#1d1a1b" stroke-width="2.0"/>
<line x1="576.95" y1="821.25" x2="576.95" y2="829.25" stroke="#1d1a1b" stroke-width="2.0"/>
<line x1="661.25" y1="821.25" x2="661.25" y2="829.25" stroke="#1d1a1b" stroke-width="2.0"/>
<line x1="745.55" y1="821.25" x2="745.55" y2="829.25" stroke="#1d1a1b" stroke-width="2.0"/>
<line x1="829.84" y1="821.25" x2="829.84" y2="829.25" stroke="#1d1a1b" stroke-width="2.0"/>
<text x="492.96" y="862.3" text-anchor="middle" class="tk">−<tspan class="pi" dy="-1.5">π</tspan></text>
<text x="661.35" y="862.3" text-anchor="middle" class="tk">0</text>
<text x="830.14" y="862.3" text-anchor="middle" class="tk"><tspan class="pi" dy="-1.5">π</tspan></text>
<text y="904" class="tl"><tspan x="635.5" font-style="italic">k</tspan><tspan x="654.7">·</tspan><tspan x="673.6" font-style="italic">a</tspan></text>
<g clip-path="url(#clip20)">
<rect x="854.2" y="93.28" width="34.02" height="2.77" fill="#f7e21c" shape-rendering="crispEdges"/>
<rect x="854.2" y="102.14" width="34.02" height="2.77" fill="#fbbf16" shape-rendering="crispEdges"/>
<rect x="854.2" y="104.9" width="34.02" height="2.21" fill="#f9f2b4" shape-rendering="crispEdges"/>
<rect x="854.2" y="107.12" width="34.02" height="3.32" fill="#fbbf16" shape-rendering="crispEdges"/>
<rect x="854.2" y="110.44" width="34.02" height="1.66" fill="#f9f2b4" shape-rendering="crispEdges"/>
<rect x="854.2" y="137" width="34.02" height="2.21" fill="#fbbf16" shape-rendering="crispEdges"/>
<rect x="854.2" y="139.21" width="34.02" height="2.77" fill="#f5861f" shape-rendering="crispEdges"/>
<rect x="854.2" y="141.98" width="34.02" height="2.21" fill="#ee5424" shape-rendering="crispEdges"/>
<rect x="854.2" y="144.19" width="34.02" height="2.21" fill="#f7e21c" shape-rendering="crispEdges"/>
<rect x="854.2" y="146.41" width="34.02" height="2.21" fill="#f5ea6e" shape-rendering="crispEdges"/>
<rect x="854.2" y="145" width="34.02" height="3.32" fill="#f7e21c" shape-rendering="crispEdges"/>
<rect x="854.2" y="148.32" width="34.02" height="3.32" fill="#ee5424" shape-rendering="crispEdges"/>
<rect x="854.2" y="151.64" width="34.02" height="2.77" fill="#f7e21c" shape-rendering="crispEdges"/>
<rect x="854.2" y="154.41" width="34.02" height="1.11" fill="#f9f2b4" shape-rendering="crispEdges"/>
<rect x="854.2" y="161.05" width="34.02" height="2.77" fill="#f7e21c" shape-rendering="crispEdges"/>
<rect x="854.2" y="163.82" width="34.02" height="2.21" fill="#f5861f" shape-rendering="crispEdges"/>
<rect x="854.2" y="166.03" width="34.02" height="1.66" fill="#f7e21c" shape-rendering="crispEdges"/>
<rect x="854.2" y="167.69" width="34.02" height="2.21" fill="#f5861f" shape-rendering="crispEdges"/>
<rect x="854.2" y="169.9" width="34.02" height="1.66" fill="#f9f2b4" shape-rendering="crispEdges"/>
<rect x="854.2" y="173.78" width="34.02" height="2.21" fill="#f9f2b4" shape-rendering="crispEdges"/>
<rect x="854.2" y="178.2" width="34.02" height="3.32" fill="#f9f2b4" shape-rendering="crispEdges"/>
<rect x="854.2" y="182.63" width="34.02" height="3.87" fill="#f7e21c" shape-rendering="crispEdges"/>
<rect x="854.2" y="186.51" width="34.02" height="3.87" fill="#f5861f" shape-rendering="crispEdges"/>
<rect x="854.2" y="190.38" width="34.02" height="4.43" fill="#ee5424" shape-rendering="crispEdges"/>
<rect x="854.2" y="194.81" width="34.02" height="3.32" fill="#f7e21c" shape-rendering="crispEdges"/>
<rect x="854.2" y="198.13" width="34.02" height="3.87" fill="#f9f2b4" shape-rendering="crispEdges"/>
<rect x="854.2" y="202" width="34.02" height="2.77" fill="#f7e21c" shape-rendering="crispEdges"/>
<rect x="854.2" y="204.77" width="34.02" height="2.77" fill="#ee5424" shape-rendering="crispEdges"/>
<rect x="854.2" y="207.53" width="34.02" height="2.77" fill="#f7e21c" shape-rendering="crispEdges"/>
<rect x="854.2" y="210.3" width="34.02" height="2.77" fill="#ee5424" shape-rendering="crispEdges"/>
<rect x="854.2" y="213.07" width="34.02" height="1.88" fill="#f7e21c" shape-rendering="crispEdges"/>
<rect x="854.2" y="210" width="34.02" height="2.77" fill="#ee5424" shape-rendering="crispEdges"/>
<rect x="854.2" y="212.77" width="34.02" height="2.77" fill="#f7e21c" shape-rendering="crispEdges"/>
<rect x="854.2" y="249.29" width="34.02" height="2.21" fill="#fbbf16" shape-rendering="crispEdges"/>
<rect x="854.2" y="251.51" width="34.02" height="2.77" fill="#f5861f" shape-rendering="crispEdges"/>
<rect x="854.2" y="254.27" width="34.02" height="2.77" fill="#ee5424" shape-rendering="crispEdges"/>
<rect x="854.2" y="257.04" width="34.02" height="1.66" fill="#f7e21c" shape-rendering="crispEdges"/>
<rect x="854.2" y="258.7" width="34.02" height="2.77" fill="#f9f2b4" shape-rendering="crispEdges"/>
<rect x="854.2" y="262.02" width="34.02" height="2.77" fill="#fbbf16" shape-rendering="crispEdges"/>
<rect x="887.92" y="93.84" width="34.02" height="2.21" fill="#f5ea6e" shape-rendering="crispEdges"/>
<rect x="887.92" y="102.14" width="34.02" height="2.77" fill="#f5ea6e" shape-rendering="crispEdges"/>
<rect x="887.92" y="107.67" width="34.02" height="2.21" fill="#f5ea6e" shape-rendering="crispEdges"/>
<rect x="887.92" y="130.36" width="34.02" height="1.66" fill="#f9f2b4" shape-rendering="crispEdges"/>
<rect x="887.92" y="138.11" width="34.02" height="2.77" fill="#f9f2b4" shape-rendering="crispEdges"/>
<rect x="887.92" y="140.87" width="34.02" height="4.98" fill="#f7e21c" shape-rendering="crispEdges"/>
<rect x="887.92" y="145.86" width="34.02" height="2.21" fill="#f5ea6e" shape-rendering="crispEdges"/>
<rect x="887.92" y="145" width="34.02" height="3.32" fill="#f5ea6e" shape-rendering="crispEdges"/>
<rect x="887.92" y="148.32" width="34.02" height="2.77" fill="#f5861f" shape-rendering="crispEdges"/>
<rect x="887.92" y="151.09" width="34.02" height="2.77" fill="#f9f2b4" shape-rendering="crispEdges"/>
<rect x="887.92" y="153.85" width="34.02" height="2.21" fill="#f5ea6e" shape-rendering="crispEdges"/>
<rect x="887.92" y="161.05" width="34.02" height="2.77" fill="#f5ea6e" shape-rendering="crispEdges"/>
<rect x="887.92" y="163.82" width="34.02" height="2.21" fill="#fbbf16" shape-rendering="crispEdges"/>
<rect x="887.92" y="166.03" width="34.02" height="2.77" fill="#f5ea6e" shape-rendering="crispEdges"/>
<rect x="887.92" y="171.01" width="34.02" height="2.77" fill="#f9f2b4" shape-rendering="crispEdges"/>
<rect x="887.92" y="182.63" width="34.02" height="2.21" fill="#f7e21c" shape-rendering="crispEdges"/>
<rect x="887.92" y="184.85" width="34.02" height="4.43" fill="#fbbf16" shape-rendering="crispEdges"/>
<rect x="887.92" y="189.27" width="34.02" height="2.21" fill="#f7e21c" shape-rendering="crispEdges"/>
<rect x="887.92" y="191.49" width="34.02" height="2.77" fill="#f5861f" shape-rendering="crispEdges"/>
<rect x="887.92" y="194.25" width="34.02" height="2.77" fill="#f7e21c" shape-rendering="crispEdges"/>
<rect x="887.92" y="203.66" width="34.02" height="2.77" fill="#f7e21c" shape-rendering="crispEdges"/>
<rect x="887.92" y="206.43" width="34.02" height="2.77" fill="#f5861f" shape-rendering="crispEdges"/>
<rect x="887.92" y="209.19" width="34.02" height="2.21" fill="#f7e21c" shape-rendering="crispEdges"/>
<rect x="887.92" y="211.41" width="34.02" height="3.54" fill="#fbbf16" shape-rendering="crispEdges"/>
<rect x="887.92" y="210" width="34.02" height="2.21" fill="#fbbf16" shape-rendering="crispEdges"/>
<rect x="887.92" y="212.21" width="34.02" height="2.77" fill="#f7e21c" shape-rendering="crispEdges"/>
<rect x="887.92" y="214.98" width="34.02" height="2.77" fill="#f9f2b4" shape-rendering="crispEdges"/>
<rect x="887.92" y="250.95" width="34.02" height="2.77" fill="#f7e21c" shape-rendering="crispEdges"/>
<rect x="887.92" y="253.72" width="34.02" height="3.32" fill="#fbbf16" shape-rendering="crispEdges"/>
<rect x="887.92" y="257.04" width="34.02" height="2.21" fill="#f9f2b4" shape-rendering="crispEdges"/>
<rect x="887.92" y="261.47" width="34.02" height="2.77" fill="#f7e21c" shape-rendering="crispEdges"/>
<rect x="921.64" y="88.85" width="34.02" height="1.66" fill="#f9f2b4" shape-rendering="crispEdges"/>
<rect x="921.64" y="93.28" width="34.02" height="3.32" fill="#f7e21c" shape-rendering="crispEdges"/>
<rect x="921.64" y="101.58" width="34.02" height="2.77" fill="#f5ea6e" shape-rendering="crispEdges"/>
<rect x="921.64" y="107.67" width="34.02" height="2.21" fill="#f5ea6e" shape-rendering="crispEdges"/>
<rect x="921.64" y="119.85" width="34.02" height="1.66" fill="#f9f2b4" shape-rendering="crispEdges"/>
<rect x="921.64" y="126.49" width="34.02" height="4.98" fill="#f5ea6e" shape-rendering="crispEdges"/>
<rect x="921.64" y="142.53" width="34.02" height="1.66" fill="#f9f2b4" shape-rendering="crispEdges"/>
<rect x="921.64" y="147.77" width="34.02" height="3.32" fill="#fbbf16" shape-rendering="crispEdges"/>
<rect x="921.64" y="151.09" width="34.02" height="2.77" fill="#f5ea6e" shape-rendering="crispEdges"/>
<rect x="921.64" y="155.51" width="34.02" height="1.66" fill="#f5ea6e" shape-rendering="crispEdges"/>
<rect x="921.64" y="160.5" width="34.02" height="2.21" fill="#f7e21c" shape-rendering="crispEdges"/>
<rect x="921.64" y="162.71" width="34.02" height="2.21" fill="#fbbf16" shape-rendering="crispEdges"/>
<rect x="921.64" y="164.92" width="34.02" height="2.21" fill="#f7e21c" shape-rendering="crispEdges"/>
<rect x="921.64" y="169.35" width="34.02" height="2.21" fill="#f5ea6e" shape-rendering="crispEdges"/>
<rect x="921.64" y="173.78" width="34.02" height="2.21" fill="#f5ea6e" shape-rendering="crispEdges"/>
<rect x="921.64" y="178.2" width="34.02" height="2.21" fill="#f5ea6e" shape-rendering="crispEdges"/>
<rect x="921.64" y="184.85" width="34.02" height="2.21" fill="#f5ea6e" shape-rendering="crispEdges"/>
<rect x="921.64" y="189.27" width="34.02" height="2.77" fill="#f7e21c" shape-rendering="crispEdges"/>
<rect x="921.64" y="192.04" width="34.02" height="2.21" fill="#f5861f" shape-rendering="crispEdges"/>
<rect x="921.64" y="194.25" width="34.02" height="3.87" fill="#f7e21c" shape-rendering="crispEdges"/>
<rect x="921.64" y="205.32" width="34.02" height="2.21" fill="#f7e21c" shape-rendering="crispEdges"/>
<rect x="921.64" y="207.53" width="34.02" height="2.77" fill="#f5ea6e" shape-rendering="crispEdges"/>
<rect x="921.64" y="212.52" width="34.02" height="2.43" fill="#f5861f" shape-rendering="crispEdges"/>
<rect x="921.64" y="210" width="34.02" height="2.21" fill="#f9f2b4" shape-rendering="crispEdges"/>
<rect x="921.64" y="213.32" width="34.02" height="4.98" fill="#f7e21c" shape-rendering="crispEdges"/>
<rect x="921.64" y="224.39" width="34.02" height="2.77" fill="#f5ea6e" shape-rendering="crispEdges"/>
<rect x="921.64" y="250.95" width="34.02" height="2.77" fill="#f5ea6e" shape-rendering="crispEdges"/>
<rect x="921.64" y="253.72" width="34.02" height="3.32" fill="#fbbf16" shape-rendering="crispEdges"/>
<rect x="921.64" y="261.47" width="34.02" height="2.77" fill="#f5861f" shape-rendering="crispEdges"/>
<rect x="921.64" y="264.23" width="34.02" height="4.98" fill="#f5ea6e" shape-rendering="crispEdges"/>
<rect x="955.35" y="86.64" width="34.02" height="2.77" fill="#f5ea6e" shape-rendering="crispEdges"/>
<rect x="955.35" y="89.41" width="34.02" height="1.66" fill="#f7e21c" shape-rendering="crispEdges"/>
<rect x="955.35" y="91.07" width="34.02" height="2.77" fill="#f9f2b4" shape-rendering="crispEdges"/>
<rect x="955.35" y="93.84" width="34.02" height="2.77" fill="#f5861f" shape-rendering="crispEdges"/>
<rect x="955.35" y="102.69" width="34.02" height="1.66" fill="#f5ea6e" shape-rendering="crispEdges"/>
<rect x="955.35" y="119.29" width="34.02" height="2.21" fill="#f7e21c" shape-rendering="crispEdges"/>
<rect x="955.35" y="125.93" width="34.02" height="2.77" fill="#f5ea6e" shape-rendering="crispEdges"/>
<rect x="955.35" y="149.43" width="34.02" height="1.66" fill="#f9f2b4" shape-rendering="crispEdges"/>
<rect x="955.35" y="156.07" width="34.02" height="3.32" fill="#f9f2b4" shape-rendering="crispEdges"/>
<rect x="955.35" y="160.5" width="34.02" height="2.21" fill="#f7e21c" shape-rendering="crispEdges"/>
<rect x="955.35" y="162.71" width="34.02" height="2.77" fill="#f5861f" shape-rendering="crispEdges"/>
<rect x="955.35" y="165.48" width="34.02" height="1.66" fill="#f7e21c" shape-rendering="crispEdges"/>
<rect x="955.35" y="168.24" width="34.02" height="2.77" fill="#f5ea6e" shape-rendering="crispEdges"/>
<rect x="955.35" y="174.33" width="34.02" height="2.21" fill="#fbbf16" shape-rendering="crispEdges"/>
<rect x="955.35" y="177.65" width="34.02" height="2.77" fill="#f7e21c" shape-rendering="crispEdges"/>
<rect x="955.35" y="184.29" width="34.02" height="2.21" fill="#f5ea6e" shape-rendering="crispEdges"/>
<rect x="955.35" y="189.27" width="34.02" height="2.77" fill="#f9f2b4" shape-rendering="crispEdges"/>
<rect x="955.35" y="192.04" width="34.02" height="2.21" fill="#fbbf16" shape-rendering="crispEdges"/>
<rect x="955.35" y="194.25" width="34.02" height="3.32" fill="#f7e21c" shape-rendering="crispEdges"/>
<rect x="955.35" y="210.3" width="34.02" height="2.77" fill="#f5ea6e" shape-rendering="crispEdges"/>
<rect x="955.35" y="210" width="34.02" height="3.32" fill="#f5ea6e" shape-rendering="crispEdges"/>
<rect x="955.35" y="216.09" width="34.02" height="2.21" fill="#f7e21c" shape-rendering="crispEdges"/>
<rect x="955.35" y="223.84" width="34.02" height="3.32" fill="#fbbf16" shape-rendering="crispEdges"/>
<rect x="955.35" y="254.27" width="34.02" height="2.77" fill="#f7e21c" shape-rendering="crispEdges"/>
<rect x="955.35" y="261.47" width="34.02" height="2.77" fill="#f5861f" shape-rendering="crispEdges"/>
<rect x="955.35" y="264.23" width="34.02" height="3.32" fill="#f7e21c" shape-rendering="crispEdges"/>
<rect x="955.35" y="267.55" width="34.02" height="3.32" fill="#f5ea6e" shape-rendering="crispEdges"/>
<rect x="989.07" y="86.09" width="34.02" height="3.87" fill="#f7e21c" shape-rendering="crispEdges"/>
<rect x="989.07" y="89.96" width="34.02" height="3.87" fill="#f9f2b4" shape-rendering="crispEdges"/>
<rect x="989.07" y="93.84" width="34.02" height="2.77" fill="#fbbf16" shape-rendering="crispEdges"/>
<rect x="989.07" y="102.69" width="34.02" height="1.11" fill="#f9f2b4" shape-rendering="crispEdges"/>
<rect x="989.07" y="118.18" width="34.02" height="2.77" fill="#fbbf16" shape-rendering="crispEdges"/>
<rect x="989.07" y="126.49" width="34.02" height="1.11" fill="#fcf9e0" shape-rendering="crispEdges"/>
<rect x="989.07" y="163.82" width="34.02" height="3.32" fill="#f7e21c" shape-rendering="crispEdges"/>
<rect x="989.07" y="167.14" width="34.02" height="1.66" fill="#f5861f" shape-rendering="crispEdges"/>
<rect x="989.07" y="168.8" width="34.02" height="2.21" fill="#f7e21c" shape-rendering="crispEdges"/>
<rect x="989.07" y="171.01" width="34.02" height="4.43" fill="#f5861f" shape-rendering="crispEdges"/>
<rect x="989.07" y="175.44" width="34.02" height="2.77" fill="#f7e21c" shape-rendering="crispEdges"/>
<rect x="989.07" y="178.2" width="34.02" height="2.21" fill="#f5ea6e" shape-rendering="crispEdges"/>
<rect x="989.07" y="188.72" width="34.02" height="1.66" fill="#f5ea6e" shape-rendering="crispEdges"/>
<rect x="989.07" y="192.04" width="34.02" height="2.21" fill="#f5ea6e" shape-rendering="crispEdges"/>
<rect x="989.07" y="205.87" width="34.02" height="1.66" fill="#f9f2b4" shape-rendering="crispEdges"/>
<rect x="989.07" y="210.86" width="34.02" height="2.21" fill="#f5ea6e" shape-rendering="crispEdges"/>
<rect x="989.07" y="210" width="34.02" height="2.21" fill="#f5ea6e" shape-rendering="crispEdges"/>
<rect x="989.07" y="214.43" width="34.02" height="3.87" fill="#f9f2b4" shape-rendering="crispEdges"/>
<rect x="989.07" y="225.5" width="34.02" height="2.77" fill="#f5861f" shape-rendering="crispEdges"/>
<rect x="989.07" y="255.38" width="34.02" height="1.66" fill="#f5ea6e" shape-rendering="crispEdges"/>
<rect x="989.07" y="261.47" width="34.02" height="2.77" fill="#f5861f" shape-rendering="crispEdges"/>
<rect x="989.07" y="264.23" width="34.02" height="3.32" fill="#f7e21c" shape-rendering="crispEdges"/>
<rect x="989.07" y="267.55" width="34.02" height="3.32" fill="#f5861f" shape-rendering="crispEdges"/>
<rect x="1022.79" y="84.43" width="34.02" height="1.66" fill="#f7e21c" shape-rendering="crispEdges"/>
<rect x="1022.79" y="86.09" width="34.02" height="3.87" fill="#f5861f" shape-rendering="crispEdges"/>
<rect x="1022.79" y="89.96" width="34.02" height="2.21" fill="#f7e21c" shape-rendering="crispEdges"/>
<rect x="1022.79" y="92.17" width="34.02" height="1.66" fill="#f9f2b4" shape-rendering="crispEdges"/>
<rect x="1022.79" y="93.84" width="34.02" height="2.21" fill="#f5861f" shape-rendering="crispEdges"/>
<rect x="1022.79" y="96.05" width="34.02" height="1.66" fill="#f9f2b4" shape-rendering="crispEdges"/>
<rect x="1022.79" y="117.63" width="34.02" height="3.87" fill="#f5861f" shape-rendering="crispEdges"/>
<rect x="1022.79" y="121.51" width="34.02" height="1.11" fill="#f9f2b4" shape-rendering="crispEdges"/>
<rect x="1022.79" y="129.25" width="34.02" height="1.66" fill="#f9f2b4" shape-rendering="crispEdges"/>
<rect x="1022.79" y="166.58" width="34.02" height="1.66" fill="#f9f2b4" shape-rendering="crispEdges"/>
<rect x="1022.79" y="168.24" width="34.02" height="3.32" fill="#f7e21c" shape-rendering="crispEdges"/>
<rect x="1022.79" y="171.56" width="34.02" height="2.21" fill="#f5861f" shape-rendering="crispEdges"/>
<rect x="1022.79" y="173.78" width="34.02" height="1.11" fill="#b01c22" shape-rendering="crispEdges"/>
<rect x="1022.79" y="174.88" width="34.02" height="2.21" fill="#f5861f" shape-rendering="crispEdges"/>
<rect x="1022.79" y="177.1" width="34.02" height="3.32" fill="#f7e21c" shape-rendering="crispEdges"/>
<rect x="1022.79" y="184.85" width="34.02" height="2.21" fill="#f9f2b4" shape-rendering="crispEdges"/>
<rect x="1022.79" y="204.77" width="34.02" height="3.32" fill="#f7e21c" shape-rendering="crispEdges"/>
<rect x="1022.79" y="208.09" width="34.02" height="2.21" fill="#f5ea6e" shape-rendering="crispEdges"/>
<rect x="1022.79" y="210.3" width="34.02" height="2.21" fill="#f7e21c" shape-rendering="crispEdges"/>
<rect x="1022.79" y="212.52" width="34.02" height="2.43" fill="#f5ea6e" shape-rendering="crispEdges"/>
<rect x="1022.79" y="210" width="34.02" height="2.21" fill="#f9f2b4" shape-rendering="crispEdges"/>
<rect x="1022.79" y="212.21" width="34.02" height="3.87" fill="#f7e21c" shape-rendering="crispEdges"/>
<rect x="1022.79" y="222.73" width="34.02" height="2.77" fill="#fbbf16" shape-rendering="crispEdges"/>
<rect x="1022.79" y="225.5" width="34.02" height="2.77" fill="#ee5424" shape-rendering="crispEdges"/>
<rect x="1022.79" y="228.26" width="34.02" height="2.21" fill="#f7e21c" shape-rendering="crispEdges"/>
<rect x="1022.79" y="261.47" width="34.02" height="3.87" fill="#ee5424" shape-rendering="crispEdges"/>
<rect x="1022.79" y="265.34" width="34.02" height="2.21" fill="#f7e21c" shape-rendering="crispEdges"/>
<rect x="1022.79" y="267.55" width="34.02" height="3.87" fill="#ee5424" shape-rendering="crispEdges"/>
<rect x="1022.79" y="271.43" width="34.02" height="2.21" fill="#f9f2b4" shape-rendering="crispEdges"/>
<rect x="1056.51" y="86.09" width="34.02" height="3.87" fill="#f7e21c" shape-rendering="crispEdges"/>
<rect x="1056.51" y="89.96" width="34.02" height="3.87" fill="#f9f2b4" shape-rendering="crispEdges"/>
<rect x="1056.51" y="93.84" width="34.02" height="2.77" fill="#fbbf16" shape-rendering="crispEdges"/>
<rect x="1056.51" y="102.69" width="34.02" height="1.11" fill="#f9f2b4" shape-rendering="crispEdges"/>
<rect x="1056.51" y="118.18" width="34.02" height="2.77" fill="#fbbf16" shape-rendering="crispEdges"/>
<rect x="1056.51" y="126.49" width="34.02" height="1.11" fill="#fcf9e0" shape-rendering="crispEdges"/>
<rect x="1056.51" y="163.82" width="34.02" height="3.32" fill="#f7e21c" shape-rendering="crispEdges"/>
<rect x="1056.51" y="167.14" width="34.02" height="1.66" fill="#f5861f" shape-rendering="crispEdges"/>
<rect x="1056.51" y="168.8" width="34.02" height="2.21" fill="#f7e21c" shape-rendering="crispEdges"/>
<rect x="1056.51" y="171.01" width="34.02" height="4.43" fill="#f5861f" shape-rendering="crispEdges"/>
<rect x="1056.51" y="175.44" width="34.02" height="2.77" fill="#f7e21c" shape-rendering="crispEdges"/>
<rect x="1056.51" y="178.2" width="34.02" height="2.21" fill="#f5ea6e" shape-rendering="crispEdges"/>
<rect x="1056.51" y="188.72" width="34.02" height="1.66" fill="#f5ea6e" shape-rendering="crispEdges"/>
<rect x="1056.51" y="192.04" width="34.02" height="2.21" fill="#f5ea6e" shape-rendering="crispEdges"/>
<rect x="1056.51" y="205.87" width="34.02" height="1.66" fill="#f9f2b4" shape-rendering="crispEdges"/>
<rect x="1056.51" y="210.86" width="34.02" height="2.21" fill="#f5ea6e" shape-rendering="crispEdges"/>
<rect x="1056.51" y="210" width="34.02" height="2.21" fill="#f5ea6e" shape-rendering="crispEdges"/>
<rect x="1056.51" y="214.43" width="34.02" height="3.87" fill="#f9f2b4" shape-rendering="crispEdges"/>
<rect x="1056.51" y="225.5" width="34.02" height="2.77" fill="#f5861f" shape-rendering="crispEdges"/>
<rect x="1056.51" y="255.38" width="34.02" height="1.66" fill="#f5ea6e" shape-rendering="crispEdges"/>
<rect x="1056.51" y="261.47" width="34.02" height="2.77" fill="#f5861f" shape-rendering="crispEdges"/>
<rect x="1056.51" y="264.23" width="34.02" height="3.32" fill="#f7e21c" shape-rendering="crispEdges"/>
<rect x="1056.51" y="267.55" width="34.02" height="3.32" fill="#f5861f" shape-rendering="crispEdges"/>
<rect x="1090.23" y="86.64" width="34.02" height="2.77" fill="#f5ea6e" shape-rendering="crispEdges"/>
<rect x="1090.23" y="89.41" width="34.02" height="1.66" fill="#f7e21c" shape-rendering="crispEdges"/>
<rect x="1090.23" y="91.07" width="34.02" height="2.77" fill="#f9f2b4" shape-rendering="crispEdges"/>
<rect x="1090.23" y="93.84" width="34.02" height="2.77" fill="#f5861f" shape-rendering="crispEdges"/>
<rect x="1090.23" y="102.69" width="34.02" height="1.66" fill="#f5ea6e" shape-rendering="crispEdges"/>
<rect x="1090.23" y="119.29" width="34.02" height="2.21" fill="#f7e21c" shape-rendering="crispEdges"/>
<rect x="1090.23" y="125.93" width="34.02" height="2.77" fill="#f5ea6e" shape-rendering="crispEdges"/>
<rect x="1090.23" y="149.43" width="34.02" height="1.66" fill="#f9f2b4" shape-rendering="crispEdges"/>
<rect x="1090.23" y="156.07" width="34.02" height="3.32" fill="#f9f2b4" shape-rendering="crispEdges"/>
<rect x="1090.23" y="160.5" width="34.02" height="2.21" fill="#f7e21c" shape-rendering="crispEdges"/>
<rect x="1090.23" y="162.71" width="34.02" height="2.77" fill="#f5861f" shape-rendering="crispEdges"/>
<rect x="1090.23" y="165.48" width="34.02" height="1.66" fill="#f7e21c" shape-rendering="crispEdges"/>
<rect x="1090.23" y="168.24" width="34.02" height="2.77" fill="#f5ea6e" shape-rendering="crispEdges"/>
<rect x="1090.23" y="174.33" width="34.02" height="2.21" fill="#fbbf16" shape-rendering="crispEdges"/>
<rect x="1090.23" y="177.65" width="34.02" height="2.77" fill="#f7e21c" shape-rendering="crispEdges"/>
<rect x="1090.23" y="184.29" width="34.02" height="2.21" fill="#f5ea6e" shape-rendering="crispEdges"/>
<rect x="1090.23" y="189.27" width="34.02" height="2.77" fill="#f9f2b4" shape-rendering="crispEdges"/>
<rect x="1090.23" y="192.04" width="34.02" height="2.21" fill="#fbbf16" shape-rendering="crispEdges"/>
<rect x="1090.23" y="194.25" width="34.02" height="3.32" fill="#f7e21c" shape-rendering="crispEdges"/>
<rect x="1090.23" y="210.3" width="34.02" height="2.77" fill="#f5ea6e" shape-rendering="crispEdges"/>
<rect x="1090.23" y="210" width="34.02" height="3.32" fill="#f5ea6e" shape-rendering="crispEdges"/>
<rect x="1090.23" y="216.09" width="34.02" height="2.21" fill="#f7e21c" shape-rendering="crispEdges"/>
<rect x="1090.23" y="223.84" width="34.02" height="3.32" fill="#fbbf16" shape-rendering="crispEdges"/>
<rect x="1090.23" y="254.27" width="34.02" height="2.77" fill="#f7e21c" shape-rendering="crispEdges"/>
<rect x="1090.23" y="261.47" width="34.02" height="2.77" fill="#f5861f" shape-rendering="crispEdges"/>
<rect x="1090.23" y="264.23" width="34.02" height="3.32" fill="#f7e21c" shape-rendering="crispEdges"/>
<rect x="1090.23" y="267.55" width="34.02" height="3.32" fill="#f5ea6e" shape-rendering="crispEdges"/>
<rect x="1123.95" y="88.85" width="34.02" height="1.66" fill="#f9f2b4" shape-rendering="crispEdges"/>
<rect x="1123.95" y="93.28" width="34.02" height="3.32" fill="#f7e21c" shape-rendering="crispEdges"/>
<rect x="1123.95" y="101.58" width="34.02" height="2.77" fill="#f5ea6e" shape-rendering="crispEdges"/>
<rect x="1123.95" y="107.67" width="34.02" height="2.21" fill="#f5ea6e" shape-rendering="crispEdges"/>
<rect x="1123.95" y="119.85" width="34.02" height="1.66" fill="#f9f2b4" shape-rendering="crispEdges"/>
<rect x="1123.95" y="126.49" width="34.02" height="4.98" fill="#f5ea6e" shape-rendering="crispEdges"/>
<rect x="1123.95" y="142.53" width="34.02" height="1.66" fill="#f9f2b4" shape-rendering="crispEdges"/>
<rect x="1123.95" y="147.77" width="34.02" height="3.32" fill="#fbbf16" shape-rendering="crispEdges"/>
<rect x="1123.95" y="151.09" width="34.02" height="2.77" fill="#f5ea6e" shape-rendering="crispEdges"/>
<rect x="1123.95" y="155.51" width="34.02" height="1.66" fill="#f5ea6e" shape-rendering="crispEdges"/>
<rect x="1123.95" y="160.5" width="34.02" height="2.21" fill="#f7e21c" shape-rendering="crispEdges"/>
<rect x="1123.95" y="162.71" width="34.02" height="2.21" fill="#fbbf16" shape-rendering="crispEdges"/>
<rect x="1123.95" y="164.92" width="34.02" height="2.21" fill="#f7e21c" shape-rendering="crispEdges"/>
<rect x="1123.95" y="169.35" width="34.02" height="2.21" fill="#f5ea6e" shape-rendering="crispEdges"/>
<rect x="1123.95" y="173.78" width="34.02" height="2.21" fill="#f5ea6e" shape-rendering="crispEdges"/>
<rect x="1123.95" y="178.2" width="34.02" height="2.21" fill="#f5ea6e" shape-rendering="crispEdges"/>
<rect x="1123.95" y="184.85" width="34.02" height="2.21" fill="#f5ea6e" shape-rendering="crispEdges"/>
<rect x="1123.95" y="189.27" width="34.02" height="2.77" fill="#f7e21c" shape-rendering="crispEdges"/>
<rect x="1123.95" y="192.04" width="34.02" height="2.21" fill="#f5861f" shape-rendering="crispEdges"/>
<rect x="1123.95" y="194.25" width="34.02" height="3.87" fill="#f7e21c" shape-rendering="crispEdges"/>
<rect x="1123.95" y="205.32" width="34.02" height="2.21" fill="#f7e21c" shape-rendering="crispEdges"/>
<rect x="1123.95" y="207.53" width="34.02" height="2.77" fill="#f5ea6e" shape-rendering="crispEdges"/>
<rect x="1123.95" y="212.52" width="34.02" height="2.43" fill="#f5861f" shape-rendering="crispEdges"/>
<rect x="1123.95" y="210" width="34.02" height="2.21" fill="#f9f2b4" shape-rendering="crispEdges"/>
<rect x="1123.95" y="213.32" width="34.02" height="4.98" fill="#f7e21c" shape-rendering="crispEdges"/>
<rect x="1123.95" y="224.39" width="34.02" height="2.77" fill="#f5ea6e" shape-rendering="crispEdges"/>
<rect x="1123.95" y="250.95" width="34.02" height="2.77" fill="#f5ea6e" shape-rendering="crispEdges"/>
<rect x="1123.95" y="253.72" width="34.02" height="3.32" fill="#fbbf16" shape-rendering="crispEdges"/>
<rect x="1123.95" y="261.47" width="34.02" height="2.77" fill="#f5861f" shape-rendering="crispEdges"/>
<rect x="1123.95" y="264.23" width="34.02" height="4.98" fill="#f5ea6e" shape-rendering="crispEdges"/>
<rect x="1157.66" y="93.84" width="34.02" height="2.21" fill="#f5ea6e" shape-rendering="crispEdges"/>
<rect x="1157.66" y="102.14" width="34.02" height="2.77" fill="#f5ea6e" shape-rendering="crispEdges"/>
<rect x="1157.66" y="107.67" width="34.02" height="2.21" fill="#f5ea6e" shape-rendering="crispEdges"/>
<rect x="1157.66" y="130.36" width="34.02" height="1.66" fill="#f9f2b4" shape-rendering="crispEdges"/>
<rect x="1157.66" y="138.11" width="34.02" height="2.77" fill="#f9f2b4" shape-rendering="crispEdges"/>
<rect x="1157.66" y="140.87" width="34.02" height="4.98" fill="#f7e21c" shape-rendering="crispEdges"/>
<rect x="1157.66" y="145.86" width="34.02" height="2.21" fill="#f5ea6e" shape-rendering="crispEdges"/>
<rect x="1157.66" y="145" width="34.02" height="3.32" fill="#f5ea6e" shape-rendering="crispEdges"/>
<rect x="1157.66" y="148.32" width="34.02" height="2.77" fill="#f5861f" shape-rendering="crispEdges"/>
<rect x="1157.66" y="151.09" width="34.02" height="2.77" fill="#f9f2b4" shape-rendering="crispEdges"/>
<rect x="1157.66" y="153.85" width="34.02" height="2.21" fill="#f5ea6e" shape-rendering="crispEdges"/>
<rect x="1157.66" y="161.05" width="34.02" height="2.77" fill="#f5ea6e" shape-rendering="crispEdges"/>
<rect x="1157.66" y="163.82" width="34.02" height="2.21" fill="#fbbf16" shape-rendering="crispEdges"/>
<rect x="1157.66" y="166.03" width="34.02" height="2.77" fill="#f5ea6e" shape-rendering="crispEdges"/>
<rect x="1157.66" y="171.01" width="34.02" height="2.77" fill="#f9f2b4" shape-rendering="crispEdges"/>
<rect x="1157.66" y="182.63" width="34.02" height="2.21" fill="#f7e21c" shape-rendering="crispEdges"/>
<rect x="1157.66" y="184.85" width="34.02" height="4.43" fill="#fbbf16" shape-rendering="crispEdges"/>
<rect x="1157.66" y="189.27" width="34.02" height="2.21" fill="#f7e21c" shape-rendering="crispEdges"/>
<rect x="1157.66" y="191.49" width="34.02" height="2.77" fill="#f5861f" shape-rendering="crispEdges"/>
<rect x="1157.66" y="194.25" width="34.02" height="2.77" fill="#f7e21c" shape-rendering="crispEdges"/>
<rect x="1157.66" y="203.66" width="34.02" height="2.77" fill="#f7e21c" shape-rendering="crispEdges"/>
<rect x="1157.66" y="206.43" width="34.02" height="2.77" fill="#f5861f" shape-rendering="crispEdges"/>
<rect x="1157.66" y="209.19" width="34.02" height="2.21" fill="#f7e21c" shape-rendering="crispEdges"/>
<rect x="1157.66" y="211.41" width="34.02" height="3.54" fill="#fbbf16" shape-rendering="crispEdges"/>
<rect x="1157.66" y="210" width="34.02" height="2.21" fill="#fbbf16" shape-rendering="crispEdges"/>
<rect x="1157.66" y="212.21" width="34.02" height="2.77" fill="#f7e21c" shape-rendering="crispEdges"/>
<rect x="1157.66" y="214.98" width="34.02" height="2.77" fill="#f9f2b4" shape-rendering="crispEdges"/>
<rect x="1157.66" y="250.95" width="34.02" height="2.77" fill="#f7e21c" shape-rendering="crispEdges"/>
<rect x="1157.66" y="253.72" width="34.02" height="3.32" fill="#fbbf16" shape-rendering="crispEdges"/>
<rect x="1157.66" y="257.04" width="34.02" height="2.21" fill="#f9f2b4" shape-rendering="crispEdges"/>
<rect x="1157.66" y="261.47" width="34.02" height="2.77" fill="#f7e21c" shape-rendering="crispEdges"/>
<rect x="1191.38" y="93.28" width="34.02" height="2.77" fill="#f7e21c" shape-rendering="crispEdges"/>
<rect x="1191.38" y="102.14" width="34.02" height="2.77" fill="#fbbf16" shape-rendering="crispEdges"/>
<rect x="1191.38" y="104.9" width="34.02" height="2.21" fill="#f9f2b4" shape-rendering="crispEdges"/>
<rect x="1191.38" y="107.12" width="34.02" height="3.32" fill="#fbbf16" shape-rendering="crispEdges"/>
<rect x="1191.38" y="110.44" width="34.02" height="1.66" fill="#f9f2b4" shape-rendering="crispEdges"/>
<rect x="1191.38" y="137" width="34.02" height="2.21" fill="#fbbf16" shape-rendering="crispEdges"/>
<rect x="1191.38" y="139.21" width="34.02" height="2.77" fill="#f5861f" shape-rendering="crispEdges"/>
<rect x="1191.38" y="141.98" width="34.02" height="2.21" fill="#ee5424" shape-rendering="crispEdges"/>
<rect x="1191.38" y="144.19" width="34.02" height="2.21" fill="#f7e21c" shape-rendering="crispEdges"/>
<rect x="1191.38" y="146.41" width="34.02" height="2.21" fill="#f5ea6e" shape-rendering="crispEdges"/>
<rect x="1191.38" y="145" width="34.02" height="3.32" fill="#f7e21c" shape-rendering="crispEdges"/>
<rect x="1191.38" y="148.32" width="34.02" height="3.32" fill="#ee5424" shape-rendering="crispEdges"/>
<rect x="1191.38" y="151.64" width="34.02" height="2.77" fill="#f7e21c" shape-rendering="crispEdges"/>
<rect x="1191.38" y="154.41" width="34.02" height="1.11" fill="#f9f2b4" shape-rendering="crispEdges"/>
<rect x="1191.38" y="161.05" width="34.02" height="2.77" fill="#f7e21c" shape-rendering="crispEdges"/>
<rect x="1191.38" y="163.82" width="34.02" height="2.21" fill="#f5861f" shape-rendering="crispEdges"/>
<rect x="1191.38" y="166.03" width="34.02" height="1.66" fill="#f7e21c" shape-rendering="crispEdges"/>
<rect x="1191.38" y="167.69" width="34.02" height="2.21" fill="#f5861f" shape-rendering="crispEdges"/>
<rect x="1191.38" y="169.9" width="34.02" height="1.66" fill="#f9f2b4" shape-rendering="crispEdges"/>
<rect x="1191.38" y="173.78" width="34.02" height="2.21" fill="#f9f2b4" shape-rendering="crispEdges"/>
<rect x="1191.38" y="178.2" width="34.02" height="3.32" fill="#f9f2b4" shape-rendering="crispEdges"/>
<rect x="1191.38" y="182.63" width="34.02" height="3.87" fill="#f7e21c" shape-rendering="crispEdges"/>
<rect x="1191.38" y="186.51" width="34.02" height="3.87" fill="#f5861f" shape-rendering="crispEdges"/>
<rect x="1191.38" y="190.38" width="34.02" height="4.43" fill="#ee5424" shape-rendering="crispEdges"/>
<rect x="1191.38" y="194.81" width="34.02" height="3.32" fill="#f7e21c" shape-rendering="crispEdges"/>
<rect x="1191.38" y="198.13" width="34.02" height="3.87" fill="#f9f2b4" shape-rendering="crispEdges"/>
<rect x="1191.38" y="202" width="34.02" height="2.77" fill="#f7e21c" shape-rendering="crispEdges"/>
<rect x="1191.38" y="204.77" width="34.02" height="2.77" fill="#ee5424" shape-rendering="crispEdges"/>
<rect x="1191.38" y="207.53" width="34.02" height="2.77" fill="#f7e21c" shape-rendering="crispEdges"/>
<rect x="1191.38" y="210.3" width="34.02" height="2.77" fill="#ee5424" shape-rendering="crispEdges"/>
<rect x="1191.38" y="213.07" width="34.02" height="1.88" fill="#f7e21c" shape-rendering="crispEdges"/>
<rect x="1191.38" y="210" width="34.02" height="2.77" fill="#ee5424" shape-rendering="crispEdges"/>
<rect x="1191.38" y="212.77" width="34.02" height="2.77" fill="#f7e21c" shape-rendering="crispEdges"/>
<rect x="1191.38" y="249.29" width="34.02" height="2.21" fill="#fbbf16" shape-rendering="crispEdges"/>
<rect x="1191.38" y="251.51" width="34.02" height="2.77" fill="#f5861f" shape-rendering="crispEdges"/>
<rect x="1191.38" y="254.27" width="34.02" height="2.77" fill="#ee5424" shape-rendering="crispEdges"/>
<rect x="1191.38" y="257.04" width="34.02" height="1.66" fill="#f7e21c" shape-rendering="crispEdges"/>
<rect x="1191.38" y="258.7" width="34.02" height="2.77" fill="#f9f2b4" shape-rendering="crispEdges"/>
<rect x="1191.38" y="262.02" width="34.02" height="2.77" fill="#fbbf16" shape-rendering="crispEdges"/>
<polyline points="853,176.99 854.85,177.74 856.71,178.5 858.56,179.25 860.42,180.01 862.27,180.77 864.13,181.53 865.98,182.29 867.84,183.05 869.69,183.81 871.54,183.18 873.4,182.42 875.25,181.66 877.11,180.9 878.96,180.15 880.82,179.39 882.67,178.63 884.53,177.88 886.38,177.13 888.24,176.38 890.09,175.63 891.94,174.88 893.8,174.14 895.65,173.4 897.51,172.66 899.36,171.93 901.22,171.2 903.07,170.47 904.93,169.75 906.78,169.03 908.63,168.32 910.49,167.61 912.34,166.91 914.2,166.21 916.05,165.51 917.91,164.82 919.76,164.14 921.62,163.47 923.47,162.79 925.33,162.13 927.18,161.47 929.03,160.82 930.89,160.18 932.74,159.54 934.6,158.91 936.45,158.29 938.31,157.67 940.16,157.07 942.02,156.47 943.87,155.88 945.73,155.29 947.58,154.72 949.43,154.15 951.29,153.6 953.14,153.05 955,152.51 956.85,151.98 958.71,151.46 960.56,150.96 962.42,150.46 964.27,149.97 966.12,149.49 967.98,149.02 969.83,148.56 971.69,148.11 973.54,147.67 975.4,147.24 977.25,146.83 979.11,146.42 980.96,146.03 982.82,145.65 984.67,145.28 986.52,144.92 988.38,144.57 990.23,144.23 992.09,143.91 993.94,143.6 995.8,143.3 997.65,143.01 999.51,142.73 1001.36,142.47 1003.21,142.22 1005.07,141.98 1006.92,141.75 1008.78,141.54 1010.63,141.34 1012.49,141.15 1014.34,140.97 1016.2,140.81 1018.05,140.66 1019.9,140.52 1021.76,140.4 1023.61,140.29 1025.47,140.19 1027.32,140.1 1029.18,140.03 1031.03,139.97 1032.89,139.93 1034.74,139.89 1036.6,139.87 1038.45,139.87 1040.3,139.87 1042.16,139.89 1044.01,139.93 1045.87,139.97 1047.72,140.03 1049.58,140.1 1051.43,140.19 1053.29,140.29 1055.14,140.4 1056.99,140.52 1058.85,140.66 1060.7,140.81 1062.56,140.97 1064.41,141.15 1066.27,141.34 1068.12,141.54 1069.98,141.75 1071.83,141.98 1073.69,142.22 1075.54,142.47 1077.39,142.73 1079.25,143.01 1081.1,143.3 1082.96,143.6 1084.81,143.91 1086.67,144.23 1088.52,144.57 1090.38,144.92 1092.23,145.28 1094.09,145.65 1095.94,146.03 1097.79,146.42 1099.65,146.83 1101.5,147.24 1103.36,147.67 1105.21,148.11 1107.07,148.56 1108.92,149.02 1110.78,149.49 1112.63,149.97 1114.48,150.46 1116.34,150.96 1118.19,151.46 1120.05,151.98 1121.9,152.51 1123.76,153.05 1125.61,153.6 1127.47,154.15 1129.32,154.72 1131.17,155.29 1133.03,155.88 1134.88,156.47 1136.74,157.07 1138.59,157.67 1140.45,158.29 1142.3,158.91 1144.16,159.54 1146.01,160.18 1147.87,160.82 1149.72,161.47 1151.57,162.13 1153.43,162.79 1155.28,163.47 1157.14,164.14 1158.99,164.82 1160.85,165.51 1162.7,166.21 1164.56,166.91 1166.41,167.61 1168.26,168.32 1170.12,169.03 1171.97,169.75 1173.83,170.47 1175.68,171.2 1177.54,171.93 1179.39,172.66 1181.25,173.4 1183.1,174.14 1184.96,174.88 1186.81,175.63 1188.66,176.38 1190.52,177.13 1192.37,177.88 1194.23,178.63 1196.08,179.39 1197.94,180.15 1199.79,180.9 1201.65,181.66 1203.5,182.42 1205.36,183.18 1207.21,183.81 1209.06,183.05 1210.92,182.29 1212.77,181.53 1214.63,180.77 1216.48,180.01 1218.34,179.25 1220.19,178.5 1222.05,177.74 1223.9,176.99" fill="none" stroke="#1d1a1b" stroke-width="2.5"/>
<polyline points="853,190.76 854.85,190.01 856.71,189.25 858.56,188.5 860.42,187.74 862.27,186.98 864.13,186.22 865.98,185.46 867.84,184.7 869.69,183.94 871.54,184.57 873.4,185.33 875.25,186.09 877.11,186.85 878.96,187.6 880.82,188.36 882.67,189.12 884.53,189.87 886.38,190.62 888.24,191.37 890.09,192.12 891.94,192.87 893.8,193.61 895.65,194.35 897.51,195.09 899.36,195.82 901.22,196.55 903.07,197.28 904.93,198 906.78,198.72 908.63,199.43 910.49,200.14 912.34,200.84 914.2,201.54 916.05,202.24 917.91,202.93 919.76,203.61 921.62,204.28 923.47,204.96 925.33,205.62 927.18,206.28 929.03,206.93 930.89,207.57 932.74,208.21 934.6,208.84 936.45,209.46 938.31,210.08 940.16,210.68 942.02,211.28 943.87,211.87 945.73,212.46 947.58,213.03 949.43,213.6 951.29,214.15 953.14,214.7 955,215.24 956.85,215.77 958.71,216.29 960.56,216.79 962.42,217.29 964.27,217.78 966.12,218.26 967.98,218.73 969.83,219.19 971.69,219.64 973.54,220.08 975.4,220.51 977.25,220.92 979.11,221.33 980.96,221.72 982.82,222.1 984.67,222.47 986.52,222.83 988.38,223.18 990.23,223.52 992.09,223.84 993.94,224.15 995.8,224.45 997.65,224.74 999.51,225.02 1001.36,225.28 1003.21,225.53 1005.07,225.77 1006.92,226 1008.78,226.21 1010.63,226.41 1012.49,226.6 1014.34,226.78 1016.2,226.94 1018.05,227.09 1019.9,227.23 1021.76,227.35 1023.61,227.46 1025.47,227.56 1027.32,227.65 1029.18,227.72 1031.03,227.78 1032.89,227.82 1034.74,227.86 1036.6,227.88 1038.45,227.88 1040.3,227.88 1042.16,227.86 1044.01,227.82 1045.87,227.78 1047.72,227.72 1049.58,227.65 1051.43,227.56 1053.29,227.46 1055.14,227.35 1056.99,227.23 1058.85,227.09 1060.7,226.94 1062.56,226.78 1064.41,226.6 1066.27,226.41 1068.12,226.21 1069.98,226 1071.83,225.77 1073.69,225.53 1075.54,225.28 1077.39,225.02 1079.25,224.74 1081.1,224.45 1082.96,224.15 1084.81,223.84 1086.67,223.52 1088.52,223.18 1090.38,222.83 1092.23,222.47 1094.09,222.1 1095.94,221.72 1097.79,221.33 1099.65,220.92 1101.5,220.51 1103.36,220.08 1105.21,219.64 1107.07,219.19 1108.92,218.73 1110.78,218.26 1112.63,217.78 1114.48,217.29 1116.34,216.79 1118.19,216.29 1120.05,215.77 1121.9,215.24 1123.76,214.7 1125.61,214.15 1127.47,213.6 1129.32,213.03 1131.17,212.46 1133.03,211.87 1134.88,211.28 1136.74,210.68 1138.59,210.08 1140.45,209.46 1142.3,208.84 1144.16,208.21 1146.01,207.57 1147.87,206.93 1149.72,206.28 1151.57,205.62 1153.43,204.96 1155.28,204.28 1157.14,203.61 1158.99,202.93 1160.85,202.24 1162.7,201.54 1164.56,200.84 1166.41,200.14 1168.26,199.43 1170.12,198.72 1171.97,198 1173.83,197.28 1175.68,196.55 1177.54,195.82 1179.39,195.09 1181.25,194.35 1183.1,193.61 1184.96,192.87 1186.81,192.12 1188.66,191.37 1190.52,190.62 1192.37,189.87 1194.23,189.12 1196.08,188.36 1197.94,187.6 1199.79,186.85 1201.65,186.09 1203.5,185.33 1205.36,184.57 1207.21,183.94 1209.06,184.7 1210.92,185.46 1212.77,186.22 1214.63,186.98 1216.48,187.74 1218.34,188.5 1220.19,189.25 1222.05,190.01 1223.9,190.76" fill="none" stroke="#1d1a1b" stroke-width="2.5"/>
<line x1="853" y1="277.23" x2="1223.9" y2="277.23" stroke="#1d1a1b" stroke-width="2.5"/>
<circle cx="971.01" cy="277.23" r="4.5" fill="#1d1a1b"/>
<circle cx="1004.73" cy="277.23" r="4.5" fill="#1d1a1b"/>
<circle cx="1038.45" cy="277.23" r="4.5" fill="#1d1a1b"/>
<circle cx="1072.17" cy="277.23" r="4.5" fill="#1d1a1b"/>
<circle cx="1105.89" cy="277.23" r="4.5" fill="#1d1a1b"/>
</g>
<rect x="853" y="59.4" width="370.9" height="248.95" fill="none" stroke="#1d1a1b" stroke-width="2.1"/>
<g clip-path="url(#clip21)">
<rect x="853" y="540.3" width="370.9" height="18.6" fill="url(#gn)"/>
<rect x="854.2" y="536.6" width="33.72" height="26" fill="url(#gw)"/>
<rect x="1022.79" y="536.6" width="33.72" height="26" fill="url(#gw)"/>
<rect x="1191.38" y="536.6" width="33.72" height="26" fill="url(#gw)"/>
<polyline points="853,433.59 854.85,434.34 856.71,435.1 858.56,435.85 860.42,436.61 862.27,437.37 864.13,438.13 865.98,438.89 867.84,439.65 869.69,440.41 871.54,439.78 873.4,439.02 875.25,438.26 877.11,437.5 878.96,436.75 880.82,435.99 882.67,435.23 884.53,434.48 886.38,433.73 888.24,432.98 890.09,432.23 891.94,431.48 893.8,430.74 895.65,430 897.51,429.26 899.36,428.53 901.22,427.8 903.07,427.07 904.93,426.35 906.78,425.63 908.63,424.92 910.49,424.21 912.34,423.51 914.2,422.81 916.05,422.11 917.91,421.42 919.76,420.74 921.62,420.07 923.47,419.39 925.33,418.73 927.18,418.07 929.03,417.42 930.89,416.78 932.74,416.14 934.6,415.51 936.45,414.89 938.31,414.27 940.16,413.67 942.02,413.07 943.87,412.48 945.73,411.89 947.58,411.32 949.43,410.75 951.29,410.2 953.14,409.65 955,409.11 956.85,408.58 958.71,408.06 960.56,407.56 962.42,407.06 964.27,406.57 966.12,406.09 967.98,405.62 969.83,405.16 971.69,404.71 973.54,404.27 975.4,403.84 977.25,403.43 979.11,403.02 980.96,402.63 982.82,402.25 984.67,401.88 986.52,401.52 988.38,401.17 990.23,400.83 992.09,400.51 993.94,400.2 995.8,399.9 997.65,399.61 999.51,399.33 1001.36,399.07 1003.21,398.82 1005.07,398.58 1006.92,398.35 1008.78,398.14 1010.63,397.94 1012.49,397.75 1014.34,397.57 1016.2,397.41 1018.05,397.26 1019.9,397.12 1021.76,397 1023.61,396.89 1025.47,396.79 1027.32,396.7 1029.18,396.63 1031.03,396.57 1032.89,396.53 1034.74,396.49 1036.6,396.47 1038.45,396.47 1040.3,396.47 1042.16,396.49 1044.01,396.53 1045.87,396.57 1047.72,396.63 1049.58,396.7 1051.43,396.79 1053.29,396.89 1055.14,397 1056.99,397.12 1058.85,397.26 1060.7,397.41 1062.56,397.57 1064.41,397.75 1066.27,397.94 1068.12,398.14 1069.98,398.35 1071.83,398.58 1073.69,398.82 1075.54,399.07 1077.39,399.33 1079.25,399.61 1081.1,399.9 1082.96,400.2 1084.81,400.51 1086.67,400.83 1088.52,401.17 1090.38,401.52 1092.23,401.88 1094.09,402.25 1095.94,402.63 1097.79,403.02 1099.65,403.43 1101.5,403.84 1103.36,404.27 1105.21,404.71 1107.07,405.16 1108.92,405.62 1110.78,406.09 1112.63,406.57 1114.48,407.06 1116.34,407.56 1118.19,408.06 1120.05,408.58 1121.9,409.11 1123.76,409.65 1125.61,410.2 1127.47,410.75 1129.32,411.32 1131.17,411.89 1133.03,412.48 1134.88,413.07 1136.74,413.67 1138.59,414.27 1140.45,414.89 1142.3,415.51 1144.16,416.14 1146.01,416.78 1147.87,417.42 1149.72,418.07 1151.57,418.73 1153.43,419.39 1155.28,420.07 1157.14,420.74 1158.99,421.42 1160.85,422.11 1162.7,422.81 1164.56,423.51 1166.41,424.21 1168.26,424.92 1170.12,425.63 1171.97,426.35 1173.83,427.07 1175.68,427.8 1177.54,428.53 1179.39,429.26 1181.25,430 1183.1,430.74 1184.96,431.48 1186.81,432.23 1188.66,432.98 1190.52,433.73 1192.37,434.48 1194.23,435.23 1196.08,435.99 1197.94,436.75 1199.79,437.5 1201.65,438.26 1203.5,439.02 1205.36,439.78 1207.21,440.41 1209.06,439.65 1210.92,438.89 1212.77,438.13 1214.63,437.37 1216.48,436.61 1218.34,435.85 1220.19,435.1 1222.05,434.34 1223.9,433.59" fill="none" stroke="#1d1a1b" stroke-width="2.5"/>
<polyline points="853,447.36 854.85,446.61 856.71,445.85 858.56,445.1 860.42,444.34 862.27,443.58 864.13,442.82 865.98,442.06 867.84,441.3 869.69,440.54 871.54,441.17 873.4,441.93 875.25,442.69 877.11,443.45 878.96,444.2 880.82,444.96 882.67,445.72 884.53,446.47 886.38,447.22 888.24,447.97 890.09,448.72 891.94,449.47 893.8,450.21 895.65,450.95 897.51,451.69 899.36,452.42 901.22,453.15 903.07,453.88 904.93,454.6 906.78,455.32 908.63,456.03 910.49,456.74 912.34,457.44 914.2,458.14 916.05,458.84 917.91,459.53 919.76,460.21 921.62,460.88 923.47,461.56 925.33,462.22 927.18,462.88 929.03,463.53 930.89,464.17 932.74,464.81 934.6,465.44 936.45,466.06 938.31,466.68 940.16,467.28 942.02,467.88 943.87,468.47 945.73,469.06 947.58,469.63 949.43,470.2 951.29,470.75 953.14,471.3 955,471.84 956.85,472.37 958.71,472.89 960.56,473.39 962.42,473.89 964.27,474.38 966.12,474.86 967.98,475.33 969.83,475.79 971.69,476.24 973.54,476.68 975.4,477.11 977.25,477.52 979.11,477.93 980.96,478.32 982.82,478.7 984.67,479.07 986.52,479.43 988.38,479.78 990.23,480.12 992.09,480.44 993.94,480.75 995.8,481.05 997.65,481.34 999.51,481.62 1001.36,481.88 1003.21,482.13 1005.07,482.37 1006.92,482.6 1008.78,482.81 1010.63,483.01 1012.49,483.2 1014.34,483.38 1016.2,483.54 1018.05,483.69 1019.9,483.83 1021.76,483.95 1023.61,484.06 1025.47,484.16 1027.32,484.25 1029.18,484.32 1031.03,484.38 1032.89,484.42 1034.74,484.46 1036.6,484.48 1038.45,484.48 1040.3,484.48 1042.16,484.46 1044.01,484.42 1045.87,484.38 1047.72,484.32 1049.58,484.25 1051.43,484.16 1053.29,484.06 1055.14,483.95 1056.99,483.83 1058.85,483.69 1060.7,483.54 1062.56,483.38 1064.41,483.2 1066.27,483.01 1068.12,482.81 1069.98,482.6 1071.83,482.37 1073.69,482.13 1075.54,481.88 1077.39,481.62 1079.25,481.34 1081.1,481.05 1082.96,480.75 1084.81,480.44 1086.67,480.12 1088.52,479.78 1090.38,479.43 1092.23,479.07 1094.09,478.7 1095.94,478.32 1097.79,477.93 1099.65,477.52 1101.5,477.11 1103.36,476.68 1105.21,476.24 1107.07,475.79 1108.92,475.33 1110.78,474.86 1112.63,474.38 1114.48,473.89 1116.34,473.39 1118.19,472.89 1120.05,472.37 1121.9,471.84 1123.76,471.3 1125.61,470.75 1127.47,470.2 1129.32,469.63 1131.17,469.06 1133.03,468.47 1134.88,467.88 1136.74,467.28 1138.59,466.68 1140.45,466.06 1142.3,465.44 1144.16,464.81 1146.01,464.17 1147.87,463.53 1149.72,462.88 1151.57,462.22 1153.43,461.56 1155.28,460.88 1157.14,460.21 1158.99,459.53 1160.85,458.84 1162.7,458.14 1164.56,457.44 1166.41,456.74 1168.26,456.03 1170.12,455.32 1171.97,454.6 1173.83,453.88 1175.68,453.15 1177.54,452.42 1179.39,451.69 1181.25,450.95 1183.1,450.21 1184.96,449.47 1186.81,448.72 1188.66,447.97 1190.52,447.22 1192.37,446.47 1194.23,445.72 1196.08,444.96 1197.94,444.2 1199.79,443.45 1201.65,442.69 1203.5,441.93 1205.36,441.17 1207.21,440.54 1209.06,441.3 1210.92,442.06 1212.77,442.82 1214.63,443.58 1216.48,444.34 1218.34,445.1 1220.19,445.85 1222.05,446.61 1223.9,447.36" fill="none" stroke="#1d1a1b" stroke-width="2.5"/>
<line x1="853" y1="533.83" x2="1223.9" y2="533.83" stroke="#1d1a1b" stroke-width="2.5"/>
<circle cx="971.01" cy="533.83" r="4.5" fill="#1d1a1b"/>
<circle cx="1004.73" cy="533.83" r="4.5" fill="#1d1a1b"/>
<circle cx="1038.45" cy="533.83" r="4.5" fill="#1d1a1b"/>
<circle cx="1072.17" cy="533.83" r="4.5" fill="#1d1a1b"/>
<circle cx="1105.89" cy="533.83" r="4.5" fill="#1d1a1b"/>
</g>
<rect x="853" y="316" width="370.9" height="248.95" fill="none" stroke="#1d1a1b" stroke-width="2.1"/>
<g clip-path="url(#clip22)">
<rect x="854.2" y="630.4" width="34.02" height="1.66" fill="#f7e21c" shape-rendering="crispEdges"/>
<rect x="854.2" y="632.06" width="34.02" height="2.21" fill="#f5861f" shape-rendering="crispEdges"/>
<rect x="854.2" y="634.27" width="34.02" height="4.98" fill="#f7e21c" shape-rendering="crispEdges"/>
<rect x="854.2" y="639.25" width="34.02" height="2.77" fill="#ee5424" shape-rendering="crispEdges"/>
<rect x="854.2" y="642.02" width="34.02" height="1.11" fill="#f7e21c" shape-rendering="crispEdges"/>
<rect x="854.2" y="643.13" width="34.02" height="2.21" fill="#ee5424" shape-rendering="crispEdges"/>
<rect x="854.2" y="645.34" width="34.02" height="2.77" fill="#f7e21c" shape-rendering="crispEdges"/>
<rect x="854.2" y="667.73" width="34.02" height="2.77" fill="#f7e21c" shape-rendering="crispEdges"/>
<rect x="854.2" y="670.5" width="34.02" height="3.32" fill="#f9f2b4" shape-rendering="crispEdges"/>
<rect x="854.2" y="673.82" width="34.02" height="2.21" fill="#fbbf16" shape-rendering="crispEdges"/>
<rect x="854.2" y="676.03" width="34.02" height="6.09" fill="#f7e21c" shape-rendering="crispEdges"/>
<rect x="854.2" y="682.12" width="34.02" height="2.77" fill="#ee5424" shape-rendering="crispEdges"/>
<rect x="854.2" y="684.88" width="34.02" height="3.87" fill="#ee5424" shape-rendering="crispEdges"/>
<rect x="854.2" y="688.76" width="34.02" height="3.87" fill="#f5861f" shape-rendering="crispEdges"/>
<rect x="854.2" y="692.63" width="34.02" height="3.87" fill="#f7e21c" shape-rendering="crispEdges"/>
<rect x="854.2" y="696.51" width="34.02" height="3.32" fill="#f5861f" shape-rendering="crispEdges"/>
<rect x="854.2" y="699.83" width="34.02" height="3.87" fill="#f7e21c" shape-rendering="crispEdges"/>
<rect x="854.2" y="703.7" width="34.02" height="2.21" fill="#f5861f" shape-rendering="crispEdges"/>
<rect x="854.2" y="705.91" width="34.02" height="2.77" fill="#f7e21c" shape-rendering="crispEdges"/>
<rect x="854.2" y="723.62" width="34.02" height="1.33" fill="#f7e21c" shape-rendering="crispEdges"/>
<rect x="854.2" y="723.87" width="34.02" height="2.21" fill="#f7e21c" shape-rendering="crispEdges"/>
<rect x="854.2" y="726.09" width="34.02" height="2.21" fill="#ee5424" shape-rendering="crispEdges"/>
<rect x="854.2" y="728.3" width="34.02" height="3.32" fill="#fbbf16" shape-rendering="crispEdges"/>
<rect x="854.2" y="731.62" width="34.02" height="1.66" fill="#f9f2b4" shape-rendering="crispEdges"/>
<rect x="854.2" y="738.26" width="34.02" height="3.32" fill="#fbbf16" shape-rendering="crispEdges"/>
<rect x="887.92" y="620.44" width="34.02" height="1.66" fill="#fcf9e0" shape-rendering="crispEdges"/>
<rect x="887.92" y="631.51" width="34.02" height="2.77" fill="#fbbf16" shape-rendering="crispEdges"/>
<rect x="887.92" y="634.27" width="34.02" height="4.98" fill="#f5ea6e" shape-rendering="crispEdges"/>
<rect x="887.92" y="639.25" width="34.02" height="2.77" fill="#f5861f" shape-rendering="crispEdges"/>
<rect x="887.92" y="642.02" width="34.02" height="1.11" fill="#f7e21c" shape-rendering="crispEdges"/>
<rect x="887.92" y="643.13" width="34.02" height="2.21" fill="#f5861f" shape-rendering="crispEdges"/>
<rect x="887.92" y="645.34" width="34.02" height="1.11" fill="#f9f2b4" shape-rendering="crispEdges"/>
<rect x="887.92" y="667.73" width="34.02" height="1.66" fill="#f9f2b4" shape-rendering="crispEdges"/>
<rect x="887.92" y="672.71" width="34.02" height="2.77" fill="#f5ea6e" shape-rendering="crispEdges"/>
<rect x="887.92" y="675.48" width="34.02" height="6.09" fill="#f7e21c" shape-rendering="crispEdges"/>
<rect x="887.92" y="681.56" width="34.02" height="3.32" fill="#fbbf16" shape-rendering="crispEdges"/>
<rect x="887.92" y="684.88" width="34.02" height="2.77" fill="#f5861f" shape-rendering="crispEdges"/>
<rect x="887.92" y="687.65" width="34.02" height="3.32" fill="#fbbf16" shape-rendering="crispEdges"/>
<rect x="887.92" y="690.97" width="34.02" height="3.32" fill="#f7e21c" shape-rendering="crispEdges"/>
<rect x="887.92" y="694.29" width="34.02" height="2.77" fill="#f9f2b4" shape-rendering="crispEdges"/>
<rect x="887.92" y="697.06" width="34.02" height="3.32" fill="#f7e21c" shape-rendering="crispEdges"/>
<rect x="887.92" y="700.38" width="34.02" height="3.32" fill="#f5ea6e" shape-rendering="crispEdges"/>
<rect x="887.92" y="703.7" width="34.02" height="3.32" fill="#f7e21c" shape-rendering="crispEdges"/>
<rect x="887.92" y="723.62" width="34.02" height="1.33" fill="#f5ea6e" shape-rendering="crispEdges"/>
<rect x="887.92" y="724.43" width="34.02" height="2.21" fill="#f7e21c" shape-rendering="crispEdges"/>
<rect x="887.92" y="726.64" width="34.02" height="1.66" fill="#f5861f" shape-rendering="crispEdges"/>
<rect x="887.92" y="728.3" width="34.02" height="2.77" fill="#f7e21c" shape-rendering="crispEdges"/>
<rect x="887.92" y="737.71" width="34.02" height="2.77" fill="#f7e21c" shape-rendering="crispEdges"/>
<rect x="921.64" y="606.6" width="34.02" height="2.77" fill="#f7e21c" shape-rendering="crispEdges"/>
<rect x="921.64" y="615.46" width="34.02" height="2.21" fill="#f7e21c" shape-rendering="crispEdges"/>
<rect x="921.64" y="620.99" width="34.02" height="2.21" fill="#f5ea6e" shape-rendering="crispEdges"/>
<rect x="921.64" y="632.06" width="34.02" height="2.77" fill="#f5861f" shape-rendering="crispEdges"/>
<rect x="921.64" y="634.83" width="34.02" height="2.77" fill="#f7e21c" shape-rendering="crispEdges"/>
<rect x="921.64" y="637.59" width="34.02" height="1.66" fill="#f9f2b4" shape-rendering="crispEdges"/>
<rect x="921.64" y="639.25" width="34.02" height="2.77" fill="#f5861f" shape-rendering="crispEdges"/>
<rect x="921.64" y="642.02" width="34.02" height="2.77" fill="#fbbf16" shape-rendering="crispEdges"/>
<rect x="921.64" y="651.43" width="34.02" height="2.21" fill="#f5ea6e" shape-rendering="crispEdges"/>
<rect x="921.64" y="654.75" width="34.02" height="2.21" fill="#f5ea6e" shape-rendering="crispEdges"/>
<rect x="921.64" y="655" width="34.02" height="1.66" fill="#f5ea6e" shape-rendering="crispEdges"/>
<rect x="921.64" y="674.37" width="34.02" height="2.77" fill="#f7e21c" shape-rendering="crispEdges"/>
<rect x="921.64" y="677.14" width="34.02" height="2.21" fill="#f5861f" shape-rendering="crispEdges"/>
<rect x="921.64" y="679.35" width="34.02" height="5.53" fill="#f7e21c" shape-rendering="crispEdges"/>
<rect x="921.64" y="684.88" width="34.02" height="3.32" fill="#f5861f" shape-rendering="crispEdges"/>
<rect x="921.64" y="688.2" width="34.02" height="2.77" fill="#f7e21c" shape-rendering="crispEdges"/>
<rect x="921.64" y="690.97" width="34.02" height="3.87" fill="#f5ea6e" shape-rendering="crispEdges"/>
<rect x="921.64" y="697.06" width="34.02" height="2.77" fill="#f5ea6e" shape-rendering="crispEdges"/>
<rect x="921.64" y="702.59" width="34.02" height="4.43" fill="#f7e21c" shape-rendering="crispEdges"/>
<rect x="921.64" y="708.13" width="34.02" height="2.21" fill="#f5ea6e" shape-rendering="crispEdges"/>
<rect x="921.64" y="722.52" width="34.02" height="2.43" fill="#f7e21c" shape-rendering="crispEdges"/>
<rect x="921.64" y="722.77" width="34.02" height="6.09" fill="#f7e21c" shape-rendering="crispEdges"/>
<rect x="921.64" y="728.85" width="34.02" height="2.77" fill="#fbbf16" shape-rendering="crispEdges"/>
<rect x="921.64" y="736.05" width="34.02" height="4.43" fill="#f7e21c" shape-rendering="crispEdges"/>
<rect x="921.64" y="768.15" width="34.02" height="2.21" fill="#f9f2b4" shape-rendering="crispEdges"/>
<rect x="921.64" y="775.34" width="34.02" height="1.66" fill="#f9f2b4" shape-rendering="crispEdges"/>
<rect x="955.35" y="600.51" width="34.02" height="3.32" fill="#f5ea6e" shape-rendering="crispEdges"/>
<rect x="955.35" y="603.84" width="34.02" height="2.21" fill="#f9f2b4" shape-rendering="crispEdges"/>
<rect x="955.35" y="606.05" width="34.02" height="3.87" fill="#fbbf16" shape-rendering="crispEdges"/>
<rect x="955.35" y="615.46" width="34.02" height="2.21" fill="#f7e21c" shape-rendering="crispEdges"/>
<rect x="955.35" y="631.51" width="34.02" height="3.32" fill="#f5861f" shape-rendering="crispEdges"/>
<rect x="955.35" y="634.83" width="34.02" height="3.87" fill="#f5ea6e" shape-rendering="crispEdges"/>
<rect x="955.35" y="638.7" width="34.02" height="2.77" fill="#f5861f" shape-rendering="crispEdges"/>
<rect x="955.35" y="641.47" width="34.02" height="2.77" fill="#f9f2b4" shape-rendering="crispEdges"/>
<rect x="955.35" y="652.53" width="34.02" height="2.21" fill="#f5ea6e" shape-rendering="crispEdges"/>
<rect x="955.35" y="655.86" width="34.02" height="2.21" fill="#f7e21c" shape-rendering="crispEdges"/>
<rect x="955.35" y="655" width="34.02" height="2.21" fill="#f7e21c" shape-rendering="crispEdges"/>
<rect x="955.35" y="663.3" width="34.02" height="2.21" fill="#f5ea6e" shape-rendering="crispEdges"/>
<rect x="955.35" y="669.39" width="34.02" height="2.21" fill="#f5ea6e" shape-rendering="crispEdges"/>
<rect x="955.35" y="674.37" width="34.02" height="3.87" fill="#fbbf16" shape-rendering="crispEdges"/>
<rect x="955.35" y="678.24" width="34.02" height="3.32" fill="#f7e21c" shape-rendering="crispEdges"/>
<rect x="955.35" y="681.56" width="34.02" height="2.77" fill="#f5ea6e" shape-rendering="crispEdges"/>
<rect x="955.35" y="684.33" width="34.02" height="3.87" fill="#f5861f" shape-rendering="crispEdges"/>
<rect x="955.35" y="688.2" width="34.02" height="2.21" fill="#f5ea6e" shape-rendering="crispEdges"/>
<rect x="955.35" y="692.08" width="34.02" height="2.21" fill="#f9f2b4" shape-rendering="crispEdges"/>
<rect x="955.35" y="697.06" width="34.02" height="2.21" fill="#f9f2b4" shape-rendering="crispEdges"/>
<rect x="955.35" y="703.7" width="34.02" height="3.32" fill="#f5ea6e" shape-rendering="crispEdges"/>
<rect x="955.35" y="717.53" width="34.02" height="3.87" fill="#f7e21c" shape-rendering="crispEdges"/>
<rect x="955.35" y="721.41" width="34.02" height="3.54" fill="#f5ea6e" shape-rendering="crispEdges"/>
<rect x="955.35" y="720" width="34.02" height="2.21" fill="#f5ea6e" shape-rendering="crispEdges"/>
<rect x="955.35" y="722.21" width="34.02" height="2.77" fill="#fbbf16" shape-rendering="crispEdges"/>
<rect x="955.35" y="724.98" width="34.02" height="2.77" fill="#f9f2b4" shape-rendering="crispEdges"/>
<rect x="955.35" y="729.41" width="34.02" height="2.21" fill="#f7e21c" shape-rendering="crispEdges"/>
<rect x="955.35" y="736.6" width="34.02" height="3.87" fill="#fbbf16" shape-rendering="crispEdges"/>
<rect x="955.35" y="768.15" width="34.02" height="1.66" fill="#f9f2b4" shape-rendering="crispEdges"/>
<rect x="955.35" y="774.79" width="34.02" height="2.77" fill="#f7e21c" shape-rendering="crispEdges"/>
<rect x="955.35" y="779.77" width="34.02" height="2.21" fill="#f9f2b4" shape-rendering="crispEdges"/>
<rect x="989.07" y="599.41" width="34.02" height="4.98" fill="#f7e21c" shape-rendering="crispEdges"/>
<rect x="989.07" y="604.39" width="34.02" height="2.21" fill="#f5ea6e" shape-rendering="crispEdges"/>
<rect x="989.07" y="606.6" width="34.02" height="3.32" fill="#fbbf16" shape-rendering="crispEdges"/>
<rect x="989.07" y="615.46" width="34.02" height="1.66" fill="#f9f2b4" shape-rendering="crispEdges"/>
<rect x="989.07" y="629.85" width="34.02" height="1.66" fill="#f7e21c" shape-rendering="crispEdges"/>
<rect x="989.07" y="631.51" width="34.02" height="2.77" fill="#ee5424" shape-rendering="crispEdges"/>
<rect x="989.07" y="634.27" width="34.02" height="2.21" fill="#f5ea6e" shape-rendering="crispEdges"/>
<rect x="989.07" y="637.59" width="34.02" height="2.21" fill="#f9f2b4" shape-rendering="crispEdges"/>
<rect x="989.07" y="640.91" width="34.02" height="2.21" fill="#f5ea6e" shape-rendering="crispEdges"/>
<rect x="989.07" y="655.86" width="34.02" height="2.21" fill="#f5ea6e" shape-rendering="crispEdges"/>
<rect x="989.07" y="655" width="34.02" height="2.77" fill="#f9f2b4" shape-rendering="crispEdges"/>
<rect x="989.07" y="661.09" width="34.02" height="2.77" fill="#f5861f" shape-rendering="crispEdges"/>
<rect x="989.07" y="663.85" width="34.02" height="2.21" fill="#f9f2b4" shape-rendering="crispEdges"/>
<rect x="989.07" y="667.73" width="34.02" height="2.21" fill="#f5ea6e" shape-rendering="crispEdges"/>
<rect x="989.07" y="673.26" width="34.02" height="6.09" fill="#f7e21c" shape-rendering="crispEdges"/>
<rect x="989.07" y="679.35" width="34.02" height="2.21" fill="#f5ea6e" shape-rendering="crispEdges"/>
<rect x="989.07" y="681.56" width="34.02" height="2.77" fill="#f7e21c" shape-rendering="crispEdges"/>
<rect x="989.07" y="684.33" width="34.02" height="3.32" fill="#f5861f" shape-rendering="crispEdges"/>
<rect x="989.07" y="687.65" width="34.02" height="1.66" fill="#f9f2b4" shape-rendering="crispEdges"/>
<rect x="989.07" y="697.06" width="34.02" height="2.21" fill="#f9f2b4" shape-rendering="crispEdges"/>
<rect x="989.07" y="717.53" width="34.02" height="3.87" fill="#f7e21c" shape-rendering="crispEdges"/>
<rect x="989.07" y="721.41" width="34.02" height="3.54" fill="#fbbf16" shape-rendering="crispEdges"/>
<rect x="989.07" y="720" width="34.02" height="2.21" fill="#f5ea6e" shape-rendering="crispEdges"/>
<rect x="989.07" y="722.21" width="34.02" height="3.32" fill="#f7e21c" shape-rendering="crispEdges"/>
<rect x="989.07" y="725.53" width="34.02" height="2.77" fill="#f5ea6e" shape-rendering="crispEdges"/>
<rect x="989.07" y="728.3" width="34.02" height="2.21" fill="#f9f2b4" shape-rendering="crispEdges"/>
<rect x="989.07" y="737.71" width="34.02" height="3.32" fill="#f5861f" shape-rendering="crispEdges"/>
<rect x="989.07" y="774.79" width="34.02" height="2.77" fill="#f7e21c" shape-rendering="crispEdges"/>
<rect x="989.07" y="779.77" width="34.02" height="3.87" fill="#f7e21c" shape-rendering="crispEdges"/>
<rect x="1022.79" y="597.75" width="34.02" height="1.66" fill="#f7e21c" shape-rendering="crispEdges"/>
<rect x="1022.79" y="599.41" width="34.02" height="3.87" fill="#f5861f" shape-rendering="crispEdges"/>
<rect x="1022.79" y="603.28" width="34.02" height="2.77" fill="#f7e21c" shape-rendering="crispEdges"/>
<rect x="1022.79" y="606.05" width="34.02" height="3.87" fill="#f5861f" shape-rendering="crispEdges"/>
<rect x="1022.79" y="620.99" width="34.02" height="2.21" fill="#f9f2b4" shape-rendering="crispEdges"/>
<rect x="1022.79" y="628.18" width="34.02" height="2.77" fill="#f7e21c" shape-rendering="crispEdges"/>
<rect x="1022.79" y="630.95" width="34.02" height="3.32" fill="#ee5424" shape-rendering="crispEdges"/>
<rect x="1022.79" y="634.27" width="34.02" height="3.32" fill="#f7e21c" shape-rendering="crispEdges"/>
<rect x="1022.79" y="640.91" width="34.02" height="3.87" fill="#f7e21c" shape-rendering="crispEdges"/>
<rect x="1022.79" y="658.62" width="34.02" height="1.33" fill="#f5ea6e" shape-rendering="crispEdges"/>
<rect x="1022.79" y="658.87" width="34.02" height="2.21" fill="#f7e21c" shape-rendering="crispEdges"/>
<rect x="1022.79" y="661.09" width="34.02" height="2.77" fill="#ee5424" shape-rendering="crispEdges"/>
<rect x="1022.79" y="663.85" width="34.02" height="2.21" fill="#f7e21c" shape-rendering="crispEdges"/>
<rect x="1022.79" y="674.37" width="34.02" height="2.21" fill="#f5861f" shape-rendering="crispEdges"/>
<rect x="1022.79" y="676.58" width="34.02" height="2.77" fill="#f7e21c" shape-rendering="crispEdges"/>
<rect x="1022.79" y="679.35" width="34.02" height="4.43" fill="#f5861f" shape-rendering="crispEdges"/>
<rect x="1022.79" y="683.78" width="34.02" height="4.43" fill="#f7e21c" shape-rendering="crispEdges"/>
<rect x="1022.79" y="688.2" width="34.02" height="3.32" fill="#f5ea6e" shape-rendering="crispEdges"/>
<rect x="1022.79" y="691.52" width="34.02" height="2.21" fill="#fbbf16" shape-rendering="crispEdges"/>
<rect x="1022.79" y="693.74" width="34.02" height="3.32" fill="#f7e21c" shape-rendering="crispEdges"/>
<rect x="1022.79" y="697.06" width="34.02" height="2.77" fill="#fbbf16" shape-rendering="crispEdges"/>
<rect x="1022.79" y="717.53" width="34.02" height="1.11" fill="#f7e21c" shape-rendering="crispEdges"/>
<rect x="1022.79" y="718.64" width="34.02" height="2.21" fill="#f5861f" shape-rendering="crispEdges"/>
<rect x="1022.79" y="720.86" width="34.02" height="4.1" fill="#f7e21c" shape-rendering="crispEdges"/>
<rect x="1022.79" y="720" width="34.02" height="1.66" fill="#f5861f" shape-rendering="crispEdges"/>
<rect x="1022.79" y="721.66" width="34.02" height="2.77" fill="#f7e21c" shape-rendering="crispEdges"/>
<rect x="1022.79" y="724.43" width="34.02" height="2.21" fill="#fbbf16" shape-rendering="crispEdges"/>
<rect x="1022.79" y="726.64" width="34.02" height="2.21" fill="#f5861f" shape-rendering="crispEdges"/>
<rect x="1022.79" y="728.85" width="34.02" height="2.21" fill="#f7e21c" shape-rendering="crispEdges"/>
<rect x="1022.79" y="731.07" width="34.02" height="2.77" fill="#f9f2b4" shape-rendering="crispEdges"/>
<rect x="1022.79" y="736.05" width="34.02" height="2.77" fill="#fbbf16" shape-rendering="crispEdges"/>
<rect x="1022.79" y="738.82" width="34.02" height="2.21" fill="#ee5424" shape-rendering="crispEdges"/>
<rect x="1022.79" y="741.03" width="34.02" height="2.21" fill="#f7e21c" shape-rendering="crispEdges"/>
<rect x="1022.79" y="774.23" width="34.02" height="2.77" fill="#f5861f" shape-rendering="crispEdges"/>
<rect x="1022.79" y="777" width="34.02" height="3.32" fill="#f7e21c" shape-rendering="crispEdges"/>
<rect x="1022.79" y="780.32" width="34.02" height="3.87" fill="#f5861f" shape-rendering="crispEdges"/>
<rect x="1056.51" y="599.41" width="34.02" height="4.98" fill="#f7e21c" shape-rendering="crispEdges"/>
<rect x="1056.51" y="604.39" width="34.02" height="2.21" fill="#f5ea6e" shape-rendering="crispEdges"/>
<rect x="1056.51" y="606.6" width="34.02" height="3.32" fill="#fbbf16" shape-rendering="crispEdges"/>
<rect x="1056.51" y="615.46" width="34.02" height="1.66" fill="#f9f2b4" shape-rendering="crispEdges"/>
<rect x="1056.51" y="629.85" width="34.02" height="1.66" fill="#f7e21c" shape-rendering="crispEdges"/>
<rect x="1056.51" y="631.51" width="34.02" height="2.77" fill="#ee5424" shape-rendering="crispEdges"/>
<rect x="1056.51" y="634.27" width="34.02" height="2.21" fill="#f5ea6e" shape-rendering="crispEdges"/>
<rect x="1056.51" y="637.59" width="34.02" height="2.21" fill="#f9f2b4" shape-rendering="crispEdges"/>
<rect x="1056.51" y="640.91" width="34.02" height="2.21" fill="#f5ea6e" shape-rendering="crispEdges"/>
<rect x="1056.51" y="655.86" width="34.02" height="2.21" fill="#f5ea6e" shape-rendering="crispEdges"/>
<rect x="1056.51" y="655" width="34.02" height="2.77" fill="#f9f2b4" shape-rendering="crispEdges"/>
<rect x="1056.51" y="661.09" width="34.02" height="2.77" fill="#f5861f" shape-rendering="crispEdges"/>
<rect x="1056.51" y="663.85" width="34.02" height="2.21" fill="#f9f2b4" shape-rendering="crispEdges"/>
<rect x="1056.51" y="667.73" width="34.02" height="2.21" fill="#f5ea6e" shape-rendering="crispEdges"/>
<rect x="1056.51" y="673.26" width="34.02" height="6.09" fill="#f7e21c" shape-rendering="crispEdges"/>
<rect x="1056.51" y="679.35" width="34.02" height="2.21" fill="#f5ea6e" shape-rendering="crispEdges"/>
<rect x="1056.51" y="681.56" width="34.02" height="2.77" fill="#f7e21c" shape-rendering="crispEdges"/>
<rect x="1056.51" y="684.33" width="34.02" height="3.32" fill="#f5861f" shape-rendering="crispEdges"/>
<rect x="1056.51" y="687.65" width="34.02" height="1.66" fill="#f9f2b4" shape-rendering="crispEdges"/>
<rect x="1056.51" y="697.06" width="34.02" height="2.21" fill="#f9f2b4" shape-rendering="crispEdges"/>
<rect x="1056.51" y="717.53" width="34.02" height="3.87" fill="#f7e21c" shape-rendering="crispEdges"/>
<rect x="1056.51" y="721.41" width="34.02" height="3.54" fill="#fbbf16" shape-rendering="crispEdges"/>
<rect x="1056.51" y="720" width="34.02" height="2.21" fill="#f5ea6e" shape-rendering="crispEdges"/>
<rect x="1056.51" y="722.21" width="34.02" height="3.32" fill="#f7e21c" shape-rendering="crispEdges"/>
<rect x="1056.51" y="725.53" width="34.02" height="2.77" fill="#f5ea6e" shape-rendering="crispEdges"/>
<rect x="1056.51" y="728.3" width="34.02" height="2.21" fill="#f9f2b4" shape-rendering="crispEdges"/>
<rect x="1056.51" y="737.71" width="34.02" height="3.32" fill="#f5861f" shape-rendering="crispEdges"/>
<rect x="1056.51" y="774.79" width="34.02" height="2.77" fill="#f7e21c" shape-rendering="crispEdges"/>
<rect x="1056.51" y="779.77" width="34.02" height="3.87" fill="#f7e21c" shape-rendering="crispEdges"/>
<rect x="1090.23" y="600.51" width="34.02" height="3.32" fill="#f5ea6e" shape-rendering="crispEdges"/>
<rect x="1090.23" y="603.84" width="34.02" height="2.21" fill="#f9f2b4" shape-rendering="crispEdges"/>
<rect x="1090.23" y="606.05" width="34.02" height="3.87" fill="#fbbf16" shape-rendering="crispEdges"/>
<rect x="1090.23" y="615.46" width="34.02" height="2.21" fill="#f7e21c" shape-rendering="crispEdges"/>
<rect x="1090.23" y="631.51" width="34.02" height="3.32" fill="#f5861f" shape-rendering="crispEdges"/>
<rect x="1090.23" y="634.83" width="34.02" height="3.87" fill="#f5ea6e" shape-rendering="crispEdges"/>
<rect x="1090.23" y="638.7" width="34.02" height="2.77" fill="#f5861f" shape-rendering="crispEdges"/>
<rect x="1090.23" y="641.47" width="34.02" height="2.77" fill="#f9f2b4" shape-rendering="crispEdges"/>
<rect x="1090.23" y="652.53" width="34.02" height="2.21" fill="#f5ea6e" shape-rendering="crispEdges"/>
<rect x="1090.23" y="655.86" width="34.02" height="2.21" fill="#f7e21c" shape-rendering="crispEdges"/>
<rect x="1090.23" y="655" width="34.02" height="2.21" fill="#f7e21c" shape-rendering="crispEdges"/>
<rect x="1090.23" y="663.3" width="34.02" height="2.21" fill="#f5ea6e" shape-rendering="crispEdges"/>
<rect x="1090.23" y="669.39" width="34.02" height="2.21" fill="#f5ea6e" shape-rendering="crispEdges"/>
<rect x="1090.23" y="674.37" width="34.02" height="3.87" fill="#fbbf16" shape-rendering="crispEdges"/>
<rect x="1090.23" y="678.24" width="34.02" height="3.32" fill="#f7e21c" shape-rendering="crispEdges"/>
<rect x="1090.23" y="681.56" width="34.02" height="2.77" fill="#f5ea6e" shape-rendering="crispEdges"/>
<rect x="1090.23" y="684.33" width="34.02" height="3.87" fill="#f5861f" shape-rendering="crispEdges"/>
<rect x="1090.23" y="688.2" width="34.02" height="2.21" fill="#f5ea6e" shape-rendering="crispEdges"/>
<rect x="1090.23" y="692.08" width="34.02" height="2.21" fill="#f9f2b4" shape-rendering="crispEdges"/>
<rect x="1090.23" y="697.06" width="34.02" height="2.21" fill="#f9f2b4" shape-rendering="crispEdges"/>
<rect x="1090.23" y="703.7" width="34.02" height="3.32" fill="#f5ea6e" shape-rendering="crispEdges"/>
<rect x="1090.23" y="717.53" width="34.02" height="3.87" fill="#f7e21c" shape-rendering="crispEdges"/>
<rect x="1090.23" y="721.41" width="34.02" height="3.54" fill="#f5ea6e" shape-rendering="crispEdges"/>
<rect x="1090.23" y="720" width="34.02" height="2.21" fill="#f5ea6e" shape-rendering="crispEdges"/>
<rect x="1090.23" y="722.21" width="34.02" height="2.77" fill="#fbbf16" shape-rendering="crispEdges"/>
<rect x="1090.23" y="724.98" width="34.02" height="2.77" fill="#f9f2b4" shape-rendering="crispEdges"/>
<rect x="1090.23" y="729.41" width="34.02" height="2.21" fill="#f7e21c" shape-rendering="crispEdges"/>
<rect x="1090.23" y="736.6" width="34.02" height="3.87" fill="#fbbf16" shape-rendering="crispEdges"/>
<rect x="1090.23" y="768.15" width="34.02" height="1.66" fill="#f9f2b4" shape-rendering="crispEdges"/>
<rect x="1090.23" y="774.79" width="34.02" height="2.77" fill="#f7e21c" shape-rendering="crispEdges"/>
<rect x="1090.23" y="779.77" width="34.02" height="2.21" fill="#f9f2b4" shape-rendering="crispEdges"/>
<rect x="1123.95" y="606.6" width="34.02" height="2.77" fill="#f7e21c" shape-rendering="crispEdges"/>
<rect x="1123.95" y="615.46" width="34.02" height="2.21" fill="#f7e21c" shape-rendering="crispEdges"/>
<rect x="1123.95" y="620.99" width="34.02" height="2.21" fill="#f5ea6e" shape-rendering="crispEdges"/>
<rect x="1123.95" y="632.06" width="34.02" height="2.77" fill="#f5861f" shape-rendering="crispEdges"/>
<rect x="1123.95" y="634.83" width="34.02" height="2.77" fill="#f7e21c" shape-rendering="crispEdges"/>
<rect x="1123.95" y="637.59" width="34.02" height="1.66" fill="#f9f2b4" shape-rendering="crispEdges"/>
<rect x="1123.95" y="639.25" width="34.02" height="2.77" fill="#f5861f" shape-rendering="crispEdges"/>
<rect x="1123.95" y="642.02" width="34.02" height="2.77" fill="#fbbf16" shape-rendering="crispEdges"/>
<rect x="1123.95" y="651.43" width="34.02" height="2.21" fill="#f5ea6e" shape-rendering="crispEdges"/>
<rect x="1123.95" y="654.75" width="34.02" height="2.21" fill="#f5ea6e" shape-rendering="crispEdges"/>
<rect x="1123.95" y="655" width="34.02" height="1.66" fill="#f5ea6e" shape-rendering="crispEdges"/>
<rect x="1123.95" y="674.37" width="34.02" height="2.77" fill="#f7e21c" shape-rendering="crispEdges"/>
<rect x="1123.95" y="677.14" width="34.02" height="2.21" fill="#f5861f" shape-rendering="crispEdges"/>
<rect x="1123.95" y="679.35" width="34.02" height="5.53" fill="#f7e21c" shape-rendering="crispEdges"/>
<rect x="1123.95" y="684.88" width="34.02" height="3.32" fill="#f5861f" shape-rendering="crispEdges"/>
<rect x="1123.95" y="688.2" width="34.02" height="2.77" fill="#f7e21c" shape-rendering="crispEdges"/>
<rect x="1123.95" y="690.97" width="34.02" height="3.87" fill="#f5ea6e" shape-rendering="crispEdges"/>
<rect x="1123.95" y="697.06" width="34.02" height="2.77" fill="#f5ea6e" shape-rendering="crispEdges"/>
<rect x="1123.95" y="702.59" width="34.02" height="4.43" fill="#f7e21c" shape-rendering="crispEdges"/>
<rect x="1123.95" y="708.13" width="34.02" height="2.21" fill="#f5ea6e" shape-rendering="crispEdges"/>
<rect x="1123.95" y="722.52" width="34.02" height="2.43" fill="#f7e21c" shape-rendering="crispEdges"/>
<rect x="1123.95" y="722.77" width="34.02" height="6.09" fill="#f7e21c" shape-rendering="crispEdges"/>
<rect x="1123.95" y="728.85" width="34.02" height="2.77" fill="#fbbf16" shape-rendering="crispEdges"/>
<rect x="1123.95" y="736.05" width="34.02" height="4.43" fill="#f7e21c" shape-rendering="crispEdges"/>
<rect x="1123.95" y="768.15" width="34.02" height="2.21" fill="#f9f2b4" shape-rendering="crispEdges"/>
<rect x="1123.95" y="775.34" width="34.02" height="1.66" fill="#f9f2b4" shape-rendering="crispEdges"/>
<rect x="1157.66" y="620.44" width="34.02" height="1.66" fill="#fcf9e0" shape-rendering="crispEdges"/>
<rect x="1157.66" y="631.51" width="34.02" height="2.77" fill="#fbbf16" shape-rendering="crispEdges"/>
<rect x="1157.66" y="634.27" width="34.02" height="4.98" fill="#f5ea6e" shape-rendering="crispEdges"/>
<rect x="1157.66" y="639.25" width="34.02" height="2.77" fill="#f5861f" shape-rendering="crispEdges"/>
<rect x="1157.66" y="642.02" width="34.02" height="1.11" fill="#f7e21c" shape-rendering="crispEdges"/>
<rect x="1157.66" y="643.13" width="34.02" height="2.21" fill="#f5861f" shape-rendering="crispEdges"/>
<rect x="1157.66" y="645.34" width="34.02" height="1.11" fill="#f9f2b4" shape-rendering="crispEdges"/>
<rect x="1157.66" y="667.73" width="34.02" height="1.66" fill="#f9f2b4" shape-rendering="crispEdges"/>
<rect x="1157.66" y="672.71" width="34.02" height="2.77" fill="#f5ea6e" shape-rendering="crispEdges"/>
<rect x="1157.66" y="675.48" width="34.02" height="6.09" fill="#f7e21c" shape-rendering="crispEdges"/>
<rect x="1157.66" y="681.56" width="34.02" height="3.32" fill="#fbbf16" shape-rendering="crispEdges"/>
<rect x="1157.66" y="684.88" width="34.02" height="2.77" fill="#f5861f" shape-rendering="crispEdges"/>
<rect x="1157.66" y="687.65" width="34.02" height="3.32" fill="#fbbf16" shape-rendering="crispEdges"/>
<rect x="1157.66" y="690.97" width="34.02" height="3.32" fill="#f7e21c" shape-rendering="crispEdges"/>
<rect x="1157.66" y="694.29" width="34.02" height="2.77" fill="#f9f2b4" shape-rendering="crispEdges"/>
<rect x="1157.66" y="697.06" width="34.02" height="3.32" fill="#f7e21c" shape-rendering="crispEdges"/>
<rect x="1157.66" y="700.38" width="34.02" height="3.32" fill="#f5ea6e" shape-rendering="crispEdges"/>
<rect x="1157.66" y="703.7" width="34.02" height="3.32" fill="#f7e21c" shape-rendering="crispEdges"/>
<rect x="1157.66" y="723.62" width="34.02" height="1.33" fill="#f5ea6e" shape-rendering="crispEdges"/>
<rect x="1157.66" y="724.43" width="34.02" height="2.21" fill="#f7e21c" shape-rendering="crispEdges"/>
<rect x="1157.66" y="726.64" width="34.02" height="1.66" fill="#f5861f" shape-rendering="crispEdges"/>
<rect x="1157.66" y="728.3" width="34.02" height="2.77" fill="#f7e21c" shape-rendering="crispEdges"/>
<rect x="1157.66" y="737.71" width="34.02" height="2.77" fill="#f7e21c" shape-rendering="crispEdges"/>
<rect x="1191.38" y="630.4" width="34.02" height="1.66" fill="#f7e21c" shape-rendering="crispEdges"/>
<rect x="1191.38" y="632.06" width="34.02" height="2.21" fill="#f5861f" shape-rendering="crispEdges"/>
<rect x="1191.38" y="634.27" width="34.02" height="4.98" fill="#f7e21c" shape-rendering="crispEdges"/>
<rect x="1191.38" y="639.25" width="34.02" height="2.77" fill="#ee5424" shape-rendering="crispEdges"/>
<rect x="1191.38" y="642.02" width="34.02" height="1.11" fill="#f7e21c" shape-rendering="crispEdges"/>
<rect x="1191.38" y="643.13" width="34.02" height="2.21" fill="#ee5424" shape-rendering="crispEdges"/>
<rect x="1191.38" y="645.34" width="34.02" height="2.77" fill="#f7e21c" shape-rendering="crispEdges"/>
<rect x="1191.38" y="667.73" width="34.02" height="2.77" fill="#f7e21c" shape-rendering="crispEdges"/>
<rect x="1191.38" y="670.5" width="34.02" height="3.32" fill="#f9f2b4" shape-rendering="crispEdges"/>
<rect x="1191.38" y="673.82" width="34.02" height="2.21" fill="#fbbf16" shape-rendering="crispEdges"/>
<rect x="1191.38" y="676.03" width="34.02" height="6.09" fill="#f7e21c" shape-rendering="crispEdges"/>
<rect x="1191.38" y="682.12" width="34.02" height="2.77" fill="#ee5424" shape-rendering="crispEdges"/>
<rect x="1191.38" y="684.88" width="34.02" height="3.87" fill="#ee5424" shape-rendering="crispEdges"/>
<rect x="1191.38" y="688.76" width="34.02" height="3.87" fill="#f5861f" shape-rendering="crispEdges"/>
<rect x="1191.38" y="692.63" width="34.02" height="3.87" fill="#f7e21c" shape-rendering="crispEdges"/>
<rect x="1191.38" y="696.51" width="34.02" height="3.32" fill="#f5861f" shape-rendering="crispEdges"/>
<rect x="1191.38" y="699.83" width="34.02" height="3.87" fill="#f7e21c" shape-rendering="crispEdges"/>
<rect x="1191.38" y="703.7" width="34.02" height="2.21" fill="#f5861f" shape-rendering="crispEdges"/>
<rect x="1191.38" y="705.91" width="34.02" height="2.77" fill="#f7e21c" shape-rendering="crispEdges"/>
<rect x="1191.38" y="723.62" width="34.02" height="1.33" fill="#f7e21c" shape-rendering="crispEdges"/>
<rect x="1191.38" y="723.87" width="34.02" height="2.21" fill="#f7e21c" shape-rendering="crispEdges"/>
<rect x="1191.38" y="726.09" width="34.02" height="2.21" fill="#ee5424" shape-rendering="crispEdges"/>
<rect x="1191.38" y="728.3" width="34.02" height="3.32" fill="#fbbf16" shape-rendering="crispEdges"/>
<rect x="1191.38" y="731.62" width="34.02" height="1.66" fill="#f9f2b4" shape-rendering="crispEdges"/>
<rect x="1191.38" y="738.26" width="34.02" height="3.32" fill="#fbbf16" shape-rendering="crispEdges"/>
<polyline points="853,689.89 854.85,690.64 856.71,691.4 858.56,692.15 860.42,692.91 862.27,693.67 864.13,694.43 865.98,695.19 867.84,695.95 869.69,696.71 871.54,696.08 873.4,695.32 875.25,694.56 877.11,693.8 878.96,693.05 880.82,692.29 882.67,691.53 884.53,690.78 886.38,690.03 888.24,689.28 890.09,688.53 891.94,687.78 893.8,687.04 895.65,686.3 897.51,685.56 899.36,684.83 901.22,684.1 903.07,683.37 904.93,682.65 906.78,681.93 908.63,681.22 910.49,680.51 912.34,679.81 914.2,679.11 916.05,678.41 917.91,677.72 919.76,677.04 921.62,676.37 923.47,675.69 925.33,675.03 927.18,674.37 929.03,673.72 930.89,673.08 932.74,672.44 934.6,671.81 936.45,671.19 938.31,670.57 940.16,669.97 942.02,669.37 943.87,668.78 945.73,668.19 947.58,667.62 949.43,667.05 951.29,666.5 953.14,665.95 955,665.41 956.85,664.88 958.71,664.36 960.56,663.86 962.42,663.36 964.27,662.87 966.12,662.39 967.98,661.92 969.83,661.46 971.69,661.01 973.54,660.57 975.4,660.14 977.25,659.73 979.11,659.32 980.96,658.93 982.82,658.55 984.67,658.18 986.52,657.82 988.38,657.47 990.23,657.13 992.09,656.81 993.94,656.5 995.8,656.2 997.65,655.91 999.51,655.63 1001.36,655.37 1003.21,655.12 1005.07,654.88 1006.92,654.65 1008.78,654.44 1010.63,654.24 1012.49,654.05 1014.34,653.87 1016.2,653.71 1018.05,653.56 1019.9,653.42 1021.76,653.3 1023.61,653.19 1025.47,653.09 1027.32,653 1029.18,652.93 1031.03,652.87 1032.89,652.83 1034.74,652.79 1036.6,652.77 1038.45,652.77 1040.3,652.77 1042.16,652.79 1044.01,652.83 1045.87,652.87 1047.72,652.93 1049.58,653 1051.43,653.09 1053.29,653.19 1055.14,653.3 1056.99,653.42 1058.85,653.56 1060.7,653.71 1062.56,653.87 1064.41,654.05 1066.27,654.24 1068.12,654.44 1069.98,654.65 1071.83,654.88 1073.69,655.12 1075.54,655.37 1077.39,655.63 1079.25,655.91 1081.1,656.2 1082.96,656.5 1084.81,656.81 1086.67,657.13 1088.52,657.47 1090.38,657.82 1092.23,658.18 1094.09,658.55 1095.94,658.93 1097.79,659.32 1099.65,659.73 1101.5,660.14 1103.36,660.57 1105.21,661.01 1107.07,661.46 1108.92,661.92 1110.78,662.39 1112.63,662.87 1114.48,663.36 1116.34,663.86 1118.19,664.36 1120.05,664.88 1121.9,665.41 1123.76,665.95 1125.61,666.5 1127.47,667.05 1129.32,667.62 1131.17,668.19 1133.03,668.78 1134.88,669.37 1136.74,669.97 1138.59,670.57 1140.45,671.19 1142.3,671.81 1144.16,672.44 1146.01,673.08 1147.87,673.72 1149.72,674.37 1151.57,675.03 1153.43,675.69 1155.28,676.37 1157.14,677.04 1158.99,677.72 1160.85,678.41 1162.7,679.11 1164.56,679.81 1166.41,680.51 1168.26,681.22 1170.12,681.93 1171.97,682.65 1173.83,683.37 1175.68,684.1 1177.54,684.83 1179.39,685.56 1181.25,686.3 1183.1,687.04 1184.96,687.78 1186.81,688.53 1188.66,689.28 1190.52,690.03 1192.37,690.78 1194.23,691.53 1196.08,692.29 1197.94,693.05 1199.79,693.8 1201.65,694.56 1203.5,695.32 1205.36,696.08 1207.21,696.71 1209.06,695.95 1210.92,695.19 1212.77,694.43 1214.63,693.67 1216.48,692.91 1218.34,692.15 1220.19,691.4 1222.05,690.64 1223.9,689.89" fill="none" stroke="#1d1a1b" stroke-width="2.5"/>
<polyline points="853,703.66 854.85,702.91 856.71,702.15 858.56,701.4 860.42,700.64 862.27,699.88 864.13,699.12 865.98,698.36 867.84,697.6 869.69,696.84 871.54,697.47 873.4,698.23 875.25,698.99 877.11,699.75 878.96,700.5 880.82,701.26 882.67,702.02 884.53,702.77 886.38,703.52 888.24,704.27 890.09,705.02 891.94,705.77 893.8,706.51 895.65,707.25 897.51,707.99 899.36,708.72 901.22,709.45 903.07,710.18 904.93,710.9 906.78,711.62 908.63,712.33 910.49,713.04 912.34,713.74 914.2,714.44 916.05,715.14 917.91,715.83 919.76,716.51 921.62,717.18 923.47,717.86 925.33,718.52 927.18,719.18 929.03,719.83 930.89,720.47 932.74,721.11 934.6,721.74 936.45,722.36 938.31,722.98 940.16,723.58 942.02,724.18 943.87,724.77 945.73,725.36 947.58,725.93 949.43,726.5 951.29,727.05 953.14,727.6 955,728.14 956.85,728.67 958.71,729.19 960.56,729.69 962.42,730.19 964.27,730.68 966.12,731.16 967.98,731.63 969.83,732.09 971.69,732.54 973.54,732.98 975.4,733.41 977.25,733.82 979.11,734.23 980.96,734.62 982.82,735 984.67,735.37 986.52,735.73 988.38,736.08 990.23,736.42 992.09,736.74 993.94,737.05 995.8,737.35 997.65,737.64 999.51,737.92 1001.36,738.18 1003.21,738.43 1005.07,738.67 1006.92,738.9 1008.78,739.11 1010.63,739.31 1012.49,739.5 1014.34,739.68 1016.2,739.84 1018.05,739.99 1019.9,740.13 1021.76,740.25 1023.61,740.36 1025.47,740.46 1027.32,740.55 1029.18,740.62 1031.03,740.68 1032.89,740.72 1034.74,740.76 1036.6,740.78 1038.45,740.78 1040.3,740.78 1042.16,740.76 1044.01,740.72 1045.87,740.68 1047.72,740.62 1049.58,740.55 1051.43,740.46 1053.29,740.36 1055.14,740.25 1056.99,740.13 1058.85,739.99 1060.7,739.84 1062.56,739.68 1064.41,739.5 1066.27,739.31 1068.12,739.11 1069.98,738.9 1071.83,738.67 1073.69,738.43 1075.54,738.18 1077.39,737.92 1079.25,737.64 1081.1,737.35 1082.96,737.05 1084.81,736.74 1086.67,736.42 1088.52,736.08 1090.38,735.73 1092.23,735.37 1094.09,735 1095.94,734.62 1097.79,734.23 1099.65,733.82 1101.5,733.41 1103.36,732.98 1105.21,732.54 1107.07,732.09 1108.92,731.63 1110.78,731.16 1112.63,730.68 1114.48,730.19 1116.34,729.69 1118.19,729.19 1120.05,728.67 1121.9,728.14 1123.76,727.6 1125.61,727.05 1127.47,726.5 1129.32,725.93 1131.17,725.36 1133.03,724.77 1134.88,724.18 1136.74,723.58 1138.59,722.98 1140.45,722.36 1142.3,721.74 1144.16,721.11 1146.01,720.47 1147.87,719.83 1149.72,719.18 1151.57,718.52 1153.43,717.86 1155.28,717.18 1157.14,716.51 1158.99,715.83 1160.85,715.14 1162.7,714.44 1164.56,713.74 1166.41,713.04 1168.26,712.33 1170.12,711.62 1171.97,710.9 1173.83,710.18 1175.68,709.45 1177.54,708.72 1179.39,707.99 1181.25,707.25 1183.1,706.51 1184.96,705.77 1186.81,705.02 1188.66,704.27 1190.52,703.52 1192.37,702.77 1194.23,702.02 1196.08,701.26 1197.94,700.5 1199.79,699.75 1201.65,698.99 1203.5,698.23 1205.36,697.47 1207.21,696.84 1209.06,697.6 1210.92,698.36 1212.77,699.12 1214.63,699.88 1216.48,700.64 1218.34,701.4 1220.19,702.15 1222.05,702.91 1223.9,703.66" fill="none" stroke="#1d1a1b" stroke-width="2.5"/>
<line x1="853" y1="790.13" x2="1223.9" y2="790.13" stroke="#1d1a1b" stroke-width="2.5"/>
<circle cx="971.01" cy="790.13" r="4.5" fill="#1d1a1b"/>
<circle cx="1004.73" cy="790.13" r="4.5" fill="#1d1a1b"/>
<circle cx="1038.45" cy="790.13" r="4.5" fill="#1d1a1b"/>
<circle cx="1072.17" cy="790.13" r="4.5" fill="#1d1a1b"/>
<circle cx="1105.89" cy="790.13" r="4.5" fill="#1d1a1b"/>
</g>
<rect x="853" y="572.3" width="370.9" height="248.95" fill="none" stroke="#1d1a1b" stroke-width="2.1"/>
<line x1="869.86" y1="821.25" x2="869.86" y2="829.25" stroke="#1d1a1b" stroke-width="2.0"/>
<line x1="954.15" y1="821.25" x2="954.15" y2="829.25" stroke="#1d1a1b" stroke-width="2.0"/>
<line x1="1038.45" y1="821.25" x2="1038.45" y2="829.25" stroke="#1d1a1b" stroke-width="2.0"/>
<line x1="1122.75" y1="821.25" x2="1122.75" y2="829.25" stroke="#1d1a1b" stroke-width="2.0"/>
<line x1="1207.04" y1="821.25" x2="1207.04" y2="829.25" stroke="#1d1a1b" stroke-width="2.0"/>
<text x="870.16" y="862.3" text-anchor="middle" class="tk">−<tspan class="pi" dy="-1.5">π</tspan></text>
<text x="1038.55" y="862.3" text-anchor="middle" class="tk">0</text>
<text x="1207.34" y="862.3" text-anchor="middle" class="tk"><tspan class="pi" dy="-1.5">π</tspan></text>
<text y="904" class="tl"><tspan x="1012.7" font-style="italic">k</tspan><tspan x="1031.9">·</tspan><tspan x="1050.8" font-style="italic">a</tspan></text>
<g clip-path="url(#clip30)">
<rect x="1293.2" y="96.07" width="34.02" height="1.66" fill="#f5861f" shape-rendering="crispEdges"/>
<rect x="1293.2" y="97.73" width="34.02" height="1.11" fill="#f7e21c" shape-rendering="crispEdges"/>
<rect x="1293.2" y="98.84" width="34.02" height="2.55" fill="#ee5424" shape-rendering="crispEdges"/>
<rect x="1293.2" y="157.96" width="34.02" height="2.21" fill="#fbbf16" shape-rendering="crispEdges"/>
<rect x="1293.2" y="160.17" width="34.02" height="2.21" fill="#f5861f" shape-rendering="crispEdges"/>
<rect x="1293.2" y="184.52" width="34.02" height="2.21" fill="#ee5424" shape-rendering="crispEdges"/>
<rect x="1293.2" y="186.74" width="34.02" height="2.21" fill="#1c0d0d" shape-rendering="crispEdges"/>
<rect x="1293.2" y="188.95" width="34.02" height="1.66" fill="#fbbf16" shape-rendering="crispEdges"/>
<rect x="1293.2" y="190.61" width="34.02" height="2.77" fill="#ee5424" shape-rendering="crispEdges"/>
<rect x="1293.2" y="193.38" width="34.02" height="2.21" fill="#f7e21c" shape-rendering="crispEdges"/>
<rect x="1293.2" y="241.01" width="34.02" height="2.21" fill="#fbbf16" shape-rendering="crispEdges"/>
<rect x="1293.2" y="244.88" width="34.02" height="3.32" fill="#f7e21c" shape-rendering="crispEdges"/>
<rect x="1293.2" y="275.87" width="34.02" height="1.66" fill="#fbbf16" shape-rendering="crispEdges"/>
<rect x="1293.2" y="277.53" width="34.02" height="2.21" fill="#1c0d0d" shape-rendering="crispEdges"/>
<rect x="1293.2" y="279.75" width="34.02" height="1.66" fill="#f7e21c" shape-rendering="crispEdges"/>
<rect x="1293.2" y="281.41" width="34.02" height="2.77" fill="#f5861f" shape-rendering="crispEdges"/>
<rect x="1326.92" y="96.07" width="34.02" height="2.21" fill="#fbbf16" shape-rendering="crispEdges"/>
<rect x="1326.92" y="98.28" width="34.02" height="1.11" fill="#f7e21c" shape-rendering="crispEdges"/>
<rect x="1326.92" y="99.39" width="34.02" height="1.99" fill="#fbbf16" shape-rendering="crispEdges"/>
<rect x="1326.92" y="157.96" width="34.02" height="4.43" fill="#f7e21c" shape-rendering="crispEdges"/>
<rect x="1326.92" y="184.52" width="34.02" height="2.21" fill="#fbbf16" shape-rendering="crispEdges"/>
<rect x="1326.92" y="188.4" width="34.02" height="2.21" fill="#f7e21c" shape-rendering="crispEdges"/>
<rect x="1326.92" y="190.61" width="34.02" height="1.66" fill="#f5861f" shape-rendering="crispEdges"/>
<rect x="1326.92" y="192.27" width="34.02" height="3.87" fill="#f7e21c" shape-rendering="crispEdges"/>
<rect x="1326.92" y="241.01" width="34.02" height="2.21" fill="#f5ea6e" shape-rendering="crispEdges"/>
<rect x="1326.92" y="244.88" width="34.02" height="2.21" fill="#f5ea6e" shape-rendering="crispEdges"/>
<rect x="1326.92" y="276.43" width="34.02" height="1.66" fill="#f7e21c" shape-rendering="crispEdges"/>
<rect x="1326.92" y="279.75" width="34.02" height="1.66" fill="#f7e21c" shape-rendering="crispEdges"/>
<rect x="1326.92" y="281.41" width="34.02" height="2.21" fill="#fbbf16" shape-rendering="crispEdges"/>
<rect x="1360.64" y="94.41" width="34.02" height="2.21" fill="#f5ea6e" shape-rendering="crispEdges"/>
<rect x="1360.64" y="96.62" width="34.02" height="1.44" fill="#fbbf16" shape-rendering="crispEdges"/>
<rect x="1360.64" y="98.06" width="34.02" height="2.99" fill="#f7e21c" shape-rendering="crispEdges"/>
<rect x="1360.64" y="152.52" width="34.02" height="2.43" fill="#f9f2b4" shape-rendering="crispEdges"/>
<rect x="1360.64" y="152.43" width="34.02" height="1.66" fill="#f9f2b4" shape-rendering="crispEdges"/>
<rect x="1360.64" y="156.3" width="34.02" height="2.77" fill="#f5ea6e" shape-rendering="crispEdges"/>
<rect x="1360.64" y="160.17" width="34.02" height="1.66" fill="#f9f2b4" shape-rendering="crispEdges"/>
<rect x="1360.64" y="183.42" width="34.02" height="2.77" fill="#f5861f" shape-rendering="crispEdges"/>
<rect x="1360.64" y="186.18" width="34.02" height="2.77" fill="#f7e21c" shape-rendering="crispEdges"/>
<rect x="1360.64" y="188.95" width="34.02" height="2.21" fill="#fbbf16" shape-rendering="crispEdges"/>
<rect x="1360.64" y="191.17" width="34.02" height="3.32" fill="#f7e21c" shape-rendering="crispEdges"/>
<rect x="1360.64" y="194.49" width="34.02" height="2.21" fill="#fbbf16" shape-rendering="crispEdges"/>
<rect x="1360.64" y="236.03" width="34.02" height="2.21" fill="#f9f2b4" shape-rendering="crispEdges"/>
<rect x="1360.64" y="241.01" width="34.02" height="2.21" fill="#f5ea6e" shape-rendering="crispEdges"/>
<rect x="1360.64" y="279.19" width="34.02" height="2.21" fill="#f7e21c" shape-rendering="crispEdges"/>
<rect x="1360.64" y="281.41" width="34.02" height="2.21" fill="#fbbf16" shape-rendering="crispEdges"/>
<rect x="1360.64" y="284.18" width="34.02" height="2.77" fill="#f5ea6e" shape-rendering="crispEdges"/>
<rect x="1394.35" y="93.85" width="34.02" height="2.21" fill="#f7e21c" shape-rendering="crispEdges"/>
<rect x="1394.35" y="96.07" width="34.02" height="1.66" fill="#fbbf16" shape-rendering="crispEdges"/>
<rect x="1394.35" y="97.73" width="34.02" height="1.11" fill="#f5861f" shape-rendering="crispEdges"/>
<rect x="1394.35" y="98.84" width="34.02" height="1.66" fill="#f5ea6e" shape-rendering="crispEdges"/>
<rect x="1394.35" y="151.96" width="34.02" height="2.21" fill="#f5ea6e" shape-rendering="crispEdges"/>
<rect x="1394.35" y="152.43" width="34.02" height="1.66" fill="#f5ea6e" shape-rendering="crispEdges"/>
<rect x="1394.35" y="156.3" width="34.02" height="2.77" fill="#f5ea6e" shape-rendering="crispEdges"/>
<rect x="1394.35" y="183.42" width="34.02" height="2.77" fill="#fbbf16" shape-rendering="crispEdges"/>
<rect x="1394.35" y="186.18" width="34.02" height="3.32" fill="#f7e21c" shape-rendering="crispEdges"/>
<rect x="1394.35" y="189.51" width="34.02" height="2.21" fill="#f5861f" shape-rendering="crispEdges"/>
<rect x="1394.35" y="191.72" width="34.02" height="2.77" fill="#f7e21c" shape-rendering="crispEdges"/>
<rect x="1394.35" y="194.49" width="34.02" height="2.21" fill="#f5861f" shape-rendering="crispEdges"/>
<rect x="1394.35" y="241.01" width="34.02" height="1.66" fill="#fcf9e0" shape-rendering="crispEdges"/>
<rect x="1394.35" y="252.08" width="34.02" height="2.21" fill="#fcf9e0" shape-rendering="crispEdges"/>
<rect x="1394.35" y="282.29" width="34.02" height="1.44" fill="#f7e21c" shape-rendering="crispEdges"/>
<rect x="1394.35" y="285.17" width="34.02" height="2.55" fill="#f5ea6e" shape-rendering="crispEdges"/>
<rect x="1428.07" y="93.3" width="34.02" height="1.66" fill="#f9f2b4" shape-rendering="crispEdges"/>
<rect x="1428.07" y="94.96" width="34.02" height="1.66" fill="#f5861f" shape-rendering="crispEdges"/>
<rect x="1428.07" y="96.62" width="34.02" height="1.66" fill="#fbbf16" shape-rendering="crispEdges"/>
<rect x="1428.07" y="98.28" width="34.02" height="1.11" fill="#f9f2b4" shape-rendering="crispEdges"/>
<rect x="1428.07" y="151.96" width="34.02" height="2.21" fill="#fbbf16" shape-rendering="crispEdges"/>
<rect x="1428.07" y="152.43" width="34.02" height="1.66" fill="#fbbf16" shape-rendering="crispEdges"/>
<rect x="1428.07" y="156.85" width="34.02" height="2.21" fill="#f9f2b4" shape-rendering="crispEdges"/>
<rect x="1428.07" y="184.52" width="34.02" height="4.98" fill="#f7e21c" shape-rendering="crispEdges"/>
<rect x="1428.07" y="189.51" width="34.02" height="2.21" fill="#ee5424" shape-rendering="crispEdges"/>
<rect x="1428.07" y="191.72" width="34.02" height="1.66" fill="#fbbf16" shape-rendering="crispEdges"/>
<rect x="1428.07" y="193.38" width="34.02" height="2.21" fill="#f5861f" shape-rendering="crispEdges"/>
<rect x="1428.07" y="252.63" width="34.02" height="1.66" fill="#f9f2b4" shape-rendering="crispEdges"/>
<rect x="1428.07" y="282.29" width="34.02" height="1.44" fill="#f7e21c" shape-rendering="crispEdges"/>
<rect x="1428.07" y="285.17" width="34.02" height="1.99" fill="#fbbf16" shape-rendering="crispEdges"/>
<rect x="1461.79" y="92.19" width="34.02" height="1.66" fill="#f7e21c" shape-rendering="crispEdges"/>
<rect x="1461.79" y="93.85" width="34.02" height="3.32" fill="#ee5424" shape-rendering="crispEdges"/>
<rect x="1461.79" y="97.17" width="34.02" height="1.66" fill="#f5861f" shape-rendering="crispEdges"/>
<rect x="1461.79" y="98.84" width="34.02" height="1.66" fill="#f9f2b4" shape-rendering="crispEdges"/>
<rect x="1461.79" y="151.41" width="34.02" height="2.77" fill="#f5861f" shape-rendering="crispEdges"/>
<rect x="1461.79" y="151.87" width="34.02" height="2.77" fill="#f5861f" shape-rendering="crispEdges"/>
<rect x="1461.79" y="157.41" width="34.02" height="1.66" fill="#f5ea6e" shape-rendering="crispEdges"/>
<rect x="1461.79" y="160.73" width="34.02" height="1.66" fill="#f5ea6e" shape-rendering="crispEdges"/>
<rect x="1461.79" y="185.08" width="34.02" height="3.32" fill="#f9f2b4" shape-rendering="crispEdges"/>
<rect x="1461.79" y="188.4" width="34.02" height="1.66" fill="#f7e21c" shape-rendering="crispEdges"/>
<rect x="1461.79" y="190.06" width="34.02" height="2.77" fill="#ea1f27" shape-rendering="crispEdges"/>
<rect x="1461.79" y="192.83" width="34.02" height="2.77" fill="#ee5424" shape-rendering="crispEdges"/>
<rect x="1461.79" y="234.37" width="34.02" height="2.77" fill="#f7e21c" shape-rendering="crispEdges"/>
<rect x="1461.79" y="252.08" width="34.02" height="2.21" fill="#f5ea6e" shape-rendering="crispEdges"/>
<rect x="1461.79" y="282.29" width="34.02" height="1.88" fill="#f5861f" shape-rendering="crispEdges"/>
<rect x="1461.79" y="285.72" width="34.02" height="2.21" fill="#ee5424" shape-rendering="crispEdges"/>
<rect x="1495.51" y="93.3" width="34.02" height="1.66" fill="#f9f2b4" shape-rendering="crispEdges"/>
<rect x="1495.51" y="94.96" width="34.02" height="1.66" fill="#f5861f" shape-rendering="crispEdges"/>
<rect x="1495.51" y="96.62" width="34.02" height="1.66" fill="#fbbf16" shape-rendering="crispEdges"/>
<rect x="1495.51" y="98.28" width="34.02" height="1.11" fill="#f9f2b4" shape-rendering="crispEdges"/>
<rect x="1495.51" y="151.96" width="34.02" height="2.21" fill="#fbbf16" shape-rendering="crispEdges"/>
<rect x="1495.51" y="152.43" width="34.02" height="1.66" fill="#fbbf16" shape-rendering="crispEdges"/>
<rect x="1495.51" y="156.85" width="34.02" height="2.21" fill="#f9f2b4" shape-rendering="crispEdges"/>
<rect x="1495.51" y="184.52" width="34.02" height="4.98" fill="#f7e21c" shape-rendering="crispEdges"/>
<rect x="1495.51" y="189.51" width="34.02" height="2.21" fill="#ee5424" shape-rendering="crispEdges"/>
<rect x="1495.51" y="191.72" width="34.02" height="1.66" fill="#fbbf16" shape-rendering="crispEdges"/>
<rect x="1495.51" y="193.38" width="34.02" height="2.21" fill="#f5861f" shape-rendering="crispEdges"/>
<rect x="1495.51" y="252.63" width="34.02" height="1.66" fill="#f9f2b4" shape-rendering="crispEdges"/>
<rect x="1495.51" y="282.29" width="34.02" height="1.44" fill="#f7e21c" shape-rendering="crispEdges"/>
<rect x="1495.51" y="285.17" width="34.02" height="1.99" fill="#fbbf16" shape-rendering="crispEdges"/>
<rect x="1529.23" y="93.85" width="34.02" height="2.21" fill="#f7e21c" shape-rendering="crispEdges"/>
<rect x="1529.23" y="96.07" width="34.02" height="1.66" fill="#fbbf16" shape-rendering="crispEdges"/>
<rect x="1529.23" y="97.73" width="34.02" height="1.11" fill="#f5861f" shape-rendering="crispEdges"/>
<rect x="1529.23" y="98.84" width="34.02" height="1.66" fill="#f5ea6e" shape-rendering="crispEdges"/>
<rect x="1529.23" y="151.96" width="34.02" height="2.21" fill="#f5ea6e" shape-rendering="crispEdges"/>
<rect x="1529.23" y="152.43" width="34.02" height="1.66" fill="#f5ea6e" shape-rendering="crispEdges"/>
<rect x="1529.23" y="156.3" width="34.02" height="2.77" fill="#f5ea6e" shape-rendering="crispEdges"/>
<rect x="1529.23" y="183.42" width="34.02" height="2.77" fill="#fbbf16" shape-rendering="crispEdges"/>
<rect x="1529.23" y="186.18" width="34.02" height="3.32" fill="#f7e21c" shape-rendering="crispEdges"/>
<rect x="1529.23" y="189.51" width="34.02" height="2.21" fill="#f5861f" shape-rendering="crispEdges"/>
<rect x="1529.23" y="191.72" width="34.02" height="2.77" fill="#f7e21c" shape-rendering="crispEdges"/>
<rect x="1529.23" y="194.49" width="34.02" height="2.21" fill="#f5861f" shape-rendering="crispEdges"/>
<rect x="1529.23" y="241.01" width="34.02" height="1.66" fill="#fcf9e0" shape-rendering="crispEdges"/>
<rect x="1529.23" y="252.08" width="34.02" height="2.21" fill="#fcf9e0" shape-rendering="crispEdges"/>
<rect x="1529.23" y="282.29" width="34.02" height="1.44" fill="#f7e21c" shape-rendering="crispEdges"/>
<rect x="1529.23" y="285.17" width="34.02" height="2.55" fill="#f5ea6e" shape-rendering="crispEdges"/>
<rect x="1562.95" y="94.41" width="34.02" height="2.21" fill="#f5ea6e" shape-rendering="crispEdges"/>
<rect x="1562.95" y="96.62" width="34.02" height="1.44" fill="#fbbf16" shape-rendering="crispEdges"/>
<rect x="1562.95" y="98.06" width="34.02" height="2.99" fill="#f7e21c" shape-rendering="crispEdges"/>
<rect x="1562.95" y="152.52" width="34.02" height="2.43" fill="#f9f2b4" shape-rendering="crispEdges"/>
<rect x="1562.95" y="152.43" width="34.02" height="1.66" fill="#f9f2b4" shape-rendering="crispEdges"/>
<rect x="1562.95" y="156.3" width="34.02" height="2.77" fill="#f5ea6e" shape-rendering="crispEdges"/>
<rect x="1562.95" y="160.17" width="34.02" height="1.66" fill="#f9f2b4" shape-rendering="crispEdges"/>
<rect x="1562.95" y="183.42" width="34.02" height="2.77" fill="#f5861f" shape-rendering="crispEdges"/>
<rect x="1562.95" y="186.18" width="34.02" height="2.77" fill="#f7e21c" shape-rendering="crispEdges"/>
<rect x="1562.95" y="188.95" width="34.02" height="2.21" fill="#fbbf16" shape-rendering="crispEdges"/>
<rect x="1562.95" y="191.17" width="34.02" height="3.32" fill="#f7e21c" shape-rendering="crispEdges"/>
<rect x="1562.95" y="194.49" width="34.02" height="2.21" fill="#fbbf16" shape-rendering="crispEdges"/>
<rect x="1562.95" y="236.03" width="34.02" height="2.21" fill="#f9f2b4" shape-rendering="crispEdges"/>
<rect x="1562.95" y="241.01" width="34.02" height="2.21" fill="#f5ea6e" shape-rendering="crispEdges"/>
<rect x="1562.95" y="279.19" width="34.02" height="2.21" fill="#f7e21c" shape-rendering="crispEdges"/>
<rect x="1562.95" y="281.41" width="34.02" height="2.21" fill="#fbbf16" shape-rendering="crispEdges"/>
<rect x="1562.95" y="284.18" width="34.02" height="2.77" fill="#f5ea6e" shape-rendering="crispEdges"/>
<rect x="1596.66" y="96.07" width="34.02" height="2.21" fill="#fbbf16" shape-rendering="crispEdges"/>
<rect x="1596.66" y="98.28" width="34.02" height="1.11" fill="#f7e21c" shape-rendering="crispEdges"/>
<rect x="1596.66" y="99.39" width="34.02" height="1.99" fill="#fbbf16" shape-rendering="crispEdges"/>
<rect x="1596.66" y="157.96" width="34.02" height="4.43" fill="#f7e21c" shape-rendering="crispEdges"/>
<rect x="1596.66" y="184.52" width="34.02" height="2.21" fill="#fbbf16" shape-rendering="crispEdges"/>
<rect x="1596.66" y="188.4" width="34.02" height="2.21" fill="#f7e21c" shape-rendering="crispEdges"/>
<rect x="1596.66" y="190.61" width="34.02" height="1.66" fill="#f5861f" shape-rendering="crispEdges"/>
<rect x="1596.66" y="192.27" width="34.02" height="3.87" fill="#f7e21c" shape-rendering="crispEdges"/>
<rect x="1596.66" y="241.01" width="34.02" height="2.21" fill="#f5ea6e" shape-rendering="crispEdges"/>
<rect x="1596.66" y="244.88" width="34.02" height="2.21" fill="#f5ea6e" shape-rendering="crispEdges"/>
<rect x="1596.66" y="276.43" width="34.02" height="1.66" fill="#f7e21c" shape-rendering="crispEdges"/>
<rect x="1596.66" y="279.75" width="34.02" height="1.66" fill="#f7e21c" shape-rendering="crispEdges"/>
<rect x="1596.66" y="281.41" width="34.02" height="2.21" fill="#fbbf16" shape-rendering="crispEdges"/>
<rect x="1630.38" y="96.07" width="34.02" height="1.66" fill="#f5861f" shape-rendering="crispEdges"/>
<rect x="1630.38" y="97.73" width="34.02" height="1.11" fill="#f7e21c" shape-rendering="crispEdges"/>
<rect x="1630.38" y="98.84" width="34.02" height="2.55" fill="#ee5424" shape-rendering="crispEdges"/>
<rect x="1630.38" y="157.96" width="34.02" height="2.21" fill="#fbbf16" shape-rendering="crispEdges"/>
<rect x="1630.38" y="160.17" width="34.02" height="2.21" fill="#f5861f" shape-rendering="crispEdges"/>
<rect x="1630.38" y="184.52" width="34.02" height="2.21" fill="#ee5424" shape-rendering="crispEdges"/>
<rect x="1630.38" y="186.74" width="34.02" height="2.21" fill="#1c0d0d" shape-rendering="crispEdges"/>
<rect x="1630.38" y="188.95" width="34.02" height="1.66" fill="#fbbf16" shape-rendering="crispEdges"/>
<rect x="1630.38" y="190.61" width="34.02" height="2.77" fill="#ee5424" shape-rendering="crispEdges"/>
<rect x="1630.38" y="193.38" width="34.02" height="2.21" fill="#f7e21c" shape-rendering="crispEdges"/>
<rect x="1630.38" y="241.01" width="34.02" height="2.21" fill="#fbbf16" shape-rendering="crispEdges"/>
<rect x="1630.38" y="244.88" width="34.02" height="3.32" fill="#f7e21c" shape-rendering="crispEdges"/>
<rect x="1630.38" y="275.87" width="34.02" height="1.66" fill="#fbbf16" shape-rendering="crispEdges"/>
<rect x="1630.38" y="277.53" width="34.02" height="2.21" fill="#1c0d0d" shape-rendering="crispEdges"/>
<rect x="1630.38" y="279.75" width="34.02" height="1.66" fill="#f7e21c" shape-rendering="crispEdges"/>
<rect x="1630.38" y="281.41" width="34.02" height="2.77" fill="#f5861f" shape-rendering="crispEdges"/>
<polyline points="1292,187.39 1293.85,187.46 1295.71,187.53 1297.56,187.58 1299.42,187.63 1301.27,187.67 1303.13,187.7 1304.98,187.72 1306.84,187.73 1308.69,187.74 1310.55,187.73 1312.4,187.72 1314.25,187.7 1316.11,187.67 1317.96,187.64 1319.82,187.59 1321.67,187.54 1323.53,187.48 1325.38,187.41 1327.24,187.33 1329.09,187.25 1330.94,187.15 1332.8,187.06 1334.65,186.95 1336.51,186.84 1338.36,186.72 1340.22,186.59 1342.07,186.46 1343.93,186.33 1345.78,186.19 1347.63,186.04 1349.49,185.89 1351.34,185.73 1353.2,185.57 1355.05,185.41 1356.91,185.24 1358.76,185.07 1360.62,184.89 1362.47,184.72 1364.33,184.54 1366.18,184.35 1368.03,184.17 1369.89,183.98 1371.74,183.8 1373.6,183.61 1375.45,183.42 1377.31,183.23 1379.16,183.03 1381.02,182.84 1382.87,182.65 1384.72,182.46 1386.58,182.27 1388.43,182.08 1390.29,181.89 1392.14,181.7 1394,181.52 1395.85,181.33 1397.71,181.15 1399.56,180.96 1401.42,180.78 1403.27,180.61 1405.12,180.43 1406.98,180.26 1408.83,180.09 1410.69,179.92 1412.54,179.75 1414.4,179.59 1416.25,179.43 1418.11,179.28 1419.96,179.13 1421.82,178.98 1423.67,178.84 1425.52,178.69 1427.38,178.56 1429.23,178.43 1431.09,178.3 1432.94,178.17 1434.8,178.05 1436.65,177.94 1438.51,177.83 1440.36,177.72 1442.21,177.62 1444.07,177.52 1445.92,177.43 1447.78,177.35 1449.63,177.26 1451.49,177.19 1453.34,177.12 1455.2,177.05 1457.05,176.99 1458.9,176.93 1460.76,176.88 1462.61,176.83 1464.47,176.79 1466.32,176.76 1468.18,176.73 1470.03,176.71 1471.89,176.69 1473.74,176.67 1475.6,176.66 1477.45,176.66 1479.3,176.66 1481.16,176.67 1483.01,176.69 1484.87,176.71 1486.72,176.73 1488.58,176.76 1490.43,176.79 1492.29,176.83 1494.14,176.88 1495.99,176.93 1497.85,176.99 1499.7,177.05 1501.56,177.12 1503.41,177.19 1505.27,177.26 1507.12,177.35 1508.98,177.43 1510.83,177.52 1512.69,177.62 1514.54,177.72 1516.39,177.83 1518.25,177.94 1520.1,178.05 1521.96,178.17 1523.81,178.3 1525.67,178.43 1527.52,178.56 1529.38,178.69 1531.23,178.84 1533.09,178.98 1534.94,179.13 1536.79,179.28 1538.65,179.43 1540.5,179.59 1542.36,179.75 1544.21,179.92 1546.07,180.09 1547.92,180.26 1549.78,180.43 1551.63,180.61 1553.48,180.78 1555.34,180.96 1557.19,181.15 1559.05,181.33 1560.9,181.52 1562.76,181.7 1564.61,181.89 1566.47,182.08 1568.32,182.27 1570.17,182.46 1572.03,182.65 1573.88,182.84 1575.74,183.03 1577.59,183.23 1579.45,183.42 1581.3,183.61 1583.16,183.8 1585.01,183.98 1586.87,184.17 1588.72,184.35 1590.57,184.54 1592.43,184.72 1594.28,184.89 1596.14,185.07 1597.99,185.24 1599.85,185.41 1601.7,185.57 1603.56,185.73 1605.41,185.89 1607.26,186.04 1609.12,186.19 1610.97,186.33 1612.83,186.46 1614.68,186.59 1616.54,186.72 1618.39,186.84 1620.25,186.95 1622.1,187.06 1623.96,187.15 1625.81,187.25 1627.66,187.33 1629.52,187.41 1631.37,187.48 1633.23,187.54 1635.08,187.59 1636.94,187.64 1638.79,187.67 1640.65,187.7 1642.5,187.72 1644.36,187.73 1646.21,187.74 1648.06,187.73 1649.92,187.72 1651.77,187.7 1653.63,187.67 1655.48,187.63 1657.34,187.58 1659.19,187.53 1661.05,187.46 1662.9,187.39" fill="none" stroke="#1d1a1b" stroke-width="2.5"/>
<polyline points="1292,227.57 1293.85,227.5 1295.71,227.44 1297.56,227.38 1299.42,227.34 1301.27,227.3 1303.13,227.27 1304.98,227.25 1306.84,227.23 1308.69,227.23 1310.55,227.23 1312.4,227.24 1314.25,227.26 1316.11,227.29 1317.96,227.33 1319.82,227.37 1321.67,227.43 1323.53,227.49 1325.38,227.56 1327.24,227.63 1329.09,227.72 1330.94,227.81 1332.8,227.91 1334.65,228.01 1336.51,228.13 1338.36,228.25 1340.22,228.37 1342.07,228.5 1343.93,228.64 1345.78,228.78 1347.63,228.93 1349.49,229.08 1351.34,229.23 1353.2,229.39 1355.05,229.56 1356.91,229.73 1358.76,229.9 1360.62,230.07 1362.47,230.25 1364.33,230.43 1366.18,230.61 1368.03,230.8 1369.89,230.98 1371.74,231.17 1373.6,231.36 1375.45,231.55 1377.31,231.74 1379.16,231.93 1381.02,232.12 1382.87,232.31 1384.72,232.5 1386.58,232.69 1388.43,232.88 1390.29,233.07 1392.14,233.26 1394,233.45 1395.85,233.63 1397.71,233.82 1399.56,234 1401.42,234.18 1403.27,234.36 1405.12,234.53 1406.98,234.71 1408.83,234.88 1410.69,235.05 1412.54,235.21 1414.4,235.37 1416.25,235.53 1418.11,235.69 1419.96,235.84 1421.82,235.99 1423.67,236.13 1425.52,236.27 1427.38,236.41 1429.23,236.54 1431.09,236.67 1432.94,236.79 1434.8,236.91 1436.65,237.03 1438.51,237.14 1440.36,237.24 1442.21,237.34 1444.07,237.44 1445.92,237.53 1447.78,237.62 1449.63,237.7 1451.49,237.78 1453.34,237.85 1455.2,237.92 1457.05,237.98 1458.9,238.03 1460.76,238.08 1462.61,238.13 1464.47,238.17 1466.32,238.21 1468.18,238.24 1470.03,238.26 1471.89,238.28 1473.74,238.29 1475.6,238.3 1477.45,238.3 1479.3,238.3 1481.16,238.29 1483.01,238.28 1484.87,238.26 1486.72,238.24 1488.58,238.21 1490.43,238.17 1492.29,238.13 1494.14,238.08 1495.99,238.03 1497.85,237.98 1499.7,237.92 1501.56,237.85 1503.41,237.78 1505.27,237.7 1507.12,237.62 1508.98,237.53 1510.83,237.44 1512.69,237.34 1514.54,237.24 1516.39,237.14 1518.25,237.03 1520.1,236.91 1521.96,236.79 1523.81,236.67 1525.67,236.54 1527.52,236.41 1529.38,236.27 1531.23,236.13 1533.09,235.99 1534.94,235.84 1536.79,235.69 1538.65,235.53 1540.5,235.37 1542.36,235.21 1544.21,235.05 1546.07,234.88 1547.92,234.71 1549.78,234.53 1551.63,234.36 1553.48,234.18 1555.34,234 1557.19,233.82 1559.05,233.63 1560.9,233.45 1562.76,233.26 1564.61,233.07 1566.47,232.88 1568.32,232.69 1570.17,232.5 1572.03,232.31 1573.88,232.12 1575.74,231.93 1577.59,231.74 1579.45,231.55 1581.3,231.36 1583.16,231.17 1585.01,230.98 1586.87,230.8 1588.72,230.61 1590.57,230.43 1592.43,230.25 1594.28,230.07 1596.14,229.9 1597.99,229.73 1599.85,229.56 1601.7,229.39 1603.56,229.23 1605.41,229.08 1607.26,228.93 1609.12,228.78 1610.97,228.64 1612.83,228.5 1614.68,228.37 1616.54,228.25 1618.39,228.13 1620.25,228.01 1622.1,227.91 1623.96,227.81 1625.81,227.72 1627.66,227.63 1629.52,227.56 1631.37,227.49 1633.23,227.43 1635.08,227.37 1636.94,227.33 1638.79,227.29 1640.65,227.26 1642.5,227.24 1644.36,227.23 1646.21,227.23 1648.06,227.23 1649.92,227.25 1651.77,227.27 1653.63,227.3 1655.48,227.34 1657.34,227.38 1659.19,227.44 1661.05,227.5 1662.9,227.57" fill="none" stroke="#1d1a1b" stroke-width="2.5"/>
<line x1="1292" y1="278.3" x2="1662.9" y2="278.3" stroke="#1d1a1b" stroke-width="2.5"/>
<circle cx="1410.01" cy="278.3" r="4.5" fill="#1d1a1b"/>
<circle cx="1443.73" cy="278.3" r="4.5" fill="#1d1a1b"/>
<circle cx="1477.45" cy="278.3" r="4.5" fill="#1d1a1b"/>
<circle cx="1511.17" cy="278.3" r="4.5" fill="#1d1a1b"/>
<circle cx="1544.89" cy="278.3" r="4.5" fill="#1d1a1b"/>
</g>
<rect x="1292" y="59.4" width="370.9" height="248.95" fill="none" stroke="#1d1a1b" stroke-width="2.1"/>
<line x1="1284" y1="274.01" x2="1292" y2="274.01" stroke="#1d1a1b" stroke-width="2.0"/>
<text x="1277" y="284.01" text-anchor="end" class="tk">0</text>
<line x1="1284" y1="188.17" x2="1292" y2="188.17" stroke="#1d1a1b" stroke-width="2.0"/>
<text x="1277" y="198.17" text-anchor="end" class="tk">10</text>
<line x1="1284" y1="102.32" x2="1292" y2="102.32" stroke="#1d1a1b" stroke-width="2.0"/>
<text x="1277" y="112.32" text-anchor="end" class="tk">20</text>
<g clip-path="url(#clip31)">
<rect x="1292" y="540.3" width="370.9" height="18.6" fill="url(#gn)"/>
<rect x="1293.2" y="536.6" width="33.72" height="26" fill="url(#gw)"/>
<rect x="1461.79" y="536.6" width="33.72" height="26" fill="url(#gw)"/>
<rect x="1630.38" y="536.6" width="33.72" height="26" fill="url(#gw)"/>
<polyline points="1292,345.72 1293.85,345.85 1295.71,345.96 1297.56,346.06 1299.42,346.14 1301.27,346.21 1303.13,346.27 1304.98,346.31 1306.84,346.33 1308.69,346.34 1310.55,346.33 1312.4,346.31 1314.25,346.28 1316.11,346.22 1317.96,346.16 1319.82,346.07 1321.67,345.98 1323.53,345.87 1325.38,345.74 1327.24,345.6 1329.09,345.45 1330.94,345.28 1332.8,345.1 1334.65,344.91 1336.51,344.71 1338.36,344.49 1340.22,344.27 1342.07,344.03 1343.93,343.78 1345.78,343.53 1347.63,343.26 1349.49,342.99 1351.34,342.7 1353.2,342.41 1355.05,342.12 1356.91,341.81 1358.76,341.5 1360.62,341.18 1362.47,340.86 1364.33,340.54 1366.18,340.21 1368.03,339.87 1369.89,339.53 1371.74,339.19 1373.6,338.85 1375.45,338.51 1377.31,338.16 1379.16,337.82 1381.02,337.47 1382.87,337.12 1384.72,336.78 1386.58,336.43 1388.43,336.09 1390.29,335.74 1392.14,335.4 1394,335.06 1395.85,334.73 1397.71,334.39 1399.56,334.06 1401.42,333.74 1403.27,333.41 1405.12,333.1 1406.98,332.78 1408.83,332.47 1410.69,332.17 1412.54,331.87 1414.4,331.58 1416.25,331.29 1418.11,331.01 1419.96,330.73 1421.82,330.47 1423.67,330.2 1425.52,329.95 1427.38,329.7 1429.23,329.46 1431.09,329.23 1432.94,329.01 1434.8,328.79 1436.65,328.58 1438.51,328.38 1440.36,328.19 1442.21,328 1444.07,327.83 1445.92,327.66 1447.78,327.51 1449.63,327.36 1451.49,327.22 1453.34,327.09 1455.2,326.97 1457.05,326.86 1458.9,326.75 1460.76,326.66 1462.61,326.58 1464.47,326.51 1466.32,326.44 1468.18,326.39 1470.03,326.34 1471.89,326.31 1473.74,326.28 1475.6,326.27 1477.45,326.27 1479.3,326.27 1481.16,326.28 1483.01,326.31 1484.87,326.34 1486.72,326.39 1488.58,326.44 1490.43,326.51 1492.29,326.58 1494.14,326.66 1495.99,326.75 1497.85,326.86 1499.7,326.97 1501.56,327.09 1503.41,327.22 1505.27,327.36 1507.12,327.51 1508.98,327.66 1510.83,327.83 1512.69,328 1514.54,328.19 1516.39,328.38 1518.25,328.58 1520.1,328.79 1521.96,329.01 1523.81,329.23 1525.67,329.46 1527.52,329.7 1529.38,329.95 1531.23,330.2 1533.09,330.47 1534.94,330.73 1536.79,331.01 1538.65,331.29 1540.5,331.58 1542.36,331.87 1544.21,332.17 1546.07,332.47 1547.92,332.78 1549.78,333.1 1551.63,333.41 1553.48,333.74 1555.34,334.06 1557.19,334.39 1559.05,334.73 1560.9,335.06 1562.76,335.4 1564.61,335.74 1566.47,336.09 1568.32,336.43 1570.17,336.78 1572.03,337.12 1573.88,337.47 1575.74,337.82 1577.59,338.16 1579.45,338.51 1581.3,338.85 1583.16,339.19 1585.01,339.53 1586.87,339.87 1588.72,340.21 1590.57,340.54 1592.43,340.86 1594.28,341.18 1596.14,341.5 1597.99,341.81 1599.85,342.12 1601.7,342.41 1603.56,342.7 1605.41,342.99 1607.26,343.26 1609.12,343.53 1610.97,343.78 1612.83,344.03 1614.68,344.27 1616.54,344.49 1618.39,344.71 1620.25,344.91 1622.1,345.1 1623.96,345.28 1625.81,345.45 1627.66,345.6 1629.52,345.74 1631.37,345.87 1633.23,345.98 1635.08,346.07 1636.94,346.16 1638.79,346.22 1640.65,346.28 1642.5,346.31 1644.36,346.33 1646.21,346.34 1648.06,346.33 1649.92,346.31 1651.77,346.27 1653.63,346.21 1655.48,346.14 1657.34,346.06 1659.19,345.96 1661.05,345.85 1662.9,345.72" fill="none" stroke="#1d1a1b" stroke-width="2.5"/>
<polyline points="1292,418.54 1293.85,418.41 1295.71,418.3 1297.56,418.2 1299.42,418.11 1301.27,418.04 1303.13,417.99 1304.98,417.95 1306.84,417.92 1308.69,417.91 1310.55,417.92 1312.4,417.94 1314.25,417.98 1316.11,418.03 1317.96,418.1 1319.82,418.18 1321.67,418.28 1323.53,418.39 1325.38,418.51 1327.24,418.65 1329.09,418.81 1330.94,418.97 1332.8,419.15 1334.65,419.34 1336.51,419.55 1338.36,419.76 1340.22,419.99 1342.07,420.22 1343.93,420.47 1345.78,420.73 1347.63,420.99 1349.49,421.27 1351.34,421.55 1353.2,421.84 1355.05,422.14 1356.91,422.44 1358.76,422.75 1360.62,423.07 1362.47,423.39 1364.33,423.72 1366.18,424.05 1368.03,424.38 1369.89,424.72 1371.74,425.06 1373.6,425.4 1375.45,425.75 1377.31,426.09 1379.16,426.44 1381.02,426.79 1382.87,427.13 1384.72,427.48 1386.58,427.82 1388.43,428.17 1390.29,428.51 1392.14,428.85 1394,429.19 1395.85,429.53 1397.71,429.86 1399.56,430.19 1401.42,430.52 1403.27,430.84 1405.12,431.16 1406.98,431.47 1408.83,431.78 1410.69,432.09 1412.54,432.38 1414.4,432.68 1416.25,432.97 1418.11,433.25 1419.96,433.52 1421.82,433.79 1423.67,434.05 1425.52,434.3 1427.38,434.55 1429.23,434.79 1431.09,435.02 1432.94,435.25 1434.8,435.47 1436.65,435.67 1438.51,435.87 1440.36,436.07 1442.21,436.25 1444.07,436.43 1445.92,436.59 1447.78,436.75 1449.63,436.9 1451.49,437.04 1453.34,437.17 1455.2,437.29 1457.05,437.4 1458.9,437.5 1460.76,437.59 1462.61,437.68 1464.47,437.75 1466.32,437.81 1468.18,437.87 1470.03,437.91 1471.89,437.95 1473.74,437.97 1475.6,437.98 1477.45,437.99 1479.3,437.98 1481.16,437.97 1483.01,437.95 1484.87,437.91 1486.72,437.87 1488.58,437.81 1490.43,437.75 1492.29,437.68 1494.14,437.59 1495.99,437.5 1497.85,437.4 1499.7,437.29 1501.56,437.17 1503.41,437.04 1505.27,436.9 1507.12,436.75 1508.98,436.59 1510.83,436.43 1512.69,436.25 1514.54,436.07 1516.39,435.87 1518.25,435.67 1520.1,435.47 1521.96,435.25 1523.81,435.02 1525.67,434.79 1527.52,434.55 1529.38,434.3 1531.23,434.05 1533.09,433.79 1534.94,433.52 1536.79,433.25 1538.65,432.97 1540.5,432.68 1542.36,432.38 1544.21,432.09 1546.07,431.78 1547.92,431.47 1549.78,431.16 1551.63,430.84 1553.48,430.52 1555.34,430.19 1557.19,429.86 1559.05,429.53 1560.9,429.19 1562.76,428.85 1564.61,428.51 1566.47,428.17 1568.32,427.82 1570.17,427.48 1572.03,427.13 1573.88,426.79 1575.74,426.44 1577.59,426.09 1579.45,425.75 1581.3,425.4 1583.16,425.06 1585.01,424.72 1586.87,424.38 1588.72,424.05 1590.57,423.72 1592.43,423.39 1594.28,423.07 1596.14,422.75 1597.99,422.44 1599.85,422.14 1601.7,421.84 1603.56,421.55 1605.41,421.27 1607.26,420.99 1609.12,420.73 1610.97,420.47 1612.83,420.22 1614.68,419.99 1616.54,419.76 1618.39,419.55 1620.25,419.34 1622.1,419.15 1623.96,418.97 1625.81,418.81 1627.66,418.65 1629.52,418.51 1631.37,418.39 1633.23,418.28 1635.08,418.18 1636.94,418.1 1638.79,418.03 1640.65,417.98 1642.5,417.94 1644.36,417.92 1646.21,417.91 1648.06,417.92 1649.92,417.95 1651.77,417.99 1653.63,418.04 1655.48,418.11 1657.34,418.2 1659.19,418.3 1661.05,418.41 1662.9,418.54" fill="none" stroke="#1d1a1b" stroke-width="2.5"/>
<line x1="1292" y1="510.49" x2="1662.9" y2="510.49" stroke="#1d1a1b" stroke-width="2.5"/>
<circle cx="1410.01" cy="510.49" r="4.5" fill="#1d1a1b"/>
<circle cx="1443.73" cy="510.49" r="4.5" fill="#1d1a1b"/>
<circle cx="1477.45" cy="510.49" r="4.5" fill="#1d1a1b"/>
<circle cx="1511.17" cy="510.49" r="4.5" fill="#1d1a1b"/>
<circle cx="1544.89" cy="510.49" r="4.5" fill="#1d1a1b"/>
</g>
<rect x="1292" y="316" width="370.9" height="248.95" fill="none" stroke="#1d1a1b" stroke-width="2.1"/>
<line x1="1284" y1="549.39" x2="1292" y2="549.39" stroke="#1d1a1b" stroke-width="2.0"/>
<text x="1277" y="559.39" text-anchor="end" class="tk">−3</text>
<line x1="1284" y1="502.71" x2="1292" y2="502.71" stroke="#1d1a1b" stroke-width="2.0"/>
<text x="1277" y="512.71" text-anchor="end" class="tk">0</text>
<line x1="1284" y1="456.03" x2="1292" y2="456.03" stroke="#1d1a1b" stroke-width="2.0"/>
<text x="1277" y="466.03" text-anchor="end" class="tk">3</text>
<line x1="1284" y1="409.36" x2="1292" y2="409.36" stroke="#1d1a1b" stroke-width="2.0"/>
<text x="1277" y="419.36" text-anchor="end" class="tk">6</text>
<line x1="1284" y1="362.68" x2="1292" y2="362.68" stroke="#1d1a1b" stroke-width="2.0"/>
<text x="1277" y="372.68" text-anchor="end" class="tk">9</text>
<g clip-path="url(#clip32)">
<rect x="1293.2" y="664.96" width="34.02" height="2.21" fill="#f5861f" shape-rendering="crispEdges"/>
<rect x="1293.2" y="667.17" width="34.02" height="2.21" fill="#f7e21c" shape-rendering="crispEdges"/>
<rect x="1293.2" y="669.39" width="34.02" height="2.77" fill="#ea1f27" shape-rendering="crispEdges"/>
<rect x="1293.2" y="672.16" width="34.02" height="1.66" fill="#f7e21c" shape-rendering="crispEdges"/>
<rect x="1293.2" y="677.14" width="34.02" height="1.66" fill="#f5ea6e" shape-rendering="crispEdges"/>
<rect x="1293.2" y="678.8" width="34.02" height="2.77" fill="#f5ea6e" shape-rendering="crispEdges"/>
<rect x="1293.2" y="702.04" width="34.02" height="2.77" fill="#f5861f" shape-rendering="crispEdges"/>
<rect x="1293.2" y="704.81" width="34.02" height="3.32" fill="#f7e21c" shape-rendering="crispEdges"/>
<rect x="1293.2" y="760.95" width="34.02" height="2.21" fill="#f5861f" shape-rendering="crispEdges"/>
<rect x="1293.2" y="763.17" width="34.02" height="2.77" fill="#ea1f27" shape-rendering="crispEdges"/>
<rect x="1293.2" y="765.93" width="34.02" height="1.66" fill="#f7e21c" shape-rendering="crispEdges"/>
<rect x="1326.92" y="665.51" width="34.02" height="1.66" fill="#fbbf16" shape-rendering="crispEdges"/>
<rect x="1326.92" y="667.17" width="34.02" height="2.21" fill="#f5ea6e" shape-rendering="crispEdges"/>
<rect x="1326.92" y="669.39" width="34.02" height="2.21" fill="#f5861f" shape-rendering="crispEdges"/>
<rect x="1326.92" y="671.6" width="34.02" height="1.66" fill="#f9f2b4" shape-rendering="crispEdges"/>
<rect x="1326.92" y="677.14" width="34.02" height="4.43" fill="#f9f2b4" shape-rendering="crispEdges"/>
<rect x="1326.92" y="702.59" width="34.02" height="2.21" fill="#fbbf16" shape-rendering="crispEdges"/>
<rect x="1326.92" y="704.81" width="34.02" height="3.87" fill="#f5ea6e" shape-rendering="crispEdges"/>
<rect x="1326.92" y="754.31" width="34.02" height="3.32" fill="#fcf9e0" shape-rendering="crispEdges"/>
<rect x="1326.92" y="758.18" width="34.02" height="3.32" fill="#f7e21c" shape-rendering="crispEdges"/>
<rect x="1326.92" y="761.51" width="34.02" height="2.21" fill="#ee5424" shape-rendering="crispEdges"/>
<rect x="1326.92" y="763.72" width="34.02" height="3.32" fill="#fbbf16" shape-rendering="crispEdges"/>
<rect x="1360.64" y="665.51" width="34.02" height="1.66" fill="#fbbf16" shape-rendering="crispEdges"/>
<rect x="1360.64" y="667.17" width="34.02" height="2.21" fill="#f5ea6e" shape-rendering="crispEdges"/>
<rect x="1360.64" y="669.39" width="34.02" height="3.32" fill="#f5861f" shape-rendering="crispEdges"/>
<rect x="1360.64" y="672.71" width="34.02" height="2.77" fill="#f7e21c" shape-rendering="crispEdges"/>
<rect x="1360.64" y="678.24" width="34.02" height="3.32" fill="#f5ea6e" shape-rendering="crispEdges"/>
<rect x="1360.64" y="702.59" width="34.02" height="2.21" fill="#f5ea6e" shape-rendering="crispEdges"/>
<rect x="1360.64" y="705.91" width="34.02" height="3.32" fill="#f7e21c" shape-rendering="crispEdges"/>
<rect x="1360.64" y="749.33" width="34.02" height="1.66" fill="#f9f2b4" shape-rendering="crispEdges"/>
<rect x="1360.64" y="752.65" width="34.02" height="3.32" fill="#f5ea6e" shape-rendering="crispEdges"/>
<rect x="1360.64" y="757.63" width="34.02" height="4.98" fill="#fbbf16" shape-rendering="crispEdges"/>
<rect x="1360.64" y="762.61" width="34.02" height="3.87" fill="#f5861f" shape-rendering="crispEdges"/>
<rect x="1360.64" y="795.38" width="34.02" height="1.44" fill="#f9f2b4" shape-rendering="crispEdges"/>
<rect x="1394.35" y="608.28" width="34.02" height="2.21" fill="#fcf9e0" shape-rendering="crispEdges"/>
<rect x="1394.35" y="665.51" width="34.02" height="1.66" fill="#fbbf16" shape-rendering="crispEdges"/>
<rect x="1394.35" y="667.17" width="34.02" height="2.21" fill="#f9f2b4" shape-rendering="crispEdges"/>
<rect x="1394.35" y="669.39" width="34.02" height="2.21" fill="#f7e21c" shape-rendering="crispEdges"/>
<rect x="1394.35" y="671.6" width="34.02" height="3.32" fill="#fbbf16" shape-rendering="crispEdges"/>
<rect x="1394.35" y="679.35" width="34.02" height="3.32" fill="#f7e21c" shape-rendering="crispEdges"/>
<rect x="1394.35" y="703.15" width="34.02" height="1.66" fill="#f9f2b4" shape-rendering="crispEdges"/>
<rect x="1394.35" y="707.02" width="34.02" height="2.21" fill="#f5ea6e" shape-rendering="crispEdges"/>
<rect x="1394.35" y="748.22" width="34.02" height="3.87" fill="#f5ea6e" shape-rendering="crispEdges"/>
<rect x="1394.35" y="753.2" width="34.02" height="3.32" fill="#fbbf16" shape-rendering="crispEdges"/>
<rect x="1394.35" y="757.63" width="34.02" height="2.21" fill="#fbbf16" shape-rendering="crispEdges"/>
<rect x="1394.35" y="759.85" width="34.02" height="2.77" fill="#f9f2b4" shape-rendering="crispEdges"/>
<rect x="1394.35" y="762.61" width="34.02" height="3.87" fill="#f7e21c" shape-rendering="crispEdges"/>
<rect x="1394.35" y="795.38" width="34.02" height="1.44" fill="#f5ea6e" shape-rendering="crispEdges"/>
<rect x="1394.35" y="799.26" width="34.02" height="1.55" fill="#f9f2b4" shape-rendering="crispEdges"/>
<rect x="1428.07" y="607.73" width="34.02" height="3.32" fill="#f9f2b4" shape-rendering="crispEdges"/>
<rect x="1428.07" y="665.51" width="34.02" height="1.66" fill="#fbbf16" shape-rendering="crispEdges"/>
<rect x="1428.07" y="667.17" width="34.02" height="2.77" fill="#f9f2b4" shape-rendering="crispEdges"/>
<rect x="1428.07" y="669.94" width="34.02" height="4.43" fill="#f7e21c" shape-rendering="crispEdges"/>
<rect x="1428.07" y="674.37" width="34.02" height="1.66" fill="#fbbf16" shape-rendering="crispEdges"/>
<rect x="1428.07" y="679.9" width="34.02" height="2.77" fill="#fbbf16" shape-rendering="crispEdges"/>
<rect x="1428.07" y="703.15" width="34.02" height="1.66" fill="#f9f2b4" shape-rendering="crispEdges"/>
<rect x="1428.07" y="747.67" width="34.02" height="2.21" fill="#f7e21c" shape-rendering="crispEdges"/>
<rect x="1428.07" y="753.76" width="34.02" height="2.21" fill="#f5861f" shape-rendering="crispEdges"/>
<rect x="1428.07" y="755.97" width="34.02" height="2.77" fill="#f5ea6e" shape-rendering="crispEdges"/>
<rect x="1428.07" y="759.85" width="34.02" height="2.77" fill="#fcf9e0" shape-rendering="crispEdges"/>
<rect x="1428.07" y="762.61" width="34.02" height="2.77" fill="#f7e21c" shape-rendering="crispEdges"/>
<rect x="1428.07" y="765.38" width="34.02" height="1.66" fill="#fbbf16" shape-rendering="crispEdges"/>
<rect x="1428.07" y="795.38" width="34.02" height="1.44" fill="#f5ea6e" shape-rendering="crispEdges"/>
<rect x="1428.07" y="798.82" width="34.02" height="1.99" fill="#f7e21c" shape-rendering="crispEdges"/>
<rect x="1461.79" y="607.17" width="34.02" height="4.43" fill="#f5ea6e" shape-rendering="crispEdges"/>
<rect x="1461.79" y="664.96" width="34.02" height="2.21" fill="#f5861f" shape-rendering="crispEdges"/>
<rect x="1461.79" y="667.17" width="34.02" height="3.32" fill="#f5ea6e" shape-rendering="crispEdges"/>
<rect x="1461.79" y="670.5" width="34.02" height="2.21" fill="#f5861f" shape-rendering="crispEdges"/>
<rect x="1461.79" y="672.71" width="34.02" height="3.32" fill="#ee5424" shape-rendering="crispEdges"/>
<rect x="1461.79" y="676.03" width="34.02" height="3.87" fill="#f5ea6e" shape-rendering="crispEdges"/>
<rect x="1461.79" y="679.9" width="34.02" height="3.32" fill="#f5861f" shape-rendering="crispEdges"/>
<rect x="1461.79" y="702.59" width="34.02" height="2.21" fill="#f5ea6e" shape-rendering="crispEdges"/>
<rect x="1461.79" y="746.56" width="34.02" height="2.21" fill="#f5861f" shape-rendering="crispEdges"/>
<rect x="1461.79" y="748.78" width="34.02" height="3.32" fill="#f5861f" shape-rendering="crispEdges"/>
<rect x="1461.79" y="753.76" width="34.02" height="2.77" fill="#ee5424" shape-rendering="crispEdges"/>
<rect x="1461.79" y="756.52" width="34.02" height="2.21" fill="#f9f2b4" shape-rendering="crispEdges"/>
<rect x="1461.79" y="759.85" width="34.02" height="3.32" fill="#f7e21c" shape-rendering="crispEdges"/>
<rect x="1461.79" y="763.17" width="34.02" height="3.87" fill="#ee5424" shape-rendering="crispEdges"/>
<rect x="1461.79" y="795.38" width="34.02" height="1.88" fill="#f5ea6e" shape-rendering="crispEdges"/>
<rect x="1461.79" y="798.26" width="34.02" height="2.55" fill="#fbbf16" shape-rendering="crispEdges"/>
<rect x="1495.51" y="607.73" width="34.02" height="3.32" fill="#f9f2b4" shape-rendering="crispEdges"/>
<rect x="1495.51" y="665.51" width="34.02" height="1.66" fill="#fbbf16" shape-rendering="crispEdges"/>
<rect x="1495.51" y="667.17" width="34.02" height="2.77" fill="#f9f2b4" shape-rendering="crispEdges"/>
<rect x="1495.51" y="669.94" width="34.02" height="4.43" fill="#f7e21c" shape-rendering="crispEdges"/>
<rect x="1495.51" y="674.37" width="34.02" height="1.66" fill="#fbbf16" shape-rendering="crispEdges"/>
<rect x="1495.51" y="679.9" width="34.02" height="2.77" fill="#fbbf16" shape-rendering="crispEdges"/>
<rect x="1495.51" y="703.15" width="34.02" height="1.66" fill="#f9f2b4" shape-rendering="crispEdges"/>
<rect x="1495.51" y="747.67" width="34.02" height="2.21" fill="#f7e21c" shape-rendering="crispEdges"/>
<rect x="1495.51" y="753.76" width="34.02" height="2.21" fill="#f5861f" shape-rendering="crispEdges"/>
<rect x="1495.51" y="755.97" width="34.02" height="2.77" fill="#f5ea6e" shape-rendering="crispEdges"/>
<rect x="1495.51" y="759.85" width="34.02" height="2.77" fill="#fcf9e0" shape-rendering="crispEdges"/>
<rect x="1495.51" y="762.61" width="34.02" height="2.77" fill="#f7e21c" shape-rendering="crispEdges"/>
<rect x="1495.51" y="765.38" width="34.02" height="1.66" fill="#fbbf16" shape-rendering="crispEdges"/>
<rect x="1495.51" y="795.38" width="34.02" height="1.44" fill="#f5ea6e" shape-rendering="crispEdges"/>
<rect x="1495.51" y="798.82" width="34.02" height="1.99" fill="#f7e21c" shape-rendering="crispEdges"/>
<rect x="1529.23" y="608.28" width="34.02" height="2.21" fill="#fcf9e0" shape-rendering="crispEdges"/>
<rect x="1529.23" y="665.51" width="34.02" height="1.66" fill="#fbbf16" shape-rendering="crispEdges"/>
<rect x="1529.23" y="667.17" width="34.02" height="2.21" fill="#f9f2b4" shape-rendering="crispEdges"/>
<rect x="1529.23" y="669.39" width="34.02" height="2.21" fill="#f7e21c" shape-rendering="crispEdges"/>
<rect x="1529.23" y="671.6" width="34.02" height="3.32" fill="#fbbf16" shape-rendering="crispEdges"/>
<rect x="1529.23" y="679.35" width="34.02" height="3.32" fill="#f7e21c" shape-rendering="crispEdges"/>
<rect x="1529.23" y="703.15" width="34.02" height="1.66" fill="#f9f2b4" shape-rendering="crispEdges"/>
<rect x="1529.23" y="707.02" width="34.02" height="2.21" fill="#f5ea6e" shape-rendering="crispEdges"/>
<rect x="1529.23" y="748.22" width="34.02" height="3.87" fill="#f5ea6e" shape-rendering="crispEdges"/>
<rect x="1529.23" y="753.2" width="34.02" height="3.32" fill="#fbbf16" shape-rendering="crispEdges"/>
<rect x="1529.23" y="757.63" width="34.02" height="2.21" fill="#fbbf16" shape-rendering="crispEdges"/>
<rect x="1529.23" y="759.85" width="34.02" height="2.77" fill="#f9f2b4" shape-rendering="crispEdges"/>
<rect x="1529.23" y="762.61" width="34.02" height="3.87" fill="#f7e21c" shape-rendering="crispEdges"/>
<rect x="1529.23" y="795.38" width="34.02" height="1.44" fill="#f5ea6e" shape-rendering="crispEdges"/>
<rect x="1529.23" y="799.26" width="34.02" height="1.55" fill="#f9f2b4" shape-rendering="crispEdges"/>
<rect x="1562.95" y="665.51" width="34.02" height="1.66" fill="#fbbf16" shape-rendering="crispEdges"/>
<rect x="1562.95" y="667.17" width="34.02" height="2.21" fill="#f5ea6e" shape-rendering="crispEdges"/>
<rect x="1562.95" y="669.39" width="34.02" height="3.32" fill="#f5861f" shape-rendering="crispEdges"/>
<rect x="1562.95" y="672.71" width="34.02" height="2.77" fill="#f7e21c" shape-rendering="crispEdges"/>
<rect x="1562.95" y="678.24" width="34.02" height="3.32" fill="#f5ea6e" shape-rendering="crispEdges"/>
<rect x="1562.95" y="702.59" width="34.02" height="2.21" fill="#f5ea6e" shape-rendering="crispEdges"/>
<rect x="1562.95" y="705.91" width="34.02" height="3.32" fill="#f7e21c" shape-rendering="crispEdges"/>
<rect x="1562.95" y="749.33" width="34.02" height="1.66" fill="#f9f2b4" shape-rendering="crispEdges"/>
<rect x="1562.95" y="752.65" width="34.02" height="3.32" fill="#f5ea6e" shape-rendering="crispEdges"/>
<rect x="1562.95" y="757.63" width="34.02" height="4.98" fill="#fbbf16" shape-rendering="crispEdges"/>
<rect x="1562.95" y="762.61" width="34.02" height="3.87" fill="#f5861f" shape-rendering="crispEdges"/>
<rect x="1562.95" y="795.38" width="34.02" height="1.44" fill="#f9f2b4" shape-rendering="crispEdges"/>
<rect x="1596.66" y="665.51" width="34.02" height="1.66" fill="#fbbf16" shape-rendering="crispEdges"/>
<rect x="1596.66" y="667.17" width="34.02" height="2.21" fill="#f5ea6e" shape-rendering="crispEdges"/>
<rect x="1596.66" y="669.39" width="34.02" height="2.21" fill="#f5861f" shape-rendering="crispEdges"/>
<rect x="1596.66" y="671.6" width="34.02" height="1.66" fill="#f9f2b4" shape-rendering="crispEdges"/>
<rect x="1596.66" y="677.14" width="34.02" height="4.43" fill="#f9f2b4" shape-rendering="crispEdges"/>
<rect x="1596.66" y="702.59" width="34.02" height="2.21" fill="#fbbf16" shape-rendering="crispEdges"/>
<rect x="1596.66" y="704.81" width="34.02" height="3.87" fill="#f5ea6e" shape-rendering="crispEdges"/>
<rect x="1596.66" y="754.31" width="34.02" height="3.32" fill="#fcf9e0" shape-rendering="crispEdges"/>
<rect x="1596.66" y="758.18" width="34.02" height="3.32" fill="#f7e21c" shape-rendering="crispEdges"/>
<rect x="1596.66" y="761.51" width="34.02" height="2.21" fill="#ee5424" shape-rendering="crispEdges"/>
<rect x="1596.66" y="763.72" width="34.02" height="3.32" fill="#fbbf16" shape-rendering="crispEdges"/>
<rect x="1630.38" y="664.96" width="34.02" height="2.21" fill="#f5861f" shape-rendering="crispEdges"/>
<rect x="1630.38" y="667.17" width="34.02" height="2.21" fill="#f7e21c" shape-rendering="crispEdges"/>
<rect x="1630.38" y="669.39" width="34.02" height="2.77" fill="#ea1f27" shape-rendering="crispEdges"/>
<rect x="1630.38" y="672.16" width="34.02" height="1.66" fill="#f7e21c" shape-rendering="crispEdges"/>
<rect x="1630.38" y="677.14" width="34.02" height="1.66" fill="#f5ea6e" shape-rendering="crispEdges"/>
<rect x="1630.38" y="678.8" width="34.02" height="2.77" fill="#f5ea6e" shape-rendering="crispEdges"/>
<rect x="1630.38" y="702.04" width="34.02" height="2.77" fill="#f5861f" shape-rendering="crispEdges"/>
<rect x="1630.38" y="704.81" width="34.02" height="3.32" fill="#f7e21c" shape-rendering="crispEdges"/>
<rect x="1630.38" y="760.95" width="34.02" height="2.21" fill="#f5861f" shape-rendering="crispEdges"/>
<rect x="1630.38" y="763.17" width="34.02" height="2.77" fill="#ea1f27" shape-rendering="crispEdges"/>
<rect x="1630.38" y="765.93" width="34.02" height="1.66" fill="#f7e21c" shape-rendering="crispEdges"/>
<polyline points="1292,700.29 1293.85,700.36 1295.71,700.43 1297.56,700.48 1299.42,700.53 1301.27,700.57 1303.13,700.6 1304.98,700.62 1306.84,700.63 1308.69,700.64 1310.55,700.63 1312.4,700.62 1314.25,700.6 1316.11,700.57 1317.96,700.54 1319.82,700.49 1321.67,700.44 1323.53,700.38 1325.38,700.31 1327.24,700.23 1329.09,700.15 1330.94,700.05 1332.8,699.96 1334.65,699.85 1336.51,699.74 1338.36,699.62 1340.22,699.49 1342.07,699.36 1343.93,699.23 1345.78,699.09 1347.63,698.94 1349.49,698.79 1351.34,698.63 1353.2,698.47 1355.05,698.31 1356.91,698.14 1358.76,697.97 1360.62,697.79 1362.47,697.62 1364.33,697.44 1366.18,697.25 1368.03,697.07 1369.89,696.88 1371.74,696.7 1373.6,696.51 1375.45,696.32 1377.31,696.13 1379.16,695.93 1381.02,695.74 1382.87,695.55 1384.72,695.36 1386.58,695.17 1388.43,694.98 1390.29,694.79 1392.14,694.6 1394,694.42 1395.85,694.23 1397.71,694.05 1399.56,693.86 1401.42,693.68 1403.27,693.51 1405.12,693.33 1406.98,693.16 1408.83,692.99 1410.69,692.82 1412.54,692.65 1414.4,692.49 1416.25,692.33 1418.11,692.18 1419.96,692.03 1421.82,691.88 1423.67,691.74 1425.52,691.59 1427.38,691.46 1429.23,691.33 1431.09,691.2 1432.94,691.07 1434.8,690.95 1436.65,690.84 1438.51,690.73 1440.36,690.62 1442.21,690.52 1444.07,690.42 1445.92,690.33 1447.78,690.25 1449.63,690.16 1451.49,690.09 1453.34,690.02 1455.2,689.95 1457.05,689.89 1458.9,689.83 1460.76,689.78 1462.61,689.73 1464.47,689.69 1466.32,689.66 1468.18,689.63 1470.03,689.61 1471.89,689.59 1473.74,689.57 1475.6,689.56 1477.45,689.56 1479.3,689.56 1481.16,689.57 1483.01,689.59 1484.87,689.61 1486.72,689.63 1488.58,689.66 1490.43,689.69 1492.29,689.73 1494.14,689.78 1495.99,689.83 1497.85,689.89 1499.7,689.95 1501.56,690.02 1503.41,690.09 1505.27,690.16 1507.12,690.25 1508.98,690.33 1510.83,690.42 1512.69,690.52 1514.54,690.62 1516.39,690.73 1518.25,690.84 1520.1,690.95 1521.96,691.07 1523.81,691.2 1525.67,691.33 1527.52,691.46 1529.38,691.59 1531.23,691.74 1533.09,691.88 1534.94,692.03 1536.79,692.18 1538.65,692.33 1540.5,692.49 1542.36,692.65 1544.21,692.82 1546.07,692.99 1547.92,693.16 1549.78,693.33 1551.63,693.51 1553.48,693.68 1555.34,693.86 1557.19,694.05 1559.05,694.23 1560.9,694.42 1562.76,694.6 1564.61,694.79 1566.47,694.98 1568.32,695.17 1570.17,695.36 1572.03,695.55 1573.88,695.74 1575.74,695.93 1577.59,696.13 1579.45,696.32 1581.3,696.51 1583.16,696.7 1585.01,696.88 1586.87,697.07 1588.72,697.25 1590.57,697.44 1592.43,697.62 1594.28,697.79 1596.14,697.97 1597.99,698.14 1599.85,698.31 1601.7,698.47 1603.56,698.63 1605.41,698.79 1607.26,698.94 1609.12,699.09 1610.97,699.23 1612.83,699.36 1614.68,699.49 1616.54,699.62 1618.39,699.74 1620.25,699.85 1622.1,699.96 1623.96,700.05 1625.81,700.15 1627.66,700.23 1629.52,700.31 1631.37,700.38 1633.23,700.44 1635.08,700.49 1636.94,700.54 1638.79,700.57 1640.65,700.6 1642.5,700.62 1644.36,700.63 1646.21,700.64 1648.06,700.63 1649.92,700.62 1651.77,700.6 1653.63,700.57 1655.48,700.53 1657.34,700.48 1659.19,700.43 1661.05,700.36 1662.9,700.29" fill="none" stroke="#1d1a1b" stroke-width="2.5"/>
<polyline points="1292,740.47 1293.85,740.4 1295.71,740.34 1297.56,740.28 1299.42,740.24 1301.27,740.2 1303.13,740.17 1304.98,740.15 1306.84,740.13 1308.69,740.13 1310.55,740.13 1312.4,740.14 1314.25,740.16 1316.11,740.19 1317.96,740.23 1319.82,740.27 1321.67,740.33 1323.53,740.39 1325.38,740.46 1327.24,740.53 1329.09,740.62 1330.94,740.71 1332.8,740.81 1334.65,740.91 1336.51,741.03 1338.36,741.15 1340.22,741.27 1342.07,741.4 1343.93,741.54 1345.78,741.68 1347.63,741.83 1349.49,741.98 1351.34,742.13 1353.2,742.29 1355.05,742.46 1356.91,742.63 1358.76,742.8 1360.62,742.97 1362.47,743.15 1364.33,743.33 1366.18,743.51 1368.03,743.7 1369.89,743.88 1371.74,744.07 1373.6,744.26 1375.45,744.45 1377.31,744.64 1379.16,744.83 1381.02,745.02 1382.87,745.21 1384.72,745.4 1386.58,745.59 1388.43,745.78 1390.29,745.97 1392.14,746.16 1394,746.35 1395.85,746.53 1397.71,746.72 1399.56,746.9 1401.42,747.08 1403.27,747.26 1405.12,747.43 1406.98,747.61 1408.83,747.78 1410.69,747.95 1412.54,748.11 1414.4,748.27 1416.25,748.43 1418.11,748.59 1419.96,748.74 1421.82,748.89 1423.67,749.03 1425.52,749.17 1427.38,749.31 1429.23,749.44 1431.09,749.57 1432.94,749.69 1434.8,749.81 1436.65,749.93 1438.51,750.04 1440.36,750.14 1442.21,750.24 1444.07,750.34 1445.92,750.43 1447.78,750.52 1449.63,750.6 1451.49,750.68 1453.34,750.75 1455.2,750.82 1457.05,750.88 1458.9,750.93 1460.76,750.98 1462.61,751.03 1464.47,751.07 1466.32,751.11 1468.18,751.14 1470.03,751.16 1471.89,751.18 1473.74,751.19 1475.6,751.2 1477.45,751.2 1479.3,751.2 1481.16,751.19 1483.01,751.18 1484.87,751.16 1486.72,751.14 1488.58,751.11 1490.43,751.07 1492.29,751.03 1494.14,750.98 1495.99,750.93 1497.85,750.88 1499.7,750.82 1501.56,750.75 1503.41,750.68 1505.27,750.6 1507.12,750.52 1508.98,750.43 1510.83,750.34 1512.69,750.24 1514.54,750.14 1516.39,750.04 1518.25,749.93 1520.1,749.81 1521.96,749.69 1523.81,749.57 1525.67,749.44 1527.52,749.31 1529.38,749.17 1531.23,749.03 1533.09,748.89 1534.94,748.74 1536.79,748.59 1538.65,748.43 1540.5,748.27 1542.36,748.11 1544.21,747.95 1546.07,747.78 1547.92,747.61 1549.78,747.43 1551.63,747.26 1553.48,747.08 1555.34,746.9 1557.19,746.72 1559.05,746.53 1560.9,746.35 1562.76,746.16 1564.61,745.97 1566.47,745.78 1568.32,745.59 1570.17,745.4 1572.03,745.21 1573.88,745.02 1575.74,744.83 1577.59,744.64 1579.45,744.45 1581.3,744.26 1583.16,744.07 1585.01,743.88 1586.87,743.7 1588.72,743.51 1590.57,743.33 1592.43,743.15 1594.28,742.97 1596.14,742.8 1597.99,742.63 1599.85,742.46 1601.7,742.29 1603.56,742.13 1605.41,741.98 1607.26,741.83 1609.12,741.68 1610.97,741.54 1612.83,741.4 1614.68,741.27 1616.54,741.15 1618.39,741.03 1620.25,740.91 1622.1,740.81 1623.96,740.71 1625.81,740.62 1627.66,740.53 1629.52,740.46 1631.37,740.39 1633.23,740.33 1635.08,740.27 1636.94,740.23 1638.79,740.19 1640.65,740.16 1642.5,740.14 1644.36,740.13 1646.21,740.13 1648.06,740.13 1649.92,740.15 1651.77,740.17 1653.63,740.2 1655.48,740.24 1657.34,740.28 1659.19,740.34 1661.05,740.4 1662.9,740.47" fill="none" stroke="#1d1a1b" stroke-width="2.5"/>
<line x1="1292" y1="791.2" x2="1662.9" y2="791.2" stroke="#1d1a1b" stroke-width="2.5"/>
<circle cx="1410.01" cy="791.2" r="4.5" fill="#1d1a1b"/>
<circle cx="1443.73" cy="791.2" r="4.5" fill="#1d1a1b"/>
<circle cx="1477.45" cy="791.2" r="4.5" fill="#1d1a1b"/>
<circle cx="1511.17" cy="791.2" r="4.5" fill="#1d1a1b"/>
<circle cx="1544.89" cy="791.2" r="4.5" fill="#1d1a1b"/>
</g>
<rect x="1292" y="572.3" width="370.9" height="248.95" fill="none" stroke="#1d1a1b" stroke-width="2.1"/>
<line x1="1284" y1="786.91" x2="1292" y2="786.91" stroke="#1d1a1b" stroke-width="2.0"/>
<text x="1277" y="796.91" text-anchor="end" class="tk">0</text>
<line x1="1284" y1="701.07" x2="1292" y2="701.07" stroke="#1d1a1b" stroke-width="2.0"/>
<text x="1277" y="711.07" text-anchor="end" class="tk">10</text>
<line x1="1284" y1="615.22" x2="1292" y2="615.22" stroke="#1d1a1b" stroke-width="2.0"/>
<text x="1277" y="625.22" text-anchor="end" class="tk">20</text>
<line x1="1308.86" y1="821.25" x2="1308.86" y2="829.25" stroke="#1d1a1b" stroke-width="2.0"/>
<line x1="1393.15" y1="821.25" x2="1393.15" y2="829.25" stroke="#1d1a1b" stroke-width="2.0"/>
<line x1="1477.45" y1="821.25" x2="1477.45" y2="829.25" stroke="#1d1a1b" stroke-width="2.0"/>
<line x1="1561.75" y1="821.25" x2="1561.75" y2="829.25" stroke="#1d1a1b" stroke-width="2.0"/>
<line x1="1646.04" y1="821.25" x2="1646.04" y2="829.25" stroke="#1d1a1b" stroke-width="2.0"/>
<text x="1309.16" y="862.3" text-anchor="middle" class="tk">−<tspan class="pi" dy="-1.5">π</tspan></text>
<text x="1477.55" y="862.3" text-anchor="middle" class="tk">0</text>
<text x="1646.34" y="862.3" text-anchor="middle" class="tk"><tspan class="pi" dy="-1.5">π</tspan></text>
<text y="904" class="tl"><tspan x="1451.7" font-style="italic">k</tspan><tspan x="1470.9">·</tspan><tspan x="1489.8" font-style="italic">a</tspan></text>
<text y="42.7" class="tl"><tspan x="249.8" font-style="italic">V</tspan><tspan x="277">=</tspan><tspan x="300.85">1</tspan></text>
<text y="42.7" class="tl"><tspan x="627.1" font-style="italic">V</tspan><tspan x="654.1">=</tspan><tspan x="679.9">2</tspan></text>
<text y="42.7" class="tl"><tspan x="1004.3" font-style="italic">V</tspan><tspan x="1031.3">=</tspan><tspan x="1057.1">4</tspan></text>
<text y="42.9" class="tl"><tspan x="1435.1" font-style="italic">V</tspan><tspan x="1462.1">=</tspan><tspan x="1485.95">1</tspan><tspan x="1505.1">0</tspan></text>
<text x="96.9" y="39.8" class="lt">a</text>
<text x="477" y="39.8" class="lt">b</text>
<text x="856" y="39.8" class="lt">c</text>
<text x="1235" y="39.8" class="lt">d</text>
<text transform="translate(22,257.8) rotate(-90)" class="tl" style="font-size:29.3px"><tspan font-style="italic">E</tspan>/<tspan font-style="italic">t</tspan> <tspan class="sf">(</tspan><tspan class="al">α</tspan> = <tspan font-style="italic">b</tspan><tspan class="sf">)</tspan></text>
<text transform="translate(22,482.5) rotate(-90)" class="tl" style="font-size:29.3px"><tspan font-style="italic">E</tspan>/<tspan font-style="italic">t</tspan> <tspan class="sf">(</tspan><tspan class="al">α</tspan> = −<tspan class="sf">)</tspan></text>
<text transform="translate(22,759.9) rotate(-90)" class="tl" style="font-size:29.3px"><tspan font-style="italic">E</tspan>/<tspan font-style="italic">t</tspan> <tspan class="sf">(</tspan><tspan class="al">α</tspan> = +<tspan class="sf">)</tspan></text>
<rect x="1689.3" y="59.2" width="26.3" height="762.8" fill="url(#cbg)" stroke="#1d1a1b" stroke-width="1.9"/>
<line x1="1715.6" y1="769.44" x2="1720.1" y2="769.44" stroke="#1d1a1b" stroke-width="1.6"/>
<line x1="1715.6" y1="731.27" x2="1720.1" y2="731.27" stroke="#1d1a1b" stroke-width="1.6"/>
<line x1="1715.6" y1="701.66" x2="1720.1" y2="701.66" stroke="#1d1a1b" stroke-width="1.6"/>
<line x1="1715.6" y1="677.47" x2="1720.1" y2="677.47" stroke="#1d1a1b" stroke-width="1.6"/>
<line x1="1715.6" y1="657.02" x2="1720.1" y2="657.02" stroke="#1d1a1b" stroke-width="1.6"/>
<line x1="1715.6" y1="639.31" x2="1720.1" y2="639.31" stroke="#1d1a1b" stroke-width="1.6"/>
<line x1="1715.6" y1="623.68" x2="1720.1" y2="623.68" stroke="#1d1a1b" stroke-width="1.6"/>
<line x1="1715.6" y1="609.7" x2="1723.6" y2="609.7" stroke="#1d1a1b" stroke-width="1.6"/>
<line x1="1715.6" y1="517.74" x2="1720.1" y2="517.74" stroke="#1d1a1b" stroke-width="1.6"/>
<line x1="1715.6" y1="463.94" x2="1720.1" y2="463.94" stroke="#1d1a1b" stroke-width="1.6"/>
<line x1="1715.6" y1="425.77" x2="1720.1" y2="425.77" stroke="#1d1a1b" stroke-width="1.6"/>
<line x1="1715.6" y1="396.16" x2="1720.1" y2="396.16" stroke="#1d1a1b" stroke-width="1.6"/>
<line x1="1715.6" y1="371.97" x2="1720.1" y2="371.97" stroke="#1d1a1b" stroke-width="1.6"/>
<line x1="1715.6" y1="351.52" x2="1720.1" y2="351.52" stroke="#1d1a1b" stroke-width="1.6"/>
<line x1="1715.6" y1="333.81" x2="1720.1" y2="333.81" stroke="#1d1a1b" stroke-width="1.6"/>
<line x1="1715.6" y1="318.18" x2="1720.1" y2="318.18" stroke="#1d1a1b" stroke-width="1.6"/>
<line x1="1715.6" y1="304.2" x2="1723.6" y2="304.2" stroke="#1d1a1b" stroke-width="1.6"/>
<line x1="1715.6" y1="212.24" x2="1720.1" y2="212.24" stroke="#1d1a1b" stroke-width="1.6"/>
<line x1="1715.6" y1="158.44" x2="1720.1" y2="158.44" stroke="#1d1a1b" stroke-width="1.6"/>
<line x1="1715.6" y1="120.27" x2="1720.1" y2="120.27" stroke="#1d1a1b" stroke-width="1.6"/>
<line x1="1715.6" y1="90.66" x2="1720.1" y2="90.66" stroke="#1d1a1b" stroke-width="1.6"/>
<line x1="1715.6" y1="66.47" x2="1720.1" y2="66.47" stroke="#1d1a1b" stroke-width="1.6"/>
<text y="316" class="tk"><tspan x="1734">10</tspan><tspan x="1764.9" class="sup" dy="-10">0</tspan></text>
<text y="406.6" class="tk"><tspan x="1732.9">5</tspan><tspan x="1756.4">·</tspan><tspan x="1774.1">10</tspan><tspan x="1805" class="sup" dy="-10">−1</tspan></text>
<text y="618.9" class="tk"><tspan x="1734">10</tspan><tspan x="1764.9" class="sup" dy="-10">−1</tspan></text>
<text y="710.5" class="tk"><tspan x="1732.9">5</tspan><tspan x="1756.4">·</tspan><tspan x="1774.1">10</tspan><tspan x="1805" class="sup" dy="-10">−2</tspan></text>
<text x="1652.5" y="21.8" class="tl" style="font-size:29px" font-style="italic">A<tspan class="al" style="font-size:15.5px" dy="9.8">α</tspan><tspan dy="-9.8" x="1689.5">(k, E)</tspan></text>
</svg>
</body></html>
